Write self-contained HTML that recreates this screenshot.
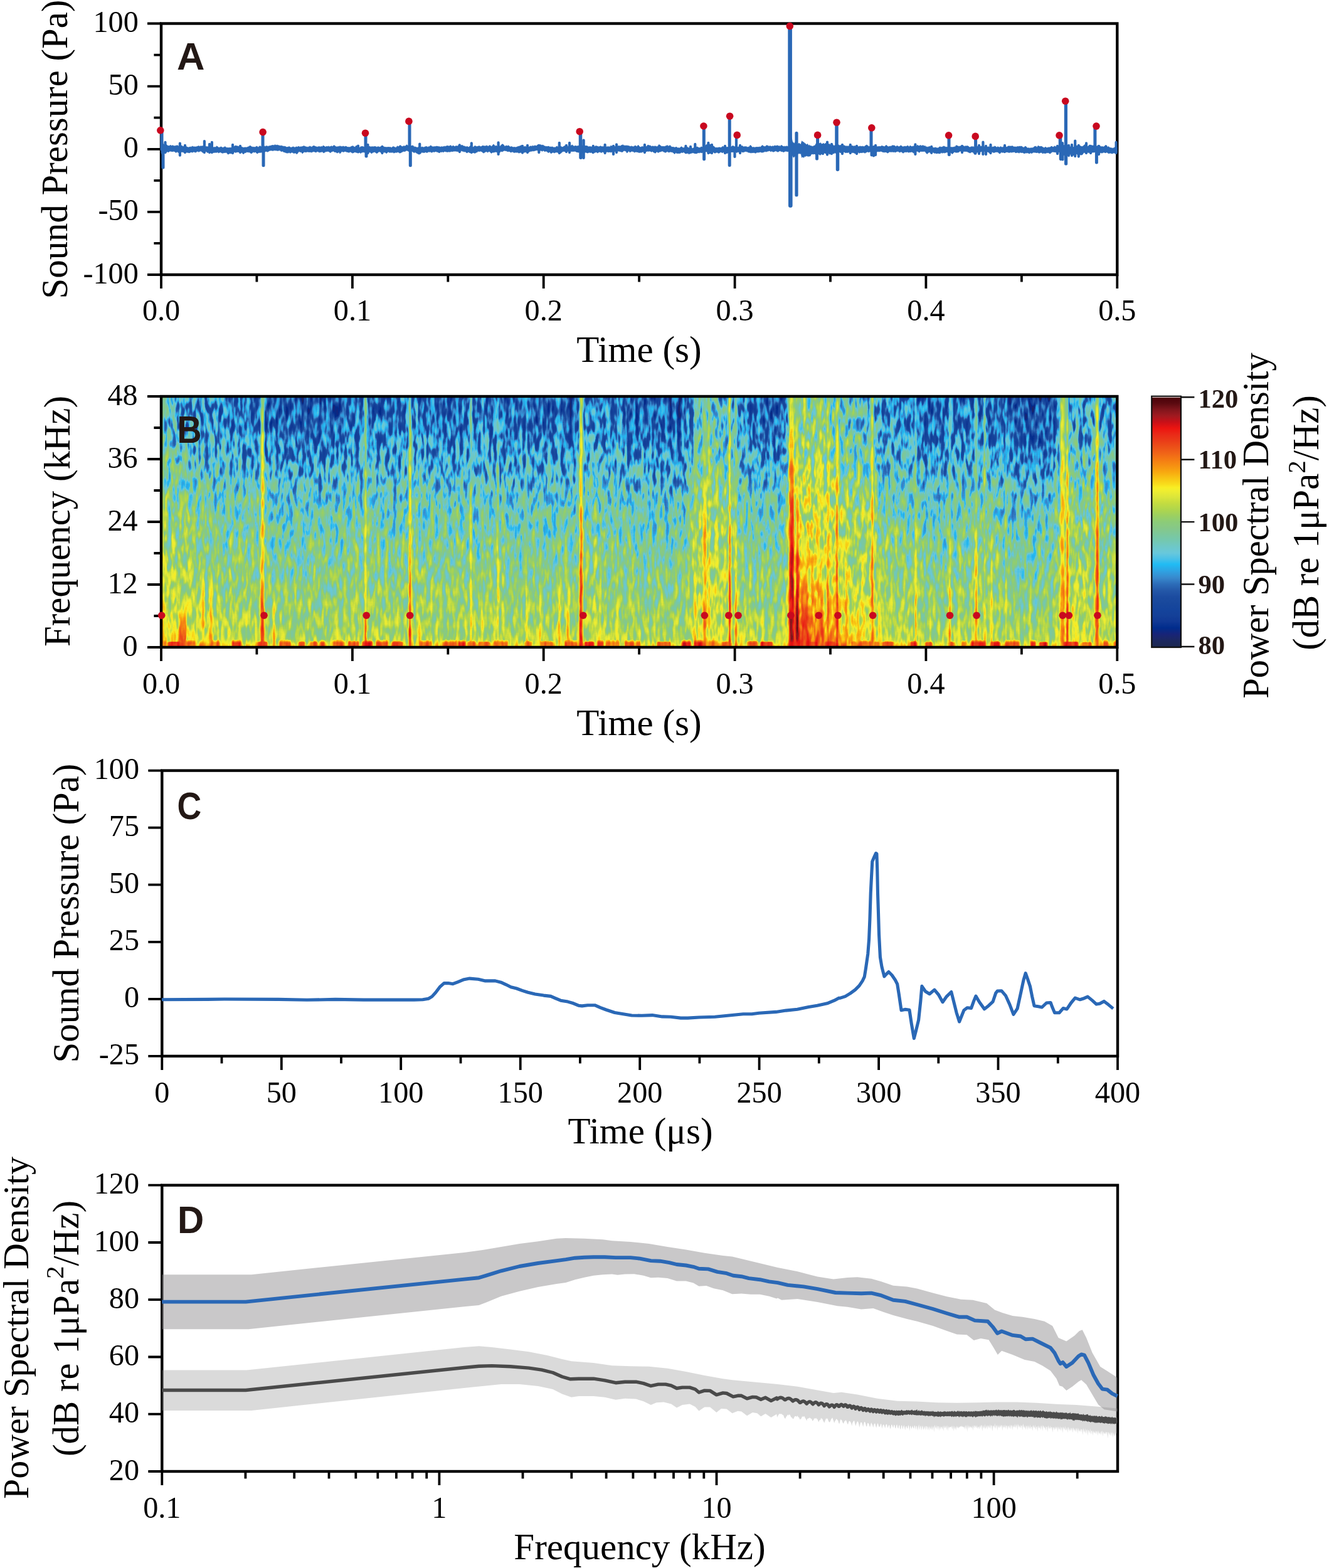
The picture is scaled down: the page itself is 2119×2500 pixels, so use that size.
<!DOCTYPE html>
<html lang="en"><head><meta charset="utf-8"><title>Figure</title>
<style>
html,body{margin:0;padding:0;background:#fff}
body{width:2119px;height:2500px;overflow:hidden}
svg{display:block}
text{white-space:pre}
</style></head><body>
<svg width="2119" height="2500" viewBox="0 0 2119 2500">
<rect width="2119" height="2500" fill="#fff"/>
<defs><filter id="cm" filterUnits="userSpaceOnUse" x="247.0" y="622.0" width="1544.3" height="420.0" color-interpolation-filters="sRGB"><feColorMatrix in="SourceGraphic" type="matrix" values="1 0 0 0 0 1 0 0 0 0 1 0 0 0 0 0 0 0 0 1" result="lv"/><feColorMatrix in="SourceGraphic" type="matrix" values="0 1 0 0 0 0 1 0 0 0 0 1 0 0 0 0 0 0 0 1" result="am"/><feTurbulence type="fractalNoise" baseFrequency="0.15 0.042" numOctaves="2" seed="4" result="n"/><feColorMatrix in="n" type="matrix" values="1 0 0 0 0 1 0 0 0 0 1 0 0 0 0 0 0 0 0 1" result="ng"/><feComponentTransfer in="ng" result="nt"><feFuncR type="table" tableValues="0.29 0.29 0.29 0.31 0.39 0.55 0.65 0.71 0.75 0.78 0.8"/><feFuncG type="table" tableValues="0.29 0.29 0.29 0.31 0.39 0.55 0.65 0.71 0.75 0.78 0.8"/><feFuncB type="table" tableValues="0.29 0.29 0.29 0.31 0.39 0.55 0.65 0.71 0.75 0.78 0.8"/></feComponentTransfer><feComposite in="am" in2="nt" operator="arithmetic" k1="1" k2="0" k3="0" k4="0" result="an"/><feComposite in="lv" in2="an" operator="arithmetic" k1="0" k2="1" k3="0.4133" k4="0" result="s1"/><feTurbulence type="fractalNoise" baseFrequency="0.22 0.004" numOctaves="1" seed="5" result="m"/><feColorMatrix in="m" type="matrix" values="1 0 0 0 0 1 0 0 0 0 1 0 0 0 0 0 0 0 0 1" result="mg"/><feComposite in="s1" in2="mg" operator="arithmetic" k1="0" k2="1" k3="0.0833" k4="-0.0417" result="s"/><feComponentTransfer in="s"><feFuncR type="table" tableValues="0.11 0.11 0.11 0.11 0.11 0.11 0.11 0.11 0.11 0.11 0.11 0.11 0.11 0.11 0.11 0.11 0.11 0.11 0.11 0.11 0.11 0.11 0.11 0.11 0.11 0.11 0.11 0.11 0.11 0.11 0.11 0.11 0.11 0.11 0.11 0.11 0.11 0.11 0.11 0.11 0.11 0.11 0.11 0.102 0.094 0.047 0 0.031 0.063 0.071 0.078 0.078 0.078 0.086 0.094 0.102 0.11 0.125 0.141 0.157 0.173 0.196 0.22 0.204 0.188 0.162 0.136 0.184 0.282 0.345 0.408 0.42 0.431 0.443 0.455 0.471 0.486 0.506 0.525 0.537 0.549 0.58 0.612 0.651 0.69 0.729 0.769 0.816 0.863 0.902 0.941 0.973 0.973 0.973 0.973 0.973 0.973 0.969 0.965 0.961 0.957 0.949 0.941 0.933 0.925 0.922 0.918 0.918 0.918 0.922 0.925 0.855 0.784 0.706 0.627 0.565 0.502 0.427 0.353 0.322 0.29"/><feFuncG type="table" tableValues="0.157 0.157 0.157 0.157 0.157 0.157 0.157 0.157 0.157 0.157 0.157 0.157 0.157 0.157 0.157 0.157 0.157 0.157 0.157 0.157 0.157 0.157 0.157 0.157 0.157 0.157 0.157 0.157 0.157 0.157 0.157 0.157 0.157 0.157 0.157 0.157 0.157 0.157 0.157 0.157 0.157 0.157 0.157 0.149 0.141 0.157 0.173 0.196 0.22 0.235 0.251 0.259 0.267 0.275 0.282 0.29 0.298 0.322 0.345 0.384 0.424 0.478 0.533 0.58 0.627 0.673 0.719 0.743 0.753 0.769 0.784 0.784 0.784 0.784 0.784 0.784 0.784 0.784 0.784 0.792 0.8 0.808 0.816 0.827 0.839 0.851 0.863 0.882 0.902 0.918 0.933 0.933 0.871 0.82 0.769 0.714 0.659 0.612 0.565 0.522 0.478 0.435 0.392 0.353 0.314 0.275 0.235 0.2 0.165 0.122 0.078 0.071 0.063 0.082 0.102 0.092 0.082 0.061 0.039 0.02 0"/><feFuncB type="table" tableValues="0.314 0.314 0.314 0.314 0.314 0.314 0.314 0.314 0.314 0.314 0.314 0.314 0.314 0.314 0.314 0.314 0.314 0.314 0.314 0.314 0.314 0.314 0.314 0.314 0.314 0.314 0.314 0.314 0.314 0.314 0.314 0.314 0.314 0.314 0.314 0.314 0.314 0.314 0.314 0.314 0.314 0.345 0.376 0.424 0.471 0.51 0.549 0.565 0.58 0.588 0.596 0.604 0.612 0.612 0.612 0.62 0.627 0.643 0.659 0.69 0.722 0.761 0.8 0.839 0.878 0.911 0.944 0.939 0.91 0.886 0.863 0.824 0.784 0.737 0.69 0.651 0.612 0.573 0.533 0.502 0.471 0.424 0.376 0.337 0.298 0.275 0.251 0.239 0.227 0.208 0.188 0.141 0.11 0.094 0.078 0.071 0.063 0.067 0.071 0.075 0.078 0.086 0.094 0.094 0.094 0.094 0.094 0.094 0.094 0.078 0.063 0.078 0.094 0.11 0.125 0.118 0.11 0.086 0.063 0.047 0.031"/></feComponentTransfer></filter><filter id="bh" filterUnits="userSpaceOnUse" x="217.0" y="622.0" width="1604.3" height="420.0" color-interpolation-filters="sRGB"><feGaussianBlur stdDeviation="5 0"/></filter><filter id="bs" filterUnits="userSpaceOnUse" x="217.0" y="622.0" width="1604.3" height="420.0" color-interpolation-filters="sRGB"><feGaussianBlur stdDeviation="0.8 0"/></filter><clipPath id="cb"><rect x="257.0" y="632.0" width="1524.3" height="400.0"/></clipPath><linearGradient id="g1" gradientUnits="userSpaceOnUse" x1="0" y1="632.0" x2="0" y2="1032.0"><stop offset="0.0000" stop-color="#57ff00"/><stop offset="0.1250" stop-color="#5aff00"/><stop offset="0.2500" stop-color="#63ff00"/><stop offset="0.3750" stop-color="#72eb00"/><stop offset="0.5000" stop-color="#7cd600"/><stop offset="0.6250" stop-color="#85c200"/><stop offset="0.7500" stop-color="#8ead00"/><stop offset="0.8125" stop-color="#93a300"/><stop offset="0.8750" stop-color="#989900"/><stop offset="0.9375" stop-color="#9d8f00"/><stop offset="0.9688" stop-color="#a18a00"/><stop offset="0.9792" stop-color="#a68800"/><stop offset="0.9896" stop-color="#ae8600"/><stop offset="1.0000" stop-color="#b38500"/></linearGradient><linearGradient id="g2" gradientUnits="userSpaceOnUse" x1="0" y1="632.0" x2="0" y2="1032.0"><stop offset="0.0000" stop-color="#57ff00"/><stop offset="0.1250" stop-color="#5aff00"/><stop offset="0.2500" stop-color="#63ff00"/><stop offset="0.3750" stop-color="#72eb00"/><stop offset="0.5000" stop-color="#7cd600"/><stop offset="0.6250" stop-color="#85c200"/><stop offset="0.7500" stop-color="#8ead00"/><stop offset="0.8125" stop-color="#93a300"/><stop offset="0.8750" stop-color="#989900"/><stop offset="0.9375" stop-color="#9d8f00"/><stop offset="0.9688" stop-color="#a18a00"/><stop offset="0.9792" stop-color="#a68800"/><stop offset="0.9896" stop-color="#ae8600"/><stop offset="1.0000" stop-color="#b38500"/></linearGradient><linearGradient id="g3" gradientUnits="userSpaceOnUse" x1="0" y1="632.0" x2="0" y2="1032.0"><stop offset="0.0000" stop-color="#57ff00"/><stop offset="0.1250" stop-color="#5aff00"/><stop offset="0.2500" stop-color="#63ff00"/><stop offset="0.3750" stop-color="#72eb00"/><stop offset="0.5000" stop-color="#7cd600"/><stop offset="0.6250" stop-color="#85c200"/><stop offset="0.7500" stop-color="#8dad00"/><stop offset="0.8125" stop-color="#93a300"/><stop offset="0.8750" stop-color="#989900"/><stop offset="0.9375" stop-color="#9d8f00"/><stop offset="0.9688" stop-color="#a18a00"/><stop offset="0.9792" stop-color="#a68800"/><stop offset="0.9896" stop-color="#ae8600"/><stop offset="1.0000" stop-color="#b28500"/></linearGradient><linearGradient id="g4" gradientUnits="userSpaceOnUse" x1="0" y1="632.0" x2="0" y2="1032.0"><stop offset="0.0000" stop-color="#56ff00"/><stop offset="0.1250" stop-color="#59ff00"/><stop offset="0.2500" stop-color="#62ff00"/><stop offset="0.3750" stop-color="#71eb00"/><stop offset="0.5000" stop-color="#7bd600"/><stop offset="0.6250" stop-color="#84c200"/><stop offset="0.7500" stop-color="#8dad00"/><stop offset="0.8125" stop-color="#92a300"/><stop offset="0.8750" stop-color="#989900"/><stop offset="0.9375" stop-color="#9d8f00"/><stop offset="0.9688" stop-color="#a18a00"/><stop offset="0.9792" stop-color="#a58800"/><stop offset="0.9896" stop-color="#ae8600"/><stop offset="1.0000" stop-color="#b28500"/></linearGradient><linearGradient id="g5" gradientUnits="userSpaceOnUse" x1="0" y1="632.0" x2="0" y2="1032.0"><stop offset="0.0000" stop-color="#54ff00"/><stop offset="0.1250" stop-color="#57ff00"/><stop offset="0.2500" stop-color="#61ff00"/><stop offset="0.3750" stop-color="#6feb00"/><stop offset="0.5000" stop-color="#7ad600"/><stop offset="0.6250" stop-color="#83c200"/><stop offset="0.7500" stop-color="#8cad00"/><stop offset="0.8125" stop-color="#91a300"/><stop offset="0.8750" stop-color="#979900"/><stop offset="0.9375" stop-color="#9c8f00"/><stop offset="0.9688" stop-color="#a08a00"/><stop offset="0.9792" stop-color="#a58800"/><stop offset="0.9896" stop-color="#ad8600"/><stop offset="1.0000" stop-color="#b18500"/></linearGradient><linearGradient id="g6" gradientUnits="userSpaceOnUse" x1="0" y1="632.0" x2="0" y2="1032.0"><stop offset="0.0000" stop-color="#52ff00"/><stop offset="0.1250" stop-color="#55ff00"/><stop offset="0.2500" stop-color="#5fff00"/><stop offset="0.3750" stop-color="#6eeb00"/><stop offset="0.5000" stop-color="#79d600"/><stop offset="0.6250" stop-color="#82c200"/><stop offset="0.7500" stop-color="#8bad00"/><stop offset="0.8125" stop-color="#90a300"/><stop offset="0.8750" stop-color="#969900"/><stop offset="0.9375" stop-color="#9b8f00"/><stop offset="0.9688" stop-color="#9f8a00"/><stop offset="0.9792" stop-color="#a48800"/><stop offset="0.9896" stop-color="#ac8600"/><stop offset="1.0000" stop-color="#b18500"/></linearGradient><linearGradient id="g7" gradientUnits="userSpaceOnUse" x1="0" y1="632.0" x2="0" y2="1032.0"><stop offset="0.0000" stop-color="#4fff00"/><stop offset="0.1250" stop-color="#53ff00"/><stop offset="0.2500" stop-color="#5dff00"/><stop offset="0.3750" stop-color="#6ceb00"/><stop offset="0.5000" stop-color="#77d600"/><stop offset="0.6250" stop-color="#80c200"/><stop offset="0.7500" stop-color="#89ad00"/><stop offset="0.8125" stop-color="#8fa300"/><stop offset="0.8750" stop-color="#959900"/><stop offset="0.9375" stop-color="#9a8f00"/><stop offset="0.9688" stop-color="#9e8a00"/><stop offset="0.9792" stop-color="#a38800"/><stop offset="0.9896" stop-color="#ab8600"/><stop offset="1.0000" stop-color="#b08500"/></linearGradient><linearGradient id="g8" gradientUnits="userSpaceOnUse" x1="0" y1="632.0" x2="0" y2="1032.0"><stop offset="0.0000" stop-color="#4dff00"/><stop offset="0.1250" stop-color="#50ff00"/><stop offset="0.2500" stop-color="#5aff00"/><stop offset="0.3750" stop-color="#6aeb00"/><stop offset="0.5000" stop-color="#75d600"/><stop offset="0.6250" stop-color="#7fc200"/><stop offset="0.7500" stop-color="#88ad00"/><stop offset="0.8125" stop-color="#8ea300"/><stop offset="0.8750" stop-color="#939900"/><stop offset="0.9375" stop-color="#988f00"/><stop offset="0.9688" stop-color="#9c8a00"/><stop offset="0.9792" stop-color="#a18800"/><stop offset="0.9896" stop-color="#a98600"/><stop offset="1.0000" stop-color="#ae8500"/></linearGradient><linearGradient id="g9" gradientUnits="userSpaceOnUse" x1="0" y1="632.0" x2="0" y2="1032.0"><stop offset="0.0000" stop-color="#4bff00"/><stop offset="0.1250" stop-color="#4eff00"/><stop offset="0.2500" stop-color="#59ff00"/><stop offset="0.3750" stop-color="#68eb00"/><stop offset="0.5000" stop-color="#74d600"/><stop offset="0.6250" stop-color="#7dc200"/><stop offset="0.7500" stop-color="#87ad00"/><stop offset="0.8125" stop-color="#8ca300"/><stop offset="0.8750" stop-color="#929900"/><stop offset="0.9375" stop-color="#978f00"/><stop offset="0.9688" stop-color="#9a8a00"/><stop offset="0.9792" stop-color="#9f8800"/><stop offset="0.9896" stop-color="#a78600"/><stop offset="1.0000" stop-color="#ac8500"/></linearGradient><linearGradient id="g10" gradientUnits="userSpaceOnUse" x1="0" y1="632.0" x2="0" y2="1032.0"><stop offset="0.0000" stop-color="#4aff00"/><stop offset="0.1250" stop-color="#4eff00"/><stop offset="0.2500" stop-color="#58ff00"/><stop offset="0.3750" stop-color="#68eb00"/><stop offset="0.5000" stop-color="#73d600"/><stop offset="0.6250" stop-color="#7dc200"/><stop offset="0.7500" stop-color="#86ad00"/><stop offset="0.8125" stop-color="#8ba300"/><stop offset="0.8750" stop-color="#919900"/><stop offset="0.9375" stop-color="#958f00"/><stop offset="0.9688" stop-color="#998a00"/><stop offset="0.9792" stop-color="#9e8800"/><stop offset="0.9896" stop-color="#a68600"/><stop offset="1.0000" stop-color="#aa8500"/></linearGradient><linearGradient id="g11" gradientUnits="userSpaceOnUse" x1="0" y1="632.0" x2="0" y2="1032.0"><stop offset="0.0000" stop-color="#49ff00"/><stop offset="0.1250" stop-color="#4dff00"/><stop offset="0.2500" stop-color="#57ff00"/><stop offset="0.3750" stop-color="#67eb00"/><stop offset="0.5000" stop-color="#72d600"/><stop offset="0.6250" stop-color="#7cc200"/><stop offset="0.7500" stop-color="#85ad00"/><stop offset="0.8125" stop-color="#8ba300"/><stop offset="0.8750" stop-color="#909900"/><stop offset="0.9375" stop-color="#958f00"/><stop offset="0.9688" stop-color="#988a00"/><stop offset="0.9792" stop-color="#9d8800"/><stop offset="0.9896" stop-color="#a58600"/><stop offset="1.0000" stop-color="#a98500"/></linearGradient><linearGradient id="g12" gradientUnits="userSpaceOnUse" x1="0" y1="632.0" x2="0" y2="1032.0"><stop offset="0.0000" stop-color="#48ff00"/><stop offset="0.1250" stop-color="#4cff00"/><stop offset="0.2500" stop-color="#56ff00"/><stop offset="0.3750" stop-color="#66eb00"/><stop offset="0.5000" stop-color="#72d600"/><stop offset="0.6250" stop-color="#7cc200"/><stop offset="0.7500" stop-color="#85ad00"/><stop offset="0.8125" stop-color="#8aa300"/><stop offset="0.8750" stop-color="#8f9900"/><stop offset="0.9375" stop-color="#948f00"/><stop offset="0.9688" stop-color="#988a00"/><stop offset="0.9792" stop-color="#9c8800"/><stop offset="0.9896" stop-color="#a48600"/><stop offset="1.0000" stop-color="#a98500"/></linearGradient><linearGradient id="g13" gradientUnits="userSpaceOnUse" x1="0" y1="632.0" x2="0" y2="1032.0"><stop offset="0.0000" stop-color="#47ff00"/><stop offset="0.1250" stop-color="#4bff00"/><stop offset="0.2500" stop-color="#55ff00"/><stop offset="0.3750" stop-color="#65eb00"/><stop offset="0.5000" stop-color="#71d600"/><stop offset="0.6250" stop-color="#7bc200"/><stop offset="0.7500" stop-color="#84ad00"/><stop offset="0.8125" stop-color="#89a300"/><stop offset="0.8750" stop-color="#8f9900"/><stop offset="0.9375" stop-color="#938f00"/><stop offset="0.9688" stop-color="#978a00"/><stop offset="0.9792" stop-color="#9b8800"/><stop offset="0.9896" stop-color="#a38600"/><stop offset="1.0000" stop-color="#a88500"/></linearGradient><linearGradient id="g14" gradientUnits="userSpaceOnUse" x1="0" y1="632.0" x2="0" y2="1032.0"><stop offset="0.0000" stop-color="#46ff00"/><stop offset="0.1250" stop-color="#4aff00"/><stop offset="0.2500" stop-color="#54ff00"/><stop offset="0.3750" stop-color="#64eb00"/><stop offset="0.5000" stop-color="#70d600"/><stop offset="0.6250" stop-color="#7ac200"/><stop offset="0.7500" stop-color="#84ad00"/><stop offset="0.8125" stop-color="#89a300"/><stop offset="0.8750" stop-color="#8e9900"/><stop offset="0.9375" stop-color="#938f00"/><stop offset="0.9688" stop-color="#968a00"/><stop offset="0.9792" stop-color="#9b8800"/><stop offset="0.9896" stop-color="#a38600"/><stop offset="1.0000" stop-color="#a78500"/></linearGradient><linearGradient id="g15" gradientUnits="userSpaceOnUse" x1="0" y1="632.0" x2="0" y2="1032.0"><stop offset="0.0000" stop-color="#46ff00"/><stop offset="0.1250" stop-color="#4aff00"/><stop offset="0.2500" stop-color="#54ff00"/><stop offset="0.3750" stop-color="#65eb00"/><stop offset="0.5000" stop-color="#70d600"/><stop offset="0.6250" stop-color="#7bc200"/><stop offset="0.7500" stop-color="#84ad00"/><stop offset="0.8125" stop-color="#89a300"/><stop offset="0.8750" stop-color="#8e9900"/><stop offset="0.9375" stop-color="#938f00"/><stop offset="0.9688" stop-color="#968a00"/><stop offset="0.9792" stop-color="#9b8800"/><stop offset="0.9896" stop-color="#a38600"/><stop offset="1.0000" stop-color="#a78500"/></linearGradient><linearGradient id="g16" gradientUnits="userSpaceOnUse" x1="0" y1="632.0" x2="0" y2="1032.0"><stop offset="0.0000" stop-color="#44ff00"/><stop offset="0.1250" stop-color="#49ff00"/><stop offset="0.2500" stop-color="#53ff00"/><stop offset="0.3750" stop-color="#64eb00"/><stop offset="0.5000" stop-color="#6fd600"/><stop offset="0.6250" stop-color="#7ac200"/><stop offset="0.7500" stop-color="#83ad00"/><stop offset="0.8125" stop-color="#88a300"/><stop offset="0.8750" stop-color="#8d9900"/><stop offset="0.9375" stop-color="#928f00"/><stop offset="0.9688" stop-color="#968a00"/><stop offset="0.9792" stop-color="#9a8800"/><stop offset="0.9896" stop-color="#a28600"/><stop offset="1.0000" stop-color="#a78500"/></linearGradient><linearGradient id="g17" gradientUnits="userSpaceOnUse" x1="0" y1="632.0" x2="0" y2="1032.0"><stop offset="0.0000" stop-color="#41ff00"/><stop offset="0.1250" stop-color="#46ff00"/><stop offset="0.2500" stop-color="#51ff00"/><stop offset="0.3750" stop-color="#61eb00"/><stop offset="0.5000" stop-color="#6dd600"/><stop offset="0.6250" stop-color="#78c200"/><stop offset="0.7500" stop-color="#81ad00"/><stop offset="0.8125" stop-color="#87a300"/><stop offset="0.8750" stop-color="#8c9900"/><stop offset="0.9375" stop-color="#918f00"/><stop offset="0.9688" stop-color="#948a00"/><stop offset="0.9792" stop-color="#998800"/><stop offset="0.9896" stop-color="#a18600"/><stop offset="1.0000" stop-color="#a68500"/></linearGradient><linearGradient id="g18" gradientUnits="userSpaceOnUse" x1="0" y1="632.0" x2="0" y2="1032.0"><stop offset="0.0000" stop-color="#40ff00"/><stop offset="0.1250" stop-color="#45ff00"/><stop offset="0.2500" stop-color="#50ff00"/><stop offset="0.3750" stop-color="#61eb00"/><stop offset="0.5000" stop-color="#6dd600"/><stop offset="0.6250" stop-color="#77c200"/><stop offset="0.7500" stop-color="#81ad00"/><stop offset="0.8125" stop-color="#86a300"/><stop offset="0.8750" stop-color="#8c9900"/><stop offset="0.9375" stop-color="#918f00"/><stop offset="0.9688" stop-color="#948a00"/><stop offset="0.9792" stop-color="#998800"/><stop offset="0.9896" stop-color="#a18600"/><stop offset="1.0000" stop-color="#a68500"/></linearGradient><linearGradient id="g19" gradientUnits="userSpaceOnUse" x1="0" y1="632.0" x2="0" y2="1032.0"><stop offset="0.0000" stop-color="#40ff00"/><stop offset="0.1250" stop-color="#45ff00"/><stop offset="0.2500" stop-color="#50ff00"/><stop offset="0.3750" stop-color="#60eb00"/><stop offset="0.5000" stop-color="#6cd600"/><stop offset="0.6250" stop-color="#77c200"/><stop offset="0.7500" stop-color="#81ad00"/><stop offset="0.8125" stop-color="#86a300"/><stop offset="0.8750" stop-color="#8b9900"/><stop offset="0.9375" stop-color="#908f00"/><stop offset="0.9688" stop-color="#948a00"/><stop offset="0.9792" stop-color="#998800"/><stop offset="0.9896" stop-color="#a18600"/><stop offset="1.0000" stop-color="#a58500"/></linearGradient><linearGradient id="g20" gradientUnits="userSpaceOnUse" x1="0" y1="632.0" x2="0" y2="1032.0"><stop offset="0.0000" stop-color="#3fff00"/><stop offset="0.1250" stop-color="#44ff00"/><stop offset="0.2500" stop-color="#4fff00"/><stop offset="0.3750" stop-color="#60eb00"/><stop offset="0.5000" stop-color="#6cd600"/><stop offset="0.6250" stop-color="#77c200"/><stop offset="0.7500" stop-color="#81ad00"/><stop offset="0.8125" stop-color="#86a300"/><stop offset="0.8750" stop-color="#8b9900"/><stop offset="0.9375" stop-color="#908f00"/><stop offset="0.9688" stop-color="#948a00"/><stop offset="0.9792" stop-color="#988800"/><stop offset="0.9896" stop-color="#a08600"/><stop offset="1.0000" stop-color="#a58500"/></linearGradient><linearGradient id="g21" gradientUnits="userSpaceOnUse" x1="0" y1="632.0" x2="0" y2="1032.0"><stop offset="0.0000" stop-color="#3fff00"/><stop offset="0.1250" stop-color="#44ff00"/><stop offset="0.2500" stop-color="#4fff00"/><stop offset="0.3750" stop-color="#5feb00"/><stop offset="0.5000" stop-color="#6cd600"/><stop offset="0.6250" stop-color="#76c200"/><stop offset="0.7500" stop-color="#80ad00"/><stop offset="0.8125" stop-color="#86a300"/><stop offset="0.8750" stop-color="#8b9900"/><stop offset="0.9375" stop-color="#908f00"/><stop offset="0.9688" stop-color="#948a00"/><stop offset="0.9792" stop-color="#988800"/><stop offset="0.9896" stop-color="#a08600"/><stop offset="1.0000" stop-color="#a58500"/></linearGradient><linearGradient id="g22" gradientUnits="userSpaceOnUse" x1="0" y1="632.0" x2="0" y2="1032.0"><stop offset="0.0000" stop-color="#3fff00"/><stop offset="0.1250" stop-color="#44ff00"/><stop offset="0.2500" stop-color="#4fff00"/><stop offset="0.3750" stop-color="#5feb00"/><stop offset="0.5000" stop-color="#6cd600"/><stop offset="0.6250" stop-color="#77c200"/><stop offset="0.7500" stop-color="#80ad00"/><stop offset="0.8125" stop-color="#86a300"/><stop offset="0.8750" stop-color="#8b9900"/><stop offset="0.9375" stop-color="#908f00"/><stop offset="0.9688" stop-color="#948a00"/><stop offset="0.9792" stop-color="#988800"/><stop offset="0.9896" stop-color="#a08600"/><stop offset="1.0000" stop-color="#a58500"/></linearGradient><linearGradient id="g23" gradientUnits="userSpaceOnUse" x1="0" y1="632.0" x2="0" y2="1032.0"><stop offset="0.0000" stop-color="#3fff00"/><stop offset="0.1250" stop-color="#44ff00"/><stop offset="0.2500" stop-color="#4fff00"/><stop offset="0.3750" stop-color="#60eb00"/><stop offset="0.5000" stop-color="#6cd600"/><stop offset="0.6250" stop-color="#77c200"/><stop offset="0.7500" stop-color="#80ad00"/><stop offset="0.8125" stop-color="#86a300"/><stop offset="0.8750" stop-color="#8b9900"/><stop offset="0.9375" stop-color="#908f00"/><stop offset="0.9688" stop-color="#948a00"/><stop offset="0.9792" stop-color="#988800"/><stop offset="0.9896" stop-color="#a08600"/><stop offset="1.0000" stop-color="#a58500"/></linearGradient><linearGradient id="g24" gradientUnits="userSpaceOnUse" x1="0" y1="632.0" x2="0" y2="1032.0"><stop offset="0.0000" stop-color="#3fff00"/><stop offset="0.1250" stop-color="#44ff00"/><stop offset="0.2500" stop-color="#4fff00"/><stop offset="0.3750" stop-color="#60eb00"/><stop offset="0.5000" stop-color="#6cd600"/><stop offset="0.6250" stop-color="#77c200"/><stop offset="0.7500" stop-color="#81ad00"/><stop offset="0.8125" stop-color="#86a300"/><stop offset="0.8750" stop-color="#8b9900"/><stop offset="0.9375" stop-color="#908f00"/><stop offset="0.9688" stop-color="#948a00"/><stop offset="0.9792" stop-color="#988800"/><stop offset="0.9896" stop-color="#a18600"/><stop offset="1.0000" stop-color="#a58500"/></linearGradient><linearGradient id="g25" gradientUnits="userSpaceOnUse" x1="0" y1="632.0" x2="0" y2="1032.0"><stop offset="0.0000" stop-color="#40ff00"/><stop offset="0.1250" stop-color="#44ff00"/><stop offset="0.2500" stop-color="#4fff00"/><stop offset="0.3750" stop-color="#60eb00"/><stop offset="0.5000" stop-color="#6cd600"/><stop offset="0.6250" stop-color="#77c200"/><stop offset="0.7500" stop-color="#81ad00"/><stop offset="0.8125" stop-color="#86a300"/><stop offset="0.8750" stop-color="#8b9900"/><stop offset="0.9375" stop-color="#908f00"/><stop offset="0.9688" stop-color="#948a00"/><stop offset="0.9792" stop-color="#998800"/><stop offset="0.9896" stop-color="#a18600"/><stop offset="1.0000" stop-color="#a58500"/></linearGradient><linearGradient id="g26" gradientUnits="userSpaceOnUse" x1="0" y1="632.0" x2="0" y2="1032.0"><stop offset="0.0000" stop-color="#40ff00"/><stop offset="0.1250" stop-color="#45ff00"/><stop offset="0.2500" stop-color="#50ff00"/><stop offset="0.3750" stop-color="#60eb00"/><stop offset="0.5000" stop-color="#6dd600"/><stop offset="0.6250" stop-color="#77c200"/><stop offset="0.7500" stop-color="#81ad00"/><stop offset="0.8125" stop-color="#86a300"/><stop offset="0.8750" stop-color="#8b9900"/><stop offset="0.9375" stop-color="#908f00"/><stop offset="0.9688" stop-color="#948a00"/><stop offset="0.9792" stop-color="#998800"/><stop offset="0.9896" stop-color="#a18600"/><stop offset="1.0000" stop-color="#a58500"/></linearGradient><linearGradient id="g27" gradientUnits="userSpaceOnUse" x1="0" y1="632.0" x2="0" y2="1032.0"><stop offset="0.0000" stop-color="#42ff00"/><stop offset="0.1250" stop-color="#47ff00"/><stop offset="0.2500" stop-color="#52ff00"/><stop offset="0.3750" stop-color="#62eb00"/><stop offset="0.5000" stop-color="#6ed600"/><stop offset="0.6250" stop-color="#78c200"/><stop offset="0.7500" stop-color="#82ad00"/><stop offset="0.8125" stop-color="#87a300"/><stop offset="0.8750" stop-color="#8c9900"/><stop offset="0.9375" stop-color="#918f00"/><stop offset="0.9688" stop-color="#958a00"/><stop offset="0.9792" stop-color="#998800"/><stop offset="0.9896" stop-color="#a28600"/><stop offset="1.0000" stop-color="#a68500"/></linearGradient><linearGradient id="g28" gradientUnits="userSpaceOnUse" x1="0" y1="632.0" x2="0" y2="1032.0"><stop offset="0.0000" stop-color="#45ff00"/><stop offset="0.1250" stop-color="#49ff00"/><stop offset="0.2500" stop-color="#54ff00"/><stop offset="0.3750" stop-color="#64eb00"/><stop offset="0.5000" stop-color="#70d600"/><stop offset="0.6250" stop-color="#7ac200"/><stop offset="0.7500" stop-color="#83ad00"/><stop offset="0.8125" stop-color="#88a300"/><stop offset="0.8750" stop-color="#8d9900"/><stop offset="0.9375" stop-color="#928f00"/><stop offset="0.9688" stop-color="#968a00"/><stop offset="0.9792" stop-color="#9a8800"/><stop offset="0.9896" stop-color="#a28600"/><stop offset="1.0000" stop-color="#a78500"/></linearGradient><linearGradient id="g29" gradientUnits="userSpaceOnUse" x1="0" y1="632.0" x2="0" y2="1032.0"><stop offset="0.0000" stop-color="#45ff00"/><stop offset="0.1250" stop-color="#49ff00"/><stop offset="0.2500" stop-color="#54ff00"/><stop offset="0.3750" stop-color="#64eb00"/><stop offset="0.5000" stop-color="#70d600"/><stop offset="0.6250" stop-color="#7ac200"/><stop offset="0.7500" stop-color="#83ad00"/><stop offset="0.8125" stop-color="#89a300"/><stop offset="0.8750" stop-color="#8e9900"/><stop offset="0.9375" stop-color="#928f00"/><stop offset="0.9688" stop-color="#968a00"/><stop offset="0.9792" stop-color="#9b8800"/><stop offset="0.9896" stop-color="#a38600"/><stop offset="1.0000" stop-color="#a78500"/></linearGradient><linearGradient id="g30" gradientUnits="userSpaceOnUse" x1="0" y1="632.0" x2="0" y2="1032.0"><stop offset="0.0000" stop-color="#45ff00"/><stop offset="0.1250" stop-color="#49ff00"/><stop offset="0.2500" stop-color="#54ff00"/><stop offset="0.3750" stop-color="#64eb00"/><stop offset="0.5000" stop-color="#70d600"/><stop offset="0.6250" stop-color="#7ac200"/><stop offset="0.7500" stop-color="#83ad00"/><stop offset="0.8125" stop-color="#89a300"/><stop offset="0.8750" stop-color="#8e9900"/><stop offset="0.9375" stop-color="#928f00"/><stop offset="0.9688" stop-color="#968a00"/><stop offset="0.9792" stop-color="#9b8800"/><stop offset="0.9896" stop-color="#a38600"/><stop offset="1.0000" stop-color="#a78500"/></linearGradient><linearGradient id="g31" gradientUnits="userSpaceOnUse" x1="0" y1="632.0" x2="0" y2="1032.0"><stop offset="0.0000" stop-color="#45ff00"/><stop offset="0.1250" stop-color="#49ff00"/><stop offset="0.2500" stop-color="#54ff00"/><stop offset="0.3750" stop-color="#64eb00"/><stop offset="0.5000" stop-color="#70d600"/><stop offset="0.6250" stop-color="#7ac200"/><stop offset="0.7500" stop-color="#83ad00"/><stop offset="0.8125" stop-color="#89a300"/><stop offset="0.8750" stop-color="#8e9900"/><stop offset="0.9375" stop-color="#928f00"/><stop offset="0.9688" stop-color="#968a00"/><stop offset="0.9792" stop-color="#9b8800"/><stop offset="0.9896" stop-color="#a38600"/><stop offset="1.0000" stop-color="#a78500"/></linearGradient><linearGradient id="g32" gradientUnits="userSpaceOnUse" x1="0" y1="632.0" x2="0" y2="1032.0"><stop offset="0.0000" stop-color="#44ff00"/><stop offset="0.1250" stop-color="#49ff00"/><stop offset="0.2500" stop-color="#53ff00"/><stop offset="0.3750" stop-color="#64eb00"/><stop offset="0.5000" stop-color="#6fd600"/><stop offset="0.6250" stop-color="#7ac200"/><stop offset="0.7500" stop-color="#83ad00"/><stop offset="0.8125" stop-color="#88a300"/><stop offset="0.8750" stop-color="#8d9900"/><stop offset="0.9375" stop-color="#928f00"/><stop offset="0.9688" stop-color="#968a00"/><stop offset="0.9792" stop-color="#9a8800"/><stop offset="0.9896" stop-color="#a28600"/><stop offset="1.0000" stop-color="#a78500"/></linearGradient><linearGradient id="g33" gradientUnits="userSpaceOnUse" x1="0" y1="632.0" x2="0" y2="1032.0"><stop offset="0.0000" stop-color="#43ff00"/><stop offset="0.1250" stop-color="#48ff00"/><stop offset="0.2500" stop-color="#53ff00"/><stop offset="0.3750" stop-color="#63eb00"/><stop offset="0.5000" stop-color="#6fd600"/><stop offset="0.6250" stop-color="#79c200"/><stop offset="0.7500" stop-color="#83ad00"/><stop offset="0.8125" stop-color="#88a300"/><stop offset="0.8750" stop-color="#8d9900"/><stop offset="0.9375" stop-color="#928f00"/><stop offset="0.9688" stop-color="#958a00"/><stop offset="0.9792" stop-color="#9a8800"/><stop offset="0.9896" stop-color="#a28600"/><stop offset="1.0000" stop-color="#a78500"/></linearGradient><linearGradient id="g34" gradientUnits="userSpaceOnUse" x1="0" y1="632.0" x2="0" y2="1032.0"><stop offset="0.0000" stop-color="#43ff00"/><stop offset="0.1250" stop-color="#47ff00"/><stop offset="0.2500" stop-color="#52ff00"/><stop offset="0.3750" stop-color="#62eb00"/><stop offset="0.5000" stop-color="#6ed600"/><stop offset="0.6250" stop-color="#79c200"/><stop offset="0.7500" stop-color="#82ad00"/><stop offset="0.8125" stop-color="#87a300"/><stop offset="0.8750" stop-color="#8d9900"/><stop offset="0.9375" stop-color="#918f00"/><stop offset="0.9688" stop-color="#958a00"/><stop offset="0.9792" stop-color="#9a8800"/><stop offset="0.9896" stop-color="#a28600"/><stop offset="1.0000" stop-color="#a68500"/></linearGradient><linearGradient id="g35" gradientUnits="userSpaceOnUse" x1="0" y1="632.0" x2="0" y2="1032.0"><stop offset="0.0000" stop-color="#45ff00"/><stop offset="0.1250" stop-color="#49ff00"/><stop offset="0.2500" stop-color="#54ff00"/><stop offset="0.3750" stop-color="#64eb00"/><stop offset="0.5000" stop-color="#70d600"/><stop offset="0.6250" stop-color="#7ac200"/><stop offset="0.7500" stop-color="#83ad00"/><stop offset="0.8125" stop-color="#88a300"/><stop offset="0.8750" stop-color="#8e9900"/><stop offset="0.9375" stop-color="#928f00"/><stop offset="0.9688" stop-color="#968a00"/><stop offset="0.9792" stop-color="#9a8800"/><stop offset="0.9896" stop-color="#a28600"/><stop offset="1.0000" stop-color="#a78500"/></linearGradient><linearGradient id="g36" gradientUnits="userSpaceOnUse" x1="0" y1="632.0" x2="0" y2="1032.0"><stop offset="0.0000" stop-color="#48ff00"/><stop offset="0.1250" stop-color="#4cff00"/><stop offset="0.2500" stop-color="#57ff00"/><stop offset="0.3750" stop-color="#66eb00"/><stop offset="0.5000" stop-color="#72d600"/><stop offset="0.6250" stop-color="#7cc200"/><stop offset="0.7500" stop-color="#85ad00"/><stop offset="0.8125" stop-color="#8aa300"/><stop offset="0.8750" stop-color="#8f9900"/><stop offset="0.9375" stop-color="#948f00"/><stop offset="0.9688" stop-color="#978a00"/><stop offset="0.9792" stop-color="#9c8800"/><stop offset="0.9896" stop-color="#a48600"/><stop offset="1.0000" stop-color="#a88500"/></linearGradient><linearGradient id="g37" gradientUnits="userSpaceOnUse" x1="0" y1="632.0" x2="0" y2="1032.0"><stop offset="0.0000" stop-color="#47ff00"/><stop offset="0.1250" stop-color="#4bff00"/><stop offset="0.2500" stop-color="#56ff00"/><stop offset="0.3750" stop-color="#66eb00"/><stop offset="0.5000" stop-color="#71d600"/><stop offset="0.6250" stop-color="#7bc200"/><stop offset="0.7500" stop-color="#85ad00"/><stop offset="0.8125" stop-color="#8aa300"/><stop offset="0.8750" stop-color="#8f9900"/><stop offset="0.9375" stop-color="#938f00"/><stop offset="0.9688" stop-color="#978a00"/><stop offset="0.9792" stop-color="#9b8800"/><stop offset="0.9896" stop-color="#a38600"/><stop offset="1.0000" stop-color="#a88500"/></linearGradient><linearGradient id="g38" gradientUnits="userSpaceOnUse" x1="0" y1="632.0" x2="0" y2="1032.0"><stop offset="0.0000" stop-color="#46ff00"/><stop offset="0.1250" stop-color="#4aff00"/><stop offset="0.2500" stop-color="#55ff00"/><stop offset="0.3750" stop-color="#65eb00"/><stop offset="0.5000" stop-color="#70d600"/><stop offset="0.6250" stop-color="#7bc200"/><stop offset="0.7500" stop-color="#84ad00"/><stop offset="0.8125" stop-color="#89a300"/><stop offset="0.8750" stop-color="#8e9900"/><stop offset="0.9375" stop-color="#938f00"/><stop offset="0.9688" stop-color="#968a00"/><stop offset="0.9792" stop-color="#9b8800"/><stop offset="0.9896" stop-color="#a38600"/><stop offset="1.0000" stop-color="#a78500"/></linearGradient><linearGradient id="g39" gradientUnits="userSpaceOnUse" x1="0" y1="632.0" x2="0" y2="1032.0"><stop offset="0.0000" stop-color="#43ff00"/><stop offset="0.1250" stop-color="#48ff00"/><stop offset="0.2500" stop-color="#52ff00"/><stop offset="0.3750" stop-color="#63eb00"/><stop offset="0.5000" stop-color="#6fd600"/><stop offset="0.6250" stop-color="#79c200"/><stop offset="0.7500" stop-color="#83ad00"/><stop offset="0.8125" stop-color="#88a300"/><stop offset="0.8750" stop-color="#8d9900"/><stop offset="0.9375" stop-color="#928f00"/><stop offset="0.9688" stop-color="#958a00"/><stop offset="0.9792" stop-color="#9a8800"/><stop offset="0.9896" stop-color="#a28600"/><stop offset="1.0000" stop-color="#a68500"/></linearGradient><linearGradient id="g40" gradientUnits="userSpaceOnUse" x1="0" y1="632.0" x2="0" y2="1032.0"><stop offset="0.0000" stop-color="#42ff00"/><stop offset="0.1250" stop-color="#47ff00"/><stop offset="0.2500" stop-color="#52ff00"/><stop offset="0.3750" stop-color="#62eb00"/><stop offset="0.5000" stop-color="#6ed600"/><stop offset="0.6250" stop-color="#79c200"/><stop offset="0.7500" stop-color="#82ad00"/><stop offset="0.8125" stop-color="#87a300"/><stop offset="0.8750" stop-color="#8c9900"/><stop offset="0.9375" stop-color="#918f00"/><stop offset="0.9688" stop-color="#958a00"/><stop offset="0.9792" stop-color="#9a8800"/><stop offset="0.9896" stop-color="#a28600"/><stop offset="1.0000" stop-color="#a68500"/></linearGradient><linearGradient id="g41" gradientUnits="userSpaceOnUse" x1="0" y1="632.0" x2="0" y2="1032.0"><stop offset="0.0000" stop-color="#43ff00"/><stop offset="0.1250" stop-color="#47ff00"/><stop offset="0.2500" stop-color="#52ff00"/><stop offset="0.3750" stop-color="#62eb00"/><stop offset="0.5000" stop-color="#6ed600"/><stop offset="0.6250" stop-color="#79c200"/><stop offset="0.7500" stop-color="#82ad00"/><stop offset="0.8125" stop-color="#87a300"/><stop offset="0.8750" stop-color="#8d9900"/><stop offset="0.9375" stop-color="#918f00"/><stop offset="0.9688" stop-color="#958a00"/><stop offset="0.9792" stop-color="#9a8800"/><stop offset="0.9896" stop-color="#a28600"/><stop offset="1.0000" stop-color="#a68500"/></linearGradient><linearGradient id="g42" gradientUnits="userSpaceOnUse" x1="0" y1="632.0" x2="0" y2="1032.0"><stop offset="0.0000" stop-color="#43ff00"/><stop offset="0.1250" stop-color="#47ff00"/><stop offset="0.2500" stop-color="#52ff00"/><stop offset="0.3750" stop-color="#62eb00"/><stop offset="0.5000" stop-color="#6fd600"/><stop offset="0.6250" stop-color="#79c200"/><stop offset="0.7500" stop-color="#82ad00"/><stop offset="0.8125" stop-color="#88a300"/><stop offset="0.8750" stop-color="#8d9900"/><stop offset="0.9375" stop-color="#918f00"/><stop offset="0.9688" stop-color="#958a00"/><stop offset="0.9792" stop-color="#9a8800"/><stop offset="0.9896" stop-color="#a28600"/><stop offset="1.0000" stop-color="#a68500"/></linearGradient><linearGradient id="g43" gradientUnits="userSpaceOnUse" x1="0" y1="632.0" x2="0" y2="1032.0"><stop offset="0.0000" stop-color="#43ff00"/><stop offset="0.1250" stop-color="#48ff00"/><stop offset="0.2500" stop-color="#52ff00"/><stop offset="0.3750" stop-color="#63eb00"/><stop offset="0.5000" stop-color="#6fd600"/><stop offset="0.6250" stop-color="#79c200"/><stop offset="0.7500" stop-color="#83ad00"/><stop offset="0.8125" stop-color="#88a300"/><stop offset="0.8750" stop-color="#8d9900"/><stop offset="0.9375" stop-color="#928f00"/><stop offset="0.9688" stop-color="#958a00"/><stop offset="0.9792" stop-color="#9a8800"/><stop offset="0.9896" stop-color="#a28600"/><stop offset="1.0000" stop-color="#a68500"/></linearGradient><linearGradient id="g44" gradientUnits="userSpaceOnUse" x1="0" y1="632.0" x2="0" y2="1032.0"><stop offset="0.0000" stop-color="#44ff00"/><stop offset="0.1250" stop-color="#48ff00"/><stop offset="0.2500" stop-color="#53ff00"/><stop offset="0.3750" stop-color="#63eb00"/><stop offset="0.5000" stop-color="#6fd600"/><stop offset="0.6250" stop-color="#79c200"/><stop offset="0.7500" stop-color="#83ad00"/><stop offset="0.8125" stop-color="#88a300"/><stop offset="0.8750" stop-color="#8d9900"/><stop offset="0.9375" stop-color="#928f00"/><stop offset="0.9688" stop-color="#958a00"/><stop offset="0.9792" stop-color="#9a8800"/><stop offset="0.9896" stop-color="#a28600"/><stop offset="1.0000" stop-color="#a78500"/></linearGradient><linearGradient id="g45" gradientUnits="userSpaceOnUse" x1="0" y1="632.0" x2="0" y2="1032.0"><stop offset="0.0000" stop-color="#44ff00"/><stop offset="0.1250" stop-color="#48ff00"/><stop offset="0.2500" stop-color="#53ff00"/><stop offset="0.3750" stop-color="#63eb00"/><stop offset="0.5000" stop-color="#6fd600"/><stop offset="0.6250" stop-color="#79c200"/><stop offset="0.7500" stop-color="#83ad00"/><stop offset="0.8125" stop-color="#88a300"/><stop offset="0.8750" stop-color="#8d9900"/><stop offset="0.9375" stop-color="#928f00"/><stop offset="0.9688" stop-color="#958a00"/><stop offset="0.9792" stop-color="#9a8800"/><stop offset="0.9896" stop-color="#a28600"/><stop offset="1.0000" stop-color="#a78500"/></linearGradient><linearGradient id="g46" gradientUnits="userSpaceOnUse" x1="0" y1="632.0" x2="0" y2="1032.0"><stop offset="0.0000" stop-color="#44ff00"/><stop offset="0.1250" stop-color="#48ff00"/><stop offset="0.2500" stop-color="#53ff00"/><stop offset="0.3750" stop-color="#63eb00"/><stop offset="0.5000" stop-color="#6fd600"/><stop offset="0.6250" stop-color="#7ac200"/><stop offset="0.7500" stop-color="#83ad00"/><stop offset="0.8125" stop-color="#88a300"/><stop offset="0.8750" stop-color="#8d9900"/><stop offset="0.9375" stop-color="#928f00"/><stop offset="0.9688" stop-color="#968a00"/><stop offset="0.9792" stop-color="#9a8800"/><stop offset="0.9896" stop-color="#a28600"/><stop offset="1.0000" stop-color="#a78500"/></linearGradient><linearGradient id="g47" gradientUnits="userSpaceOnUse" x1="0" y1="632.0" x2="0" y2="1032.0"><stop offset="0.0000" stop-color="#44ff00"/><stop offset="0.1250" stop-color="#48ff00"/><stop offset="0.2500" stop-color="#53ff00"/><stop offset="0.3750" stop-color="#63eb00"/><stop offset="0.5000" stop-color="#6fd600"/><stop offset="0.6250" stop-color="#79c200"/><stop offset="0.7500" stop-color="#83ad00"/><stop offset="0.8125" stop-color="#88a300"/><stop offset="0.8750" stop-color="#8d9900"/><stop offset="0.9375" stop-color="#928f00"/><stop offset="0.9688" stop-color="#968a00"/><stop offset="0.9792" stop-color="#9a8800"/><stop offset="0.9896" stop-color="#a28600"/><stop offset="1.0000" stop-color="#a78500"/></linearGradient><linearGradient id="g48" gradientUnits="userSpaceOnUse" x1="0" y1="632.0" x2="0" y2="1032.0"><stop offset="0.0000" stop-color="#41ff00"/><stop offset="0.1250" stop-color="#46ff00"/><stop offset="0.2500" stop-color="#51ff00"/><stop offset="0.3750" stop-color="#61eb00"/><stop offset="0.5000" stop-color="#6dd600"/><stop offset="0.6250" stop-color="#78c200"/><stop offset="0.7500" stop-color="#82ad00"/><stop offset="0.8125" stop-color="#87a300"/><stop offset="0.8750" stop-color="#8c9900"/><stop offset="0.9375" stop-color="#918f00"/><stop offset="0.9688" stop-color="#958a00"/><stop offset="0.9792" stop-color="#998800"/><stop offset="0.9896" stop-color="#a18600"/><stop offset="1.0000" stop-color="#a68500"/></linearGradient><linearGradient id="g49" gradientUnits="userSpaceOnUse" x1="0" y1="632.0" x2="0" y2="1032.0"><stop offset="0.0000" stop-color="#41ff00"/><stop offset="0.1250" stop-color="#46ff00"/><stop offset="0.2500" stop-color="#51ff00"/><stop offset="0.3750" stop-color="#61eb00"/><stop offset="0.5000" stop-color="#6dd600"/><stop offset="0.6250" stop-color="#78c200"/><stop offset="0.7500" stop-color="#81ad00"/><stop offset="0.8125" stop-color="#87a300"/><stop offset="0.8750" stop-color="#8c9900"/><stop offset="0.9375" stop-color="#918f00"/><stop offset="0.9688" stop-color="#948a00"/><stop offset="0.9792" stop-color="#998800"/><stop offset="0.9896" stop-color="#a18600"/><stop offset="1.0000" stop-color="#a68500"/></linearGradient><linearGradient id="g50" gradientUnits="userSpaceOnUse" x1="0" y1="632.0" x2="0" y2="1032.0"><stop offset="0.0000" stop-color="#41ff00"/><stop offset="0.1250" stop-color="#46ff00"/><stop offset="0.2500" stop-color="#51ff00"/><stop offset="0.3750" stop-color="#61eb00"/><stop offset="0.5000" stop-color="#6dd600"/><stop offset="0.6250" stop-color="#78c200"/><stop offset="0.7500" stop-color="#81ad00"/><stop offset="0.8125" stop-color="#87a300"/><stop offset="0.8750" stop-color="#8c9900"/><stop offset="0.9375" stop-color="#918f00"/><stop offset="0.9688" stop-color="#948a00"/><stop offset="0.9792" stop-color="#998800"/><stop offset="0.9896" stop-color="#a18600"/><stop offset="1.0000" stop-color="#a68500"/></linearGradient><linearGradient id="g51" gradientUnits="userSpaceOnUse" x1="0" y1="632.0" x2="0" y2="1032.0"><stop offset="0.0000" stop-color="#41ff00"/><stop offset="0.1250" stop-color="#45ff00"/><stop offset="0.2500" stop-color="#50ff00"/><stop offset="0.3750" stop-color="#61eb00"/><stop offset="0.5000" stop-color="#6dd600"/><stop offset="0.6250" stop-color="#78c200"/><stop offset="0.7500" stop-color="#81ad00"/><stop offset="0.8125" stop-color="#87a300"/><stop offset="0.8750" stop-color="#8c9900"/><stop offset="0.9375" stop-color="#918f00"/><stop offset="0.9688" stop-color="#948a00"/><stop offset="0.9792" stop-color="#998800"/><stop offset="0.9896" stop-color="#a18600"/><stop offset="1.0000" stop-color="#a68500"/></linearGradient><linearGradient id="g52" gradientUnits="userSpaceOnUse" x1="0" y1="632.0" x2="0" y2="1032.0"><stop offset="0.0000" stop-color="#41ff00"/><stop offset="0.1250" stop-color="#45ff00"/><stop offset="0.2500" stop-color="#50ff00"/><stop offset="0.3750" stop-color="#61eb00"/><stop offset="0.5000" stop-color="#6dd600"/><stop offset="0.6250" stop-color="#78c200"/><stop offset="0.7500" stop-color="#81ad00"/><stop offset="0.8125" stop-color="#87a300"/><stop offset="0.8750" stop-color="#8c9900"/><stop offset="0.9375" stop-color="#918f00"/><stop offset="0.9688" stop-color="#948a00"/><stop offset="0.9792" stop-color="#998800"/><stop offset="0.9896" stop-color="#a18600"/><stop offset="1.0000" stop-color="#a68500"/></linearGradient><linearGradient id="g53" gradientUnits="userSpaceOnUse" x1="0" y1="632.0" x2="0" y2="1032.0"><stop offset="0.0000" stop-color="#41ff00"/><stop offset="0.1250" stop-color="#45ff00"/><stop offset="0.2500" stop-color="#50ff00"/><stop offset="0.3750" stop-color="#61eb00"/><stop offset="0.5000" stop-color="#6dd600"/><stop offset="0.6250" stop-color="#78c200"/><stop offset="0.7500" stop-color="#81ad00"/><stop offset="0.8125" stop-color="#86a300"/><stop offset="0.8750" stop-color="#8c9900"/><stop offset="0.9375" stop-color="#918f00"/><stop offset="0.9688" stop-color="#948a00"/><stop offset="0.9792" stop-color="#998800"/><stop offset="0.9896" stop-color="#a18600"/><stop offset="1.0000" stop-color="#a68500"/></linearGradient><linearGradient id="g54" gradientUnits="userSpaceOnUse" x1="0" y1="632.0" x2="0" y2="1032.0"><stop offset="0.0000" stop-color="#40ff00"/><stop offset="0.1250" stop-color="#45ff00"/><stop offset="0.2500" stop-color="#50ff00"/><stop offset="0.3750" stop-color="#61eb00"/><stop offset="0.5000" stop-color="#6dd600"/><stop offset="0.6250" stop-color="#77c200"/><stop offset="0.7500" stop-color="#81ad00"/><stop offset="0.8125" stop-color="#86a300"/><stop offset="0.8750" stop-color="#8c9900"/><stop offset="0.9375" stop-color="#918f00"/><stop offset="0.9688" stop-color="#948a00"/><stop offset="0.9792" stop-color="#998800"/><stop offset="0.9896" stop-color="#a18600"/><stop offset="1.0000" stop-color="#a68500"/></linearGradient><linearGradient id="g55" gradientUnits="userSpaceOnUse" x1="0" y1="632.0" x2="0" y2="1032.0"><stop offset="0.0000" stop-color="#40ff00"/><stop offset="0.1250" stop-color="#45ff00"/><stop offset="0.2500" stop-color="#50ff00"/><stop offset="0.3750" stop-color="#61eb00"/><stop offset="0.5000" stop-color="#6dd600"/><stop offset="0.6250" stop-color="#77c200"/><stop offset="0.7500" stop-color="#81ad00"/><stop offset="0.8125" stop-color="#86a300"/><stop offset="0.8750" stop-color="#8c9900"/><stop offset="0.9375" stop-color="#908f00"/><stop offset="0.9688" stop-color="#948a00"/><stop offset="0.9792" stop-color="#998800"/><stop offset="0.9896" stop-color="#a18600"/><stop offset="1.0000" stop-color="#a58500"/></linearGradient><linearGradient id="g56" gradientUnits="userSpaceOnUse" x1="0" y1="632.0" x2="0" y2="1032.0"><stop offset="0.0000" stop-color="#40ff00"/><stop offset="0.1250" stop-color="#45ff00"/><stop offset="0.2500" stop-color="#50ff00"/><stop offset="0.3750" stop-color="#60eb00"/><stop offset="0.5000" stop-color="#6dd600"/><stop offset="0.6250" stop-color="#77c200"/><stop offset="0.7500" stop-color="#81ad00"/><stop offset="0.8125" stop-color="#86a300"/><stop offset="0.8750" stop-color="#8c9900"/><stop offset="0.9375" stop-color="#908f00"/><stop offset="0.9688" stop-color="#948a00"/><stop offset="0.9792" stop-color="#998800"/><stop offset="0.9896" stop-color="#a18600"/><stop offset="1.0000" stop-color="#a58500"/></linearGradient><linearGradient id="g57" gradientUnits="userSpaceOnUse" x1="0" y1="632.0" x2="0" y2="1032.0"><stop offset="0.0000" stop-color="#40ff00"/><stop offset="0.1250" stop-color="#45ff00"/><stop offset="0.2500" stop-color="#50ff00"/><stop offset="0.3750" stop-color="#60eb00"/><stop offset="0.5000" stop-color="#6dd600"/><stop offset="0.6250" stop-color="#77c200"/><stop offset="0.7500" stop-color="#81ad00"/><stop offset="0.8125" stop-color="#86a300"/><stop offset="0.8750" stop-color="#8c9900"/><stop offset="0.9375" stop-color="#908f00"/><stop offset="0.9688" stop-color="#948a00"/><stop offset="0.9792" stop-color="#998800"/><stop offset="0.9896" stop-color="#a18600"/><stop offset="1.0000" stop-color="#a58500"/></linearGradient><linearGradient id="g58" gradientUnits="userSpaceOnUse" x1="0" y1="632.0" x2="0" y2="1032.0"><stop offset="0.0000" stop-color="#44ff00"/><stop offset="0.1250" stop-color="#48ff00"/><stop offset="0.2500" stop-color="#53ff00"/><stop offset="0.3750" stop-color="#63eb00"/><stop offset="0.5000" stop-color="#6fd600"/><stop offset="0.6250" stop-color="#7ac200"/><stop offset="0.7500" stop-color="#83ad00"/><stop offset="0.8125" stop-color="#88a300"/><stop offset="0.8750" stop-color="#8d9900"/><stop offset="0.9375" stop-color="#928f00"/><stop offset="0.9688" stop-color="#968a00"/><stop offset="0.9792" stop-color="#9a8800"/><stop offset="0.9896" stop-color="#a28600"/><stop offset="1.0000" stop-color="#a78500"/></linearGradient><linearGradient id="g59" gradientUnits="userSpaceOnUse" x1="0" y1="632.0" x2="0" y2="1032.0"><stop offset="0.0000" stop-color="#4aff00"/><stop offset="0.1250" stop-color="#4eff00"/><stop offset="0.2500" stop-color="#58ff00"/><stop offset="0.3750" stop-color="#68eb00"/><stop offset="0.5000" stop-color="#73d600"/><stop offset="0.6250" stop-color="#7dc200"/><stop offset="0.7500" stop-color="#86ad00"/><stop offset="0.8125" stop-color="#8ba300"/><stop offset="0.8750" stop-color="#909900"/><stop offset="0.9375" stop-color="#948f00"/><stop offset="0.9688" stop-color="#988a00"/><stop offset="0.9792" stop-color="#9c8800"/><stop offset="0.9896" stop-color="#a48600"/><stop offset="1.0000" stop-color="#a98500"/></linearGradient><linearGradient id="g60" gradientUnits="userSpaceOnUse" x1="0" y1="632.0" x2="0" y2="1032.0"><stop offset="0.0000" stop-color="#49ff00"/><stop offset="0.1250" stop-color="#4dff00"/><stop offset="0.2500" stop-color="#58ff00"/><stop offset="0.3750" stop-color="#67eb00"/><stop offset="0.5000" stop-color="#73d600"/><stop offset="0.6250" stop-color="#7dc200"/><stop offset="0.7500" stop-color="#86ad00"/><stop offset="0.8125" stop-color="#8ba300"/><stop offset="0.8750" stop-color="#909900"/><stop offset="0.9375" stop-color="#948f00"/><stop offset="0.9688" stop-color="#988a00"/><stop offset="0.9792" stop-color="#9c8800"/><stop offset="0.9896" stop-color="#a48600"/><stop offset="1.0000" stop-color="#a98500"/></linearGradient><linearGradient id="g61" gradientUnits="userSpaceOnUse" x1="0" y1="632.0" x2="0" y2="1032.0"><stop offset="0.0000" stop-color="#49ff00"/><stop offset="0.1250" stop-color="#4dff00"/><stop offset="0.2500" stop-color="#57ff00"/><stop offset="0.3750" stop-color="#67eb00"/><stop offset="0.5000" stop-color="#72d600"/><stop offset="0.6250" stop-color="#7cc200"/><stop offset="0.7500" stop-color="#85ad00"/><stop offset="0.8125" stop-color="#8aa300"/><stop offset="0.8750" stop-color="#8f9900"/><stop offset="0.9375" stop-color="#948f00"/><stop offset="0.9688" stop-color="#978a00"/><stop offset="0.9792" stop-color="#9c8800"/><stop offset="0.9896" stop-color="#a48600"/><stop offset="1.0000" stop-color="#a88500"/></linearGradient><linearGradient id="g62" gradientUnits="userSpaceOnUse" x1="0" y1="632.0" x2="0" y2="1032.0"><stop offset="0.0000" stop-color="#45ff00"/><stop offset="0.1250" stop-color="#49ff00"/><stop offset="0.2500" stop-color="#54ff00"/><stop offset="0.3750" stop-color="#64eb00"/><stop offset="0.5000" stop-color="#70d600"/><stop offset="0.6250" stop-color="#7ac200"/><stop offset="0.7500" stop-color="#83ad00"/><stop offset="0.8125" stop-color="#88a300"/><stop offset="0.8750" stop-color="#8e9900"/><stop offset="0.9375" stop-color="#928f00"/><stop offset="0.9688" stop-color="#968a00"/><stop offset="0.9792" stop-color="#9a8800"/><stop offset="0.9896" stop-color="#a28600"/><stop offset="1.0000" stop-color="#a78500"/></linearGradient><linearGradient id="g63" gradientUnits="userSpaceOnUse" x1="0" y1="632.0" x2="0" y2="1032.0"><stop offset="0.0000" stop-color="#43ff00"/><stop offset="0.1250" stop-color="#47ff00"/><stop offset="0.2500" stop-color="#52ff00"/><stop offset="0.3750" stop-color="#63eb00"/><stop offset="0.5000" stop-color="#6fd600"/><stop offset="0.6250" stop-color="#79c200"/><stop offset="0.7500" stop-color="#82ad00"/><stop offset="0.8125" stop-color="#88a300"/><stop offset="0.8750" stop-color="#8d9900"/><stop offset="0.9375" stop-color="#928f00"/><stop offset="0.9688" stop-color="#958a00"/><stop offset="0.9792" stop-color="#9a8800"/><stop offset="0.9896" stop-color="#a28600"/><stop offset="1.0000" stop-color="#a68500"/></linearGradient><linearGradient id="g64" gradientUnits="userSpaceOnUse" x1="0" y1="632.0" x2="0" y2="1032.0"><stop offset="0.0000" stop-color="#42ff00"/><stop offset="0.1250" stop-color="#47ff00"/><stop offset="0.2500" stop-color="#52ff00"/><stop offset="0.3750" stop-color="#62eb00"/><stop offset="0.5000" stop-color="#6ed600"/><stop offset="0.6250" stop-color="#79c200"/><stop offset="0.7500" stop-color="#82ad00"/><stop offset="0.8125" stop-color="#87a300"/><stop offset="0.8750" stop-color="#8c9900"/><stop offset="0.9375" stop-color="#918f00"/><stop offset="0.9688" stop-color="#958a00"/><stop offset="0.9792" stop-color="#9a8800"/><stop offset="0.9896" stop-color="#a28600"/><stop offset="1.0000" stop-color="#a68500"/></linearGradient><linearGradient id="g65" gradientUnits="userSpaceOnUse" x1="0" y1="632.0" x2="0" y2="1032.0"><stop offset="0.0000" stop-color="#42ff00"/><stop offset="0.1250" stop-color="#46ff00"/><stop offset="0.2500" stop-color="#51ff00"/><stop offset="0.3750" stop-color="#62eb00"/><stop offset="0.5000" stop-color="#6ed600"/><stop offset="0.6250" stop-color="#78c200"/><stop offset="0.7500" stop-color="#82ad00"/><stop offset="0.8125" stop-color="#87a300"/><stop offset="0.8750" stop-color="#8c9900"/><stop offset="0.9375" stop-color="#918f00"/><stop offset="0.9688" stop-color="#958a00"/><stop offset="0.9792" stop-color="#998800"/><stop offset="0.9896" stop-color="#a18600"/><stop offset="1.0000" stop-color="#a68500"/></linearGradient><linearGradient id="g66" gradientUnits="userSpaceOnUse" x1="0" y1="632.0" x2="0" y2="1032.0"><stop offset="0.0000" stop-color="#41ff00"/><stop offset="0.1250" stop-color="#46ff00"/><stop offset="0.2500" stop-color="#51ff00"/><stop offset="0.3750" stop-color="#61eb00"/><stop offset="0.5000" stop-color="#6dd600"/><stop offset="0.6250" stop-color="#78c200"/><stop offset="0.7500" stop-color="#81ad00"/><stop offset="0.8125" stop-color="#87a300"/><stop offset="0.8750" stop-color="#8c9900"/><stop offset="0.9375" stop-color="#918f00"/><stop offset="0.9688" stop-color="#948a00"/><stop offset="0.9792" stop-color="#998800"/><stop offset="0.9896" stop-color="#a18600"/><stop offset="1.0000" stop-color="#a68500"/></linearGradient><linearGradient id="g67" gradientUnits="userSpaceOnUse" x1="0" y1="632.0" x2="0" y2="1032.0"><stop offset="0.0000" stop-color="#40ff00"/><stop offset="0.1250" stop-color="#45ff00"/><stop offset="0.2500" stop-color="#50ff00"/><stop offset="0.3750" stop-color="#61eb00"/><stop offset="0.5000" stop-color="#6dd600"/><stop offset="0.6250" stop-color="#77c200"/><stop offset="0.7500" stop-color="#81ad00"/><stop offset="0.8125" stop-color="#86a300"/><stop offset="0.8750" stop-color="#8c9900"/><stop offset="0.9375" stop-color="#918f00"/><stop offset="0.9688" stop-color="#948a00"/><stop offset="0.9792" stop-color="#998800"/><stop offset="0.9896" stop-color="#a18600"/><stop offset="1.0000" stop-color="#a68500"/></linearGradient><linearGradient id="g68" gradientUnits="userSpaceOnUse" x1="0" y1="632.0" x2="0" y2="1032.0"><stop offset="0.0000" stop-color="#40ff00"/><stop offset="0.1250" stop-color="#45ff00"/><stop offset="0.2500" stop-color="#50ff00"/><stop offset="0.3750" stop-color="#60eb00"/><stop offset="0.5000" stop-color="#6cd600"/><stop offset="0.6250" stop-color="#77c200"/><stop offset="0.7500" stop-color="#81ad00"/><stop offset="0.8125" stop-color="#86a300"/><stop offset="0.8750" stop-color="#8b9900"/><stop offset="0.9375" stop-color="#908f00"/><stop offset="0.9688" stop-color="#948a00"/><stop offset="0.9792" stop-color="#998800"/><stop offset="0.9896" stop-color="#a18600"/><stop offset="1.0000" stop-color="#a58500"/></linearGradient><linearGradient id="g69" gradientUnits="userSpaceOnUse" x1="0" y1="632.0" x2="0" y2="1032.0"><stop offset="0.0000" stop-color="#3fff00"/><stop offset="0.1250" stop-color="#44ff00"/><stop offset="0.2500" stop-color="#4fff00"/><stop offset="0.3750" stop-color="#60eb00"/><stop offset="0.5000" stop-color="#6cd600"/><stop offset="0.6250" stop-color="#77c200"/><stop offset="0.7500" stop-color="#81ad00"/><stop offset="0.8125" stop-color="#86a300"/><stop offset="0.8750" stop-color="#8b9900"/><stop offset="0.9375" stop-color="#908f00"/><stop offset="0.9688" stop-color="#948a00"/><stop offset="0.9792" stop-color="#988800"/><stop offset="0.9896" stop-color="#a18600"/><stop offset="1.0000" stop-color="#a58500"/></linearGradient><linearGradient id="g70" gradientUnits="userSpaceOnUse" x1="0" y1="632.0" x2="0" y2="1032.0"><stop offset="0.0000" stop-color="#3fff00"/><stop offset="0.1250" stop-color="#44ff00"/><stop offset="0.2500" stop-color="#4fff00"/><stop offset="0.3750" stop-color="#5feb00"/><stop offset="0.5000" stop-color="#6cd600"/><stop offset="0.6250" stop-color="#77c200"/><stop offset="0.7500" stop-color="#80ad00"/><stop offset="0.8125" stop-color="#86a300"/><stop offset="0.8750" stop-color="#8b9900"/><stop offset="0.9375" stop-color="#908f00"/><stop offset="0.9688" stop-color="#948a00"/><stop offset="0.9792" stop-color="#988800"/><stop offset="0.9896" stop-color="#a08600"/><stop offset="1.0000" stop-color="#a58500"/></linearGradient><linearGradient id="g71" gradientUnits="userSpaceOnUse" x1="0" y1="632.0" x2="0" y2="1032.0"><stop offset="0.0000" stop-color="#3eff00"/><stop offset="0.1250" stop-color="#43ff00"/><stop offset="0.2500" stop-color="#4eff00"/><stop offset="0.3750" stop-color="#5feb00"/><stop offset="0.5000" stop-color="#6cd600"/><stop offset="0.6250" stop-color="#76c200"/><stop offset="0.7500" stop-color="#80ad00"/><stop offset="0.8125" stop-color="#85a300"/><stop offset="0.8750" stop-color="#8b9900"/><stop offset="0.9375" stop-color="#908f00"/><stop offset="0.9688" stop-color="#938a00"/><stop offset="0.9792" stop-color="#988800"/><stop offset="0.9896" stop-color="#a08600"/><stop offset="1.0000" stop-color="#a58500"/></linearGradient><linearGradient id="g72" gradientUnits="userSpaceOnUse" x1="0" y1="632.0" x2="0" y2="1032.0"><stop offset="0.0000" stop-color="#3eff00"/><stop offset="0.1250" stop-color="#43ff00"/><stop offset="0.2500" stop-color="#4eff00"/><stop offset="0.3750" stop-color="#5feb00"/><stop offset="0.5000" stop-color="#6bd600"/><stop offset="0.6250" stop-color="#76c200"/><stop offset="0.7500" stop-color="#80ad00"/><stop offset="0.8125" stop-color="#85a300"/><stop offset="0.8750" stop-color="#8b9900"/><stop offset="0.9375" stop-color="#908f00"/><stop offset="0.9688" stop-color="#938a00"/><stop offset="0.9792" stop-color="#988800"/><stop offset="0.9896" stop-color="#a08600"/><stop offset="1.0000" stop-color="#a58500"/></linearGradient><linearGradient id="g73" gradientUnits="userSpaceOnUse" x1="0" y1="632.0" x2="0" y2="1032.0"><stop offset="0.0000" stop-color="#51ff00"/><stop offset="0.1250" stop-color="#54ff00"/><stop offset="0.2500" stop-color="#5eff00"/><stop offset="0.3750" stop-color="#6deb00"/><stop offset="0.5000" stop-color="#78d600"/><stop offset="0.6250" stop-color="#81c200"/><stop offset="0.7500" stop-color="#89ad00"/><stop offset="0.8125" stop-color="#8ea300"/><stop offset="0.8750" stop-color="#939900"/><stop offset="0.9375" stop-color="#978f00"/><stop offset="0.9688" stop-color="#9a8a00"/><stop offset="0.9792" stop-color="#9f8800"/><stop offset="0.9896" stop-color="#a78600"/><stop offset="1.0000" stop-color="#ab8500"/></linearGradient><linearGradient id="g74" gradientUnits="userSpaceOnUse" x1="0" y1="632.0" x2="0" y2="1032.0"><stop offset="0.0000" stop-color="#60ff00"/><stop offset="0.1250" stop-color="#62ff00"/><stop offset="0.2500" stop-color="#6aff00"/><stop offset="0.3750" stop-color="#78eb00"/><stop offset="0.5000" stop-color="#82d600"/><stop offset="0.6250" stop-color="#8ac200"/><stop offset="0.7500" stop-color="#91ad00"/><stop offset="0.8125" stop-color="#95a300"/><stop offset="0.8750" stop-color="#999900"/><stop offset="0.9375" stop-color="#9d8f00"/><stop offset="0.9688" stop-color="#a08a00"/><stop offset="0.9792" stop-color="#a48800"/><stop offset="0.9896" stop-color="#ac8600"/><stop offset="1.0000" stop-color="#b18500"/></linearGradient><linearGradient id="g75" gradientUnits="userSpaceOnUse" x1="0" y1="632.0" x2="0" y2="1032.0"><stop offset="0.0000" stop-color="#60ff00"/><stop offset="0.1250" stop-color="#62ff00"/><stop offset="0.2500" stop-color="#6aff00"/><stop offset="0.3750" stop-color="#78eb00"/><stop offset="0.5000" stop-color="#82d600"/><stop offset="0.6250" stop-color="#8ac200"/><stop offset="0.7500" stop-color="#91ad00"/><stop offset="0.8125" stop-color="#95a300"/><stop offset="0.8750" stop-color="#999900"/><stop offset="0.9375" stop-color="#9d8f00"/><stop offset="0.9688" stop-color="#a08a00"/><stop offset="0.9792" stop-color="#a48800"/><stop offset="0.9896" stop-color="#ac8600"/><stop offset="1.0000" stop-color="#b18500"/></linearGradient><linearGradient id="g76" gradientUnits="userSpaceOnUse" x1="0" y1="632.0" x2="0" y2="1032.0"><stop offset="0.0000" stop-color="#5dff00"/><stop offset="0.1250" stop-color="#60ff00"/><stop offset="0.2500" stop-color="#68ff00"/><stop offset="0.3750" stop-color="#76eb00"/><stop offset="0.5000" stop-color="#80d600"/><stop offset="0.6250" stop-color="#89c200"/><stop offset="0.7500" stop-color="#90ad00"/><stop offset="0.8125" stop-color="#94a300"/><stop offset="0.8750" stop-color="#989900"/><stop offset="0.9375" stop-color="#9c8f00"/><stop offset="0.9688" stop-color="#9f8a00"/><stop offset="0.9792" stop-color="#a38800"/><stop offset="0.9896" stop-color="#ab8600"/><stop offset="1.0000" stop-color="#b08500"/></linearGradient><linearGradient id="g77" gradientUnits="userSpaceOnUse" x1="0" y1="632.0" x2="0" y2="1032.0"><stop offset="0.0000" stop-color="#5aff00"/><stop offset="0.1250" stop-color="#5cff00"/><stop offset="0.2500" stop-color="#65ff00"/><stop offset="0.3750" stop-color="#74eb00"/><stop offset="0.5000" stop-color="#7ed600"/><stop offset="0.6250" stop-color="#86c200"/><stop offset="0.7500" stop-color="#8ead00"/><stop offset="0.8125" stop-color="#92a300"/><stop offset="0.8750" stop-color="#969900"/><stop offset="0.9375" stop-color="#9a8f00"/><stop offset="0.9688" stop-color="#9d8a00"/><stop offset="0.9792" stop-color="#a28800"/><stop offset="0.9896" stop-color="#aa8600"/><stop offset="1.0000" stop-color="#ae8500"/></linearGradient><linearGradient id="g78" gradientUnits="userSpaceOnUse" x1="0" y1="632.0" x2="0" y2="1032.0"><stop offset="0.0000" stop-color="#55ff00"/><stop offset="0.1250" stop-color="#58ff00"/><stop offset="0.2500" stop-color="#61ff00"/><stop offset="0.3750" stop-color="#70eb00"/><stop offset="0.5000" stop-color="#7bd600"/><stop offset="0.6250" stop-color="#83c200"/><stop offset="0.7500" stop-color="#8bad00"/><stop offset="0.8125" stop-color="#90a300"/><stop offset="0.8750" stop-color="#949900"/><stop offset="0.9375" stop-color="#988f00"/><stop offset="0.9688" stop-color="#9c8a00"/><stop offset="0.9792" stop-color="#a08800"/><stop offset="0.9896" stop-color="#a88600"/><stop offset="1.0000" stop-color="#ad8500"/></linearGradient><linearGradient id="g79" gradientUnits="userSpaceOnUse" x1="0" y1="632.0" x2="0" y2="1032.0"><stop offset="0.0000" stop-color="#4bff00"/><stop offset="0.1250" stop-color="#4fff00"/><stop offset="0.2500" stop-color="#59ff00"/><stop offset="0.3750" stop-color="#69eb00"/><stop offset="0.5000" stop-color="#74d600"/><stop offset="0.6250" stop-color="#7ec200"/><stop offset="0.7500" stop-color="#87ad00"/><stop offset="0.8125" stop-color="#8ca300"/><stop offset="0.8750" stop-color="#909900"/><stop offset="0.9375" stop-color="#958f00"/><stop offset="0.9688" stop-color="#988a00"/><stop offset="0.9792" stop-color="#9d8800"/><stop offset="0.9896" stop-color="#a58600"/><stop offset="1.0000" stop-color="#a98500"/></linearGradient><linearGradient id="g80" gradientUnits="userSpaceOnUse" x1="0" y1="632.0" x2="0" y2="1032.0"><stop offset="0.0000" stop-color="#49ff00"/><stop offset="0.1250" stop-color="#4dff00"/><stop offset="0.2500" stop-color="#57ff00"/><stop offset="0.3750" stop-color="#67eb00"/><stop offset="0.5000" stop-color="#73d600"/><stop offset="0.6250" stop-color="#7cc200"/><stop offset="0.7500" stop-color="#85ad00"/><stop offset="0.8125" stop-color="#8aa300"/><stop offset="0.8750" stop-color="#8f9900"/><stop offset="0.9375" stop-color="#948f00"/><stop offset="0.9688" stop-color="#978a00"/><stop offset="0.9792" stop-color="#9c8800"/><stop offset="0.9896" stop-color="#a48600"/><stop offset="1.0000" stop-color="#a88500"/></linearGradient><linearGradient id="g81" gradientUnits="userSpaceOnUse" x1="0" y1="632.0" x2="0" y2="1032.0"><stop offset="0.0000" stop-color="#47ff00"/><stop offset="0.1250" stop-color="#4bff00"/><stop offset="0.2500" stop-color="#55ff00"/><stop offset="0.3750" stop-color="#65eb00"/><stop offset="0.5000" stop-color="#71d600"/><stop offset="0.6250" stop-color="#7bc200"/><stop offset="0.7500" stop-color="#84ad00"/><stop offset="0.8125" stop-color="#89a300"/><stop offset="0.8750" stop-color="#8e9900"/><stop offset="0.9375" stop-color="#938f00"/><stop offset="0.9688" stop-color="#968a00"/><stop offset="0.9792" stop-color="#9b8800"/><stop offset="0.9896" stop-color="#a38600"/><stop offset="1.0000" stop-color="#a88500"/></linearGradient><linearGradient id="g82" gradientUnits="userSpaceOnUse" x1="0" y1="632.0" x2="0" y2="1032.0"><stop offset="0.0000" stop-color="#43ff00"/><stop offset="0.1250" stop-color="#47ff00"/><stop offset="0.2500" stop-color="#52ff00"/><stop offset="0.3750" stop-color="#62eb00"/><stop offset="0.5000" stop-color="#6ed600"/><stop offset="0.6250" stop-color="#79c200"/><stop offset="0.7500" stop-color="#82ad00"/><stop offset="0.8125" stop-color="#87a300"/><stop offset="0.8750" stop-color="#8d9900"/><stop offset="0.9375" stop-color="#918f00"/><stop offset="0.9688" stop-color="#958a00"/><stop offset="0.9792" stop-color="#9a8800"/><stop offset="0.9896" stop-color="#a28600"/><stop offset="1.0000" stop-color="#a68500"/></linearGradient><linearGradient id="g83" gradientUnits="userSpaceOnUse" x1="0" y1="632.0" x2="0" y2="1032.0"><stop offset="0.0000" stop-color="#41ff00"/><stop offset="0.1250" stop-color="#46ff00"/><stop offset="0.2500" stop-color="#51ff00"/><stop offset="0.3750" stop-color="#61eb00"/><stop offset="0.5000" stop-color="#6dd600"/><stop offset="0.6250" stop-color="#78c200"/><stop offset="0.7500" stop-color="#81ad00"/><stop offset="0.8125" stop-color="#87a300"/><stop offset="0.8750" stop-color="#8c9900"/><stop offset="0.9375" stop-color="#918f00"/><stop offset="0.9688" stop-color="#948a00"/><stop offset="0.9792" stop-color="#998800"/><stop offset="0.9896" stop-color="#a18600"/><stop offset="1.0000" stop-color="#a68500"/></linearGradient><linearGradient id="g84" gradientUnits="userSpaceOnUse" x1="0" y1="632.0" x2="0" y2="1032.0"><stop offset="0.0000" stop-color="#41ff00"/><stop offset="0.1250" stop-color="#45ff00"/><stop offset="0.2500" stop-color="#50ff00"/><stop offset="0.3750" stop-color="#61eb00"/><stop offset="0.5000" stop-color="#6dd600"/><stop offset="0.6250" stop-color="#78c200"/><stop offset="0.7500" stop-color="#81ad00"/><stop offset="0.8125" stop-color="#86a300"/><stop offset="0.8750" stop-color="#8c9900"/><stop offset="0.9375" stop-color="#918f00"/><stop offset="0.9688" stop-color="#948a00"/><stop offset="0.9792" stop-color="#998800"/><stop offset="0.9896" stop-color="#a18600"/><stop offset="1.0000" stop-color="#a68500"/></linearGradient><linearGradient id="g85" gradientUnits="userSpaceOnUse" x1="0" y1="632.0" x2="0" y2="1032.0"><stop offset="0.0000" stop-color="#40ff00"/><stop offset="0.1250" stop-color="#45ff00"/><stop offset="0.2500" stop-color="#50ff00"/><stop offset="0.3750" stop-color="#60eb00"/><stop offset="0.5000" stop-color="#6dd600"/><stop offset="0.6250" stop-color="#77c200"/><stop offset="0.7500" stop-color="#81ad00"/><stop offset="0.8125" stop-color="#86a300"/><stop offset="0.8750" stop-color="#8c9900"/><stop offset="0.9375" stop-color="#908f00"/><stop offset="0.9688" stop-color="#948a00"/><stop offset="0.9792" stop-color="#998800"/><stop offset="0.9896" stop-color="#a18600"/><stop offset="1.0000" stop-color="#a58500"/></linearGradient><linearGradient id="g86" gradientUnits="userSpaceOnUse" x1="0" y1="632.0" x2="0" y2="1032.0"><stop offset="0.0000" stop-color="#5bff00"/><stop offset="0.1250" stop-color="#5dff00"/><stop offset="0.2500" stop-color="#66ff00"/><stop offset="0.3750" stop-color="#74eb00"/><stop offset="0.5000" stop-color="#7fd600"/><stop offset="0.6250" stop-color="#87c200"/><stop offset="0.7500" stop-color="#91ad00"/><stop offset="0.8125" stop-color="#99a300"/><stop offset="0.8750" stop-color="#a19900"/><stop offset="0.9375" stop-color="#a88f00"/><stop offset="0.9688" stop-color="#ad8a00"/><stop offset="0.9792" stop-color="#b28800"/><stop offset="0.9896" stop-color="#bb8600"/><stop offset="1.0000" stop-color="#c08500"/></linearGradient><linearGradient id="g87" gradientUnits="userSpaceOnUse" x1="0" y1="632.0" x2="0" y2="1032.0"><stop offset="0.0000" stop-color="#6eff00"/><stop offset="0.1250" stop-color="#6fff00"/><stop offset="0.2500" stop-color="#77ff00"/><stop offset="0.3750" stop-color="#83eb00"/><stop offset="0.5000" stop-color="#8cd600"/><stop offset="0.6250" stop-color="#93c200"/><stop offset="0.7500" stop-color="#9dad00"/><stop offset="0.8125" stop-color="#a6a300"/><stop offset="0.8750" stop-color="#b09900"/><stop offset="0.9375" stop-color="#b98f00"/><stop offset="0.9688" stop-color="#bf8a00"/><stop offset="0.9792" stop-color="#c48800"/><stop offset="0.9896" stop-color="#cd8600"/><stop offset="1.0000" stop-color="#d28500"/></linearGradient><linearGradient id="g88" gradientUnits="userSpaceOnUse" x1="0" y1="632.0" x2="0" y2="1032.0"><stop offset="0.0000" stop-color="#6eff00"/><stop offset="0.1250" stop-color="#6fff00"/><stop offset="0.2500" stop-color="#76ff00"/><stop offset="0.3750" stop-color="#83eb00"/><stop offset="0.5000" stop-color="#8cd600"/><stop offset="0.6250" stop-color="#92c200"/><stop offset="0.7500" stop-color="#9cad00"/><stop offset="0.8125" stop-color="#a6a300"/><stop offset="0.8750" stop-color="#af9900"/><stop offset="0.9375" stop-color="#b88f00"/><stop offset="0.9688" stop-color="#be8a00"/><stop offset="0.9792" stop-color="#c38800"/><stop offset="0.9896" stop-color="#cc8600"/><stop offset="1.0000" stop-color="#d18500"/></linearGradient><linearGradient id="g89" gradientUnits="userSpaceOnUse" x1="0" y1="632.0" x2="0" y2="1032.0"><stop offset="0.0000" stop-color="#6eff00"/><stop offset="0.1250" stop-color="#6fff00"/><stop offset="0.2500" stop-color="#76ff00"/><stop offset="0.3750" stop-color="#83eb00"/><stop offset="0.5000" stop-color="#8bd600"/><stop offset="0.6250" stop-color="#92c200"/><stop offset="0.7500" stop-color="#9cad00"/><stop offset="0.8125" stop-color="#a5a300"/><stop offset="0.8750" stop-color="#ae9900"/><stop offset="0.9375" stop-color="#b78f00"/><stop offset="0.9688" stop-color="#bc8a00"/><stop offset="0.9792" stop-color="#c18800"/><stop offset="0.9896" stop-color="#ca8600"/><stop offset="1.0000" stop-color="#cf8500"/></linearGradient><linearGradient id="g90" gradientUnits="userSpaceOnUse" x1="0" y1="632.0" x2="0" y2="1032.0"><stop offset="0.0000" stop-color="#6dff00"/><stop offset="0.1250" stop-color="#6eff00"/><stop offset="0.2500" stop-color="#76ff00"/><stop offset="0.3750" stop-color="#82eb00"/><stop offset="0.5000" stop-color="#8bd600"/><stop offset="0.6250" stop-color="#92c200"/><stop offset="0.7500" stop-color="#9bad00"/><stop offset="0.8125" stop-color="#a4a300"/><stop offset="0.8750" stop-color="#ac9900"/><stop offset="0.9375" stop-color="#b48f00"/><stop offset="0.9688" stop-color="#b98a00"/><stop offset="0.9792" stop-color="#be8800"/><stop offset="0.9896" stop-color="#c78600"/><stop offset="1.0000" stop-color="#cc8500"/></linearGradient><linearGradient id="g91" gradientUnits="userSpaceOnUse" x1="0" y1="632.0" x2="0" y2="1032.0"><stop offset="0.0000" stop-color="#6dff00"/><stop offset="0.1250" stop-color="#6eff00"/><stop offset="0.2500" stop-color="#75ff00"/><stop offset="0.3750" stop-color="#82eb00"/><stop offset="0.5000" stop-color="#8bd600"/><stop offset="0.6250" stop-color="#92c200"/><stop offset="0.7500" stop-color="#9aad00"/><stop offset="0.8125" stop-color="#a2a300"/><stop offset="0.8750" stop-color="#a99900"/><stop offset="0.9375" stop-color="#b08f00"/><stop offset="0.9688" stop-color="#b58a00"/><stop offset="0.9792" stop-color="#ba8800"/><stop offset="0.9896" stop-color="#c28600"/><stop offset="1.0000" stop-color="#c78500"/></linearGradient><linearGradient id="g92" gradientUnits="userSpaceOnUse" x1="0" y1="632.0" x2="0" y2="1032.0"><stop offset="0.0000" stop-color="#65ff00"/><stop offset="0.1250" stop-color="#67ff00"/><stop offset="0.2500" stop-color="#6fff00"/><stop offset="0.3750" stop-color="#7ceb00"/><stop offset="0.5000" stop-color="#85d600"/><stop offset="0.6250" stop-color="#8dc200"/><stop offset="0.7500" stop-color="#96ad00"/><stop offset="0.8125" stop-color="#9da300"/><stop offset="0.8750" stop-color="#a39900"/><stop offset="0.9375" stop-color="#aa8f00"/><stop offset="0.9688" stop-color="#ae8a00"/><stop offset="0.9792" stop-color="#b38800"/><stop offset="0.9896" stop-color="#bb8600"/><stop offset="1.0000" stop-color="#c08500"/></linearGradient><linearGradient id="g93" gradientUnits="userSpaceOnUse" x1="0" y1="632.0" x2="0" y2="1032.0"><stop offset="0.0000" stop-color="#61ff00"/><stop offset="0.1250" stop-color="#63ff00"/><stop offset="0.2500" stop-color="#6bff00"/><stop offset="0.3750" stop-color="#79eb00"/><stop offset="0.5000" stop-color="#83d600"/><stop offset="0.6250" stop-color="#8bc200"/><stop offset="0.7500" stop-color="#93ad00"/><stop offset="0.8125" stop-color="#99a300"/><stop offset="0.8750" stop-color="#9f9900"/><stop offset="0.9375" stop-color="#a58f00"/><stop offset="0.9688" stop-color="#a98a00"/><stop offset="0.9792" stop-color="#ae8800"/><stop offset="0.9896" stop-color="#b68600"/><stop offset="1.0000" stop-color="#bb8500"/></linearGradient><linearGradient id="g94" gradientUnits="userSpaceOnUse" x1="0" y1="632.0" x2="0" y2="1032.0"><stop offset="0.0000" stop-color="#5fff00"/><stop offset="0.1250" stop-color="#61ff00"/><stop offset="0.2500" stop-color="#69ff00"/><stop offset="0.3750" stop-color="#77eb00"/><stop offset="0.5000" stop-color="#81d600"/><stop offset="0.6250" stop-color="#89c200"/><stop offset="0.7500" stop-color="#92ad00"/><stop offset="0.8125" stop-color="#98a300"/><stop offset="0.8750" stop-color="#9e9900"/><stop offset="0.9375" stop-color="#a38f00"/><stop offset="0.9688" stop-color="#a78a00"/><stop offset="0.9792" stop-color="#ac8800"/><stop offset="0.9896" stop-color="#b48600"/><stop offset="1.0000" stop-color="#b98500"/></linearGradient><linearGradient id="g95" gradientUnits="userSpaceOnUse" x1="0" y1="632.0" x2="0" y2="1032.0"><stop offset="0.0000" stop-color="#5cff00"/><stop offset="0.1250" stop-color="#5fff00"/><stop offset="0.2500" stop-color="#68ff00"/><stop offset="0.3750" stop-color="#76eb00"/><stop offset="0.5000" stop-color="#80d600"/><stop offset="0.6250" stop-color="#88c200"/><stop offset="0.7500" stop-color="#90ad00"/><stop offset="0.8125" stop-color="#96a300"/><stop offset="0.8750" stop-color="#9c9900"/><stop offset="0.9375" stop-color="#a18f00"/><stop offset="0.9688" stop-color="#a58a00"/><stop offset="0.9792" stop-color="#a98800"/><stop offset="0.9896" stop-color="#b18600"/><stop offset="1.0000" stop-color="#b68500"/></linearGradient><linearGradient id="g96" gradientUnits="userSpaceOnUse" x1="0" y1="632.0" x2="0" y2="1032.0"><stop offset="0.0000" stop-color="#5aff00"/><stop offset="0.1250" stop-color="#5dff00"/><stop offset="0.2500" stop-color="#66ff00"/><stop offset="0.3750" stop-color="#74eb00"/><stop offset="0.5000" stop-color="#7ed600"/><stop offset="0.6250" stop-color="#87c200"/><stop offset="0.7500" stop-color="#8fad00"/><stop offset="0.8125" stop-color="#94a300"/><stop offset="0.8750" stop-color="#9a9900"/><stop offset="0.9375" stop-color="#9f8f00"/><stop offset="0.9688" stop-color="#a28a00"/><stop offset="0.9792" stop-color="#a78800"/><stop offset="0.9896" stop-color="#af8600"/><stop offset="1.0000" stop-color="#b48500"/></linearGradient><linearGradient id="g97" gradientUnits="userSpaceOnUse" x1="0" y1="632.0" x2="0" y2="1032.0"><stop offset="0.0000" stop-color="#58ff00"/><stop offset="0.1250" stop-color="#5bff00"/><stop offset="0.2500" stop-color="#64ff00"/><stop offset="0.3750" stop-color="#72eb00"/><stop offset="0.5000" stop-color="#7dd600"/><stop offset="0.6250" stop-color="#85c200"/><stop offset="0.7500" stop-color="#8ead00"/><stop offset="0.8125" stop-color="#93a300"/><stop offset="0.8750" stop-color="#989900"/><stop offset="0.9375" stop-color="#9c8f00"/><stop offset="0.9688" stop-color="#a08a00"/><stop offset="0.9792" stop-color="#a58800"/><stop offset="0.9896" stop-color="#ad8600"/><stop offset="1.0000" stop-color="#b18500"/></linearGradient><linearGradient id="g98" gradientUnits="userSpaceOnUse" x1="0" y1="632.0" x2="0" y2="1032.0"><stop offset="0.0000" stop-color="#4dff00"/><stop offset="0.1250" stop-color="#50ff00"/><stop offset="0.2500" stop-color="#5aff00"/><stop offset="0.3750" stop-color="#6aeb00"/><stop offset="0.5000" stop-color="#75d600"/><stop offset="0.6250" stop-color="#7fc200"/><stop offset="0.7500" stop-color="#88ad00"/><stop offset="0.8125" stop-color="#8da300"/><stop offset="0.8750" stop-color="#929900"/><stop offset="0.9375" stop-color="#978f00"/><stop offset="0.9688" stop-color="#9b8a00"/><stop offset="0.9792" stop-color="#9f8800"/><stop offset="0.9896" stop-color="#a78600"/><stop offset="1.0000" stop-color="#ac8500"/></linearGradient><linearGradient id="g99" gradientUnits="userSpaceOnUse" x1="0" y1="632.0" x2="0" y2="1032.0"><stop offset="0.0000" stop-color="#4cff00"/><stop offset="0.1250" stop-color="#4fff00"/><stop offset="0.2500" stop-color="#5aff00"/><stop offset="0.3750" stop-color="#69eb00"/><stop offset="0.5000" stop-color="#74d600"/><stop offset="0.6250" stop-color="#7ec200"/><stop offset="0.7500" stop-color="#87ad00"/><stop offset="0.8125" stop-color="#8ca300"/><stop offset="0.8750" stop-color="#929900"/><stop offset="0.9375" stop-color="#968f00"/><stop offset="0.9688" stop-color="#9a8a00"/><stop offset="0.9792" stop-color="#9f8800"/><stop offset="0.9896" stop-color="#a78600"/><stop offset="1.0000" stop-color="#ab8500"/></linearGradient><linearGradient id="g100" gradientUnits="userSpaceOnUse" x1="0" y1="632.0" x2="0" y2="1032.0"><stop offset="0.0000" stop-color="#4bff00"/><stop offset="0.1250" stop-color="#4fff00"/><stop offset="0.2500" stop-color="#59ff00"/><stop offset="0.3750" stop-color="#68eb00"/><stop offset="0.5000" stop-color="#74d600"/><stop offset="0.6250" stop-color="#7ec200"/><stop offset="0.7500" stop-color="#87ad00"/><stop offset="0.8125" stop-color="#8ca300"/><stop offset="0.8750" stop-color="#919900"/><stop offset="0.9375" stop-color="#968f00"/><stop offset="0.9688" stop-color="#998a00"/><stop offset="0.9792" stop-color="#9e8800"/><stop offset="0.9896" stop-color="#a68600"/><stop offset="1.0000" stop-color="#ab8500"/></linearGradient><linearGradient id="g101" gradientUnits="userSpaceOnUse" x1="0" y1="632.0" x2="0" y2="1032.0"><stop offset="0.0000" stop-color="#49ff00"/><stop offset="0.1250" stop-color="#4dff00"/><stop offset="0.2500" stop-color="#58ff00"/><stop offset="0.3750" stop-color="#67eb00"/><stop offset="0.5000" stop-color="#73d600"/><stop offset="0.6250" stop-color="#7dc200"/><stop offset="0.7500" stop-color="#86ad00"/><stop offset="0.8125" stop-color="#8ba300"/><stop offset="0.8750" stop-color="#909900"/><stop offset="0.9375" stop-color="#958f00"/><stop offset="0.9688" stop-color="#998a00"/><stop offset="0.9792" stop-color="#9d8800"/><stop offset="0.9896" stop-color="#a58600"/><stop offset="1.0000" stop-color="#aa8500"/></linearGradient><linearGradient id="g102" gradientUnits="userSpaceOnUse" x1="0" y1="632.0" x2="0" y2="1032.0"><stop offset="0.0000" stop-color="#48ff00"/><stop offset="0.1250" stop-color="#4cff00"/><stop offset="0.2500" stop-color="#56ff00"/><stop offset="0.3750" stop-color="#66eb00"/><stop offset="0.5000" stop-color="#72d600"/><stop offset="0.6250" stop-color="#7cc200"/><stop offset="0.7500" stop-color="#85ad00"/><stop offset="0.8125" stop-color="#8aa300"/><stop offset="0.8750" stop-color="#8f9900"/><stop offset="0.9375" stop-color="#948f00"/><stop offset="0.9688" stop-color="#988a00"/><stop offset="0.9792" stop-color="#9c8800"/><stop offset="0.9896" stop-color="#a48600"/><stop offset="1.0000" stop-color="#a98500"/></linearGradient><linearGradient id="g103" gradientUnits="userSpaceOnUse" x1="0" y1="632.0" x2="0" y2="1032.0"><stop offset="0.0000" stop-color="#45ff00"/><stop offset="0.1250" stop-color="#49ff00"/><stop offset="0.2500" stop-color="#54ff00"/><stop offset="0.3750" stop-color="#64eb00"/><stop offset="0.5000" stop-color="#70d600"/><stop offset="0.6250" stop-color="#7ac200"/><stop offset="0.7500" stop-color="#83ad00"/><stop offset="0.8125" stop-color="#89a300"/><stop offset="0.8750" stop-color="#8e9900"/><stop offset="0.9375" stop-color="#938f00"/><stop offset="0.9688" stop-color="#978a00"/><stop offset="0.9792" stop-color="#9b8800"/><stop offset="0.9896" stop-color="#a38600"/><stop offset="1.0000" stop-color="#a88500"/></linearGradient><linearGradient id="g104" gradientUnits="userSpaceOnUse" x1="0" y1="632.0" x2="0" y2="1032.0"><stop offset="0.0000" stop-color="#41ff00"/><stop offset="0.1250" stop-color="#46ff00"/><stop offset="0.2500" stop-color="#51ff00"/><stop offset="0.3750" stop-color="#61eb00"/><stop offset="0.5000" stop-color="#6dd600"/><stop offset="0.6250" stop-color="#78c200"/><stop offset="0.7500" stop-color="#82ad00"/><stop offset="0.8125" stop-color="#87a300"/><stop offset="0.8750" stop-color="#8c9900"/><stop offset="0.9375" stop-color="#918f00"/><stop offset="0.9688" stop-color="#958a00"/><stop offset="0.9792" stop-color="#9a8800"/><stop offset="0.9896" stop-color="#a28600"/><stop offset="1.0000" stop-color="#a68500"/></linearGradient><linearGradient id="g105" gradientUnits="userSpaceOnUse" x1="0" y1="632.0" x2="0" y2="1032.0"><stop offset="0.0000" stop-color="#41ff00"/><stop offset="0.1250" stop-color="#45ff00"/><stop offset="0.2500" stop-color="#50ff00"/><stop offset="0.3750" stop-color="#61eb00"/><stop offset="0.5000" stop-color="#6dd600"/><stop offset="0.6250" stop-color="#78c200"/><stop offset="0.7500" stop-color="#81ad00"/><stop offset="0.8125" stop-color="#87a300"/><stop offset="0.8750" stop-color="#8c9900"/><stop offset="0.9375" stop-color="#918f00"/><stop offset="0.9688" stop-color="#958a00"/><stop offset="0.9792" stop-color="#998800"/><stop offset="0.9896" stop-color="#a18600"/><stop offset="1.0000" stop-color="#a68500"/></linearGradient><linearGradient id="g106" gradientUnits="userSpaceOnUse" x1="0" y1="632.0" x2="0" y2="1032.0"><stop offset="0.0000" stop-color="#40ff00"/><stop offset="0.1250" stop-color="#45ff00"/><stop offset="0.2500" stop-color="#50ff00"/><stop offset="0.3750" stop-color="#61eb00"/><stop offset="0.5000" stop-color="#6dd600"/><stop offset="0.6250" stop-color="#77c200"/><stop offset="0.7500" stop-color="#81ad00"/><stop offset="0.8125" stop-color="#86a300"/><stop offset="0.8750" stop-color="#8c9900"/><stop offset="0.9375" stop-color="#908f00"/><stop offset="0.9688" stop-color="#948a00"/><stop offset="0.9792" stop-color="#998800"/><stop offset="0.9896" stop-color="#a18600"/><stop offset="1.0000" stop-color="#a58500"/></linearGradient><linearGradient id="g107" gradientUnits="userSpaceOnUse" x1="0" y1="632.0" x2="0" y2="1032.0"><stop offset="0.0000" stop-color="#41ff00"/><stop offset="0.1250" stop-color="#45ff00"/><stop offset="0.2500" stop-color="#50ff00"/><stop offset="0.3750" stop-color="#61eb00"/><stop offset="0.5000" stop-color="#6dd600"/><stop offset="0.6250" stop-color="#77c200"/><stop offset="0.7500" stop-color="#81ad00"/><stop offset="0.8125" stop-color="#86a300"/><stop offset="0.8750" stop-color="#8c9900"/><stop offset="0.9375" stop-color="#918f00"/><stop offset="0.9688" stop-color="#948a00"/><stop offset="0.9792" stop-color="#998800"/><stop offset="0.9896" stop-color="#a18600"/><stop offset="1.0000" stop-color="#a68500"/></linearGradient><linearGradient id="g108" gradientUnits="userSpaceOnUse" x1="0" y1="632.0" x2="0" y2="1032.0"><stop offset="0.0000" stop-color="#44ff00"/><stop offset="0.1250" stop-color="#49ff00"/><stop offset="0.2500" stop-color="#53ff00"/><stop offset="0.3750" stop-color="#64eb00"/><stop offset="0.5000" stop-color="#70d600"/><stop offset="0.6250" stop-color="#7ac200"/><stop offset="0.7500" stop-color="#83ad00"/><stop offset="0.8125" stop-color="#88a300"/><stop offset="0.8750" stop-color="#8d9900"/><stop offset="0.9375" stop-color="#928f00"/><stop offset="0.9688" stop-color="#968a00"/><stop offset="0.9792" stop-color="#9a8800"/><stop offset="0.9896" stop-color="#a28600"/><stop offset="1.0000" stop-color="#a78500"/></linearGradient><linearGradient id="g109" gradientUnits="userSpaceOnUse" x1="0" y1="632.0" x2="0" y2="1032.0"><stop offset="0.0000" stop-color="#45ff00"/><stop offset="0.1250" stop-color="#49ff00"/><stop offset="0.2500" stop-color="#54ff00"/><stop offset="0.3750" stop-color="#64eb00"/><stop offset="0.5000" stop-color="#70d600"/><stop offset="0.6250" stop-color="#7ac200"/><stop offset="0.7500" stop-color="#83ad00"/><stop offset="0.8125" stop-color="#89a300"/><stop offset="0.8750" stop-color="#8e9900"/><stop offset="0.9375" stop-color="#928f00"/><stop offset="0.9688" stop-color="#968a00"/><stop offset="0.9792" stop-color="#9a8800"/><stop offset="0.9896" stop-color="#a28600"/><stop offset="1.0000" stop-color="#a78500"/></linearGradient><linearGradient id="g110" gradientUnits="userSpaceOnUse" x1="0" y1="632.0" x2="0" y2="1032.0"><stop offset="0.0000" stop-color="#45ff00"/><stop offset="0.1250" stop-color="#4aff00"/><stop offset="0.2500" stop-color="#54ff00"/><stop offset="0.3750" stop-color="#64eb00"/><stop offset="0.5000" stop-color="#70d600"/><stop offset="0.6250" stop-color="#7ac200"/><stop offset="0.7500" stop-color="#84ad00"/><stop offset="0.8125" stop-color="#89a300"/><stop offset="0.8750" stop-color="#8e9900"/><stop offset="0.9375" stop-color="#928f00"/><stop offset="0.9688" stop-color="#968a00"/><stop offset="0.9792" stop-color="#9b8800"/><stop offset="0.9896" stop-color="#a38600"/><stop offset="1.0000" stop-color="#a78500"/></linearGradient><linearGradient id="g111" gradientUnits="userSpaceOnUse" x1="0" y1="632.0" x2="0" y2="1032.0"><stop offset="0.0000" stop-color="#46ff00"/><stop offset="0.1250" stop-color="#4aff00"/><stop offset="0.2500" stop-color="#55ff00"/><stop offset="0.3750" stop-color="#65eb00"/><stop offset="0.5000" stop-color="#71d600"/><stop offset="0.6250" stop-color="#7bc200"/><stop offset="0.7500" stop-color="#84ad00"/><stop offset="0.8125" stop-color="#89a300"/><stop offset="0.8750" stop-color="#8e9900"/><stop offset="0.9375" stop-color="#938f00"/><stop offset="0.9688" stop-color="#968a00"/><stop offset="0.9792" stop-color="#9b8800"/><stop offset="0.9896" stop-color="#a38600"/><stop offset="1.0000" stop-color="#a78500"/></linearGradient><linearGradient id="g112" gradientUnits="userSpaceOnUse" x1="0" y1="632.0" x2="0" y2="1032.0"><stop offset="0.0000" stop-color="#46ff00"/><stop offset="0.1250" stop-color="#4aff00"/><stop offset="0.2500" stop-color="#55ff00"/><stop offset="0.3750" stop-color="#65eb00"/><stop offset="0.5000" stop-color="#71d600"/><stop offset="0.6250" stop-color="#7bc200"/><stop offset="0.7500" stop-color="#84ad00"/><stop offset="0.8125" stop-color="#89a300"/><stop offset="0.8750" stop-color="#8e9900"/><stop offset="0.9375" stop-color="#938f00"/><stop offset="0.9688" stop-color="#968a00"/><stop offset="0.9792" stop-color="#9b8800"/><stop offset="0.9896" stop-color="#a38600"/><stop offset="1.0000" stop-color="#a88500"/></linearGradient><linearGradient id="g113" gradientUnits="userSpaceOnUse" x1="0" y1="632.0" x2="0" y2="1032.0"><stop offset="0.0000" stop-color="#45ff00"/><stop offset="0.1250" stop-color="#49ff00"/><stop offset="0.2500" stop-color="#54ff00"/><stop offset="0.3750" stop-color="#64eb00"/><stop offset="0.5000" stop-color="#70d600"/><stop offset="0.6250" stop-color="#7ac200"/><stop offset="0.7500" stop-color="#83ad00"/><stop offset="0.8125" stop-color="#88a300"/><stop offset="0.8750" stop-color="#8d9900"/><stop offset="0.9375" stop-color="#928f00"/><stop offset="0.9688" stop-color="#968a00"/><stop offset="0.9792" stop-color="#9a8800"/><stop offset="0.9896" stop-color="#a28600"/><stop offset="1.0000" stop-color="#a78500"/></linearGradient><linearGradient id="g114" gradientUnits="userSpaceOnUse" x1="0" y1="632.0" x2="0" y2="1032.0"><stop offset="0.0000" stop-color="#43ff00"/><stop offset="0.1250" stop-color="#47ff00"/><stop offset="0.2500" stop-color="#52ff00"/><stop offset="0.3750" stop-color="#62eb00"/><stop offset="0.5000" stop-color="#6ed600"/><stop offset="0.6250" stop-color="#79c200"/><stop offset="0.7500" stop-color="#82ad00"/><stop offset="0.8125" stop-color="#88a300"/><stop offset="0.8750" stop-color="#8d9900"/><stop offset="0.9375" stop-color="#918f00"/><stop offset="0.9688" stop-color="#958a00"/><stop offset="0.9792" stop-color="#9a8800"/><stop offset="0.9896" stop-color="#a28600"/><stop offset="1.0000" stop-color="#a68500"/></linearGradient><linearGradient id="g115" gradientUnits="userSpaceOnUse" x1="0" y1="632.0" x2="0" y2="1032.0"><stop offset="0.0000" stop-color="#3fff00"/><stop offset="0.1250" stop-color="#44ff00"/><stop offset="0.2500" stop-color="#4fff00"/><stop offset="0.3750" stop-color="#60eb00"/><stop offset="0.5000" stop-color="#6cd600"/><stop offset="0.6250" stop-color="#77c200"/><stop offset="0.7500" stop-color="#80ad00"/><stop offset="0.8125" stop-color="#86a300"/><stop offset="0.8750" stop-color="#8b9900"/><stop offset="0.9375" stop-color="#908f00"/><stop offset="0.9688" stop-color="#948a00"/><stop offset="0.9792" stop-color="#988800"/><stop offset="0.9896" stop-color="#a08600"/><stop offset="1.0000" stop-color="#a58500"/></linearGradient><linearGradient id="g116" gradientUnits="userSpaceOnUse" x1="0" y1="632.0" x2="0" y2="1032.0"><stop offset="0.0000" stop-color="#3cff00"/><stop offset="0.1250" stop-color="#41ff00"/><stop offset="0.2500" stop-color="#4cff00"/><stop offset="0.3750" stop-color="#5deb00"/><stop offset="0.5000" stop-color="#6ad600"/><stop offset="0.6250" stop-color="#75c200"/><stop offset="0.7500" stop-color="#7fad00"/><stop offset="0.8125" stop-color="#84a300"/><stop offset="0.8750" stop-color="#8a9900"/><stop offset="0.9375" stop-color="#8f8f00"/><stop offset="0.9688" stop-color="#928a00"/><stop offset="0.9792" stop-color="#978800"/><stop offset="0.9896" stop-color="#9f8600"/><stop offset="1.0000" stop-color="#a48500"/></linearGradient><linearGradient id="g117" gradientUnits="userSpaceOnUse" x1="0" y1="632.0" x2="0" y2="1032.0"><stop offset="0.0000" stop-color="#3cff00"/><stop offset="0.1250" stop-color="#41ff00"/><stop offset="0.2500" stop-color="#4cff00"/><stop offset="0.3750" stop-color="#5deb00"/><stop offset="0.5000" stop-color="#6ad600"/><stop offset="0.6250" stop-color="#75c200"/><stop offset="0.7500" stop-color="#7fad00"/><stop offset="0.8125" stop-color="#84a300"/><stop offset="0.8750" stop-color="#8a9900"/><stop offset="0.9375" stop-color="#8f8f00"/><stop offset="0.9688" stop-color="#928a00"/><stop offset="0.9792" stop-color="#978800"/><stop offset="0.9896" stop-color="#9f8600"/><stop offset="1.0000" stop-color="#a48500"/></linearGradient><linearGradient id="g118" gradientUnits="userSpaceOnUse" x1="0" y1="632.0" x2="0" y2="1032.0"><stop offset="0.0000" stop-color="#3cff00"/><stop offset="0.1250" stop-color="#41ff00"/><stop offset="0.2500" stop-color="#4cff00"/><stop offset="0.3750" stop-color="#5deb00"/><stop offset="0.5000" stop-color="#6ad600"/><stop offset="0.6250" stop-color="#75c200"/><stop offset="0.7500" stop-color="#7fad00"/><stop offset="0.8125" stop-color="#84a300"/><stop offset="0.8750" stop-color="#8a9900"/><stop offset="0.9375" stop-color="#8f8f00"/><stop offset="0.9688" stop-color="#928a00"/><stop offset="0.9792" stop-color="#978800"/><stop offset="0.9896" stop-color="#9f8600"/><stop offset="1.0000" stop-color="#a48500"/></linearGradient><linearGradient id="g119" gradientUnits="userSpaceOnUse" x1="0" y1="632.0" x2="0" y2="1032.0"><stop offset="0.0000" stop-color="#3cff00"/><stop offset="0.1250" stop-color="#41ff00"/><stop offset="0.2500" stop-color="#4cff00"/><stop offset="0.3750" stop-color="#5deb00"/><stop offset="0.5000" stop-color="#6ad600"/><stop offset="0.6250" stop-color="#75c200"/><stop offset="0.7500" stop-color="#7fad00"/><stop offset="0.8125" stop-color="#84a300"/><stop offset="0.8750" stop-color="#8a9900"/><stop offset="0.9375" stop-color="#8f8f00"/><stop offset="0.9688" stop-color="#928a00"/><stop offset="0.9792" stop-color="#978800"/><stop offset="0.9896" stop-color="#9f8600"/><stop offset="1.0000" stop-color="#a48500"/></linearGradient><linearGradient id="g120" gradientUnits="userSpaceOnUse" x1="0" y1="632.0" x2="0" y2="1032.0"><stop offset="0.0000" stop-color="#3cff00"/><stop offset="0.1250" stop-color="#41ff00"/><stop offset="0.2500" stop-color="#4cff00"/><stop offset="0.3750" stop-color="#5deb00"/><stop offset="0.5000" stop-color="#6ad600"/><stop offset="0.6250" stop-color="#75c200"/><stop offset="0.7500" stop-color="#7fad00"/><stop offset="0.8125" stop-color="#84a300"/><stop offset="0.8750" stop-color="#8a9900"/><stop offset="0.9375" stop-color="#8f8f00"/><stop offset="0.9688" stop-color="#928a00"/><stop offset="0.9792" stop-color="#978800"/><stop offset="0.9896" stop-color="#9f8600"/><stop offset="1.0000" stop-color="#a48500"/></linearGradient><linearGradient id="g121" gradientUnits="userSpaceOnUse" x1="0" y1="632.0" x2="0" y2="1032.0"><stop offset="0.0000" stop-color="#3cff00"/><stop offset="0.1250" stop-color="#41ff00"/><stop offset="0.2500" stop-color="#4cff00"/><stop offset="0.3750" stop-color="#5deb00"/><stop offset="0.5000" stop-color="#6ad600"/><stop offset="0.6250" stop-color="#75c200"/><stop offset="0.7500" stop-color="#7fad00"/><stop offset="0.8125" stop-color="#84a300"/><stop offset="0.8750" stop-color="#8a9900"/><stop offset="0.9375" stop-color="#8f8f00"/><stop offset="0.9688" stop-color="#928a00"/><stop offset="0.9792" stop-color="#978800"/><stop offset="0.9896" stop-color="#9f8600"/><stop offset="1.0000" stop-color="#a48500"/></linearGradient><linearGradient id="g122" gradientUnits="userSpaceOnUse" x1="0" y1="632.0" x2="0" y2="1032.0"><stop offset="0.0000" stop-color="#5aff00"/><stop offset="0.1250" stop-color="#5cff00"/><stop offset="0.2500" stop-color="#65ff00"/><stop offset="0.3750" stop-color="#74eb00"/><stop offset="0.5000" stop-color="#7ed600"/><stop offset="0.6250" stop-color="#86c200"/><stop offset="0.7500" stop-color="#8ead00"/><stop offset="0.8125" stop-color="#92a300"/><stop offset="0.8750" stop-color="#969900"/><stop offset="0.9375" stop-color="#9a8f00"/><stop offset="0.9688" stop-color="#9d8a00"/><stop offset="0.9792" stop-color="#a28800"/><stop offset="0.9896" stop-color="#aa8600"/><stop offset="1.0000" stop-color="#ae8500"/></linearGradient><linearGradient id="g123" gradientUnits="userSpaceOnUse" x1="0" y1="632.0" x2="0" y2="1032.0"><stop offset="0.0000" stop-color="#5aff00"/><stop offset="0.1250" stop-color="#5cff00"/><stop offset="0.2500" stop-color="#65ff00"/><stop offset="0.3750" stop-color="#74eb00"/><stop offset="0.5000" stop-color="#7ed600"/><stop offset="0.6250" stop-color="#86c200"/><stop offset="0.7500" stop-color="#8ead00"/><stop offset="0.8125" stop-color="#92a300"/><stop offset="0.8750" stop-color="#969900"/><stop offset="0.9375" stop-color="#9a8f00"/><stop offset="0.9688" stop-color="#9d8a00"/><stop offset="0.9792" stop-color="#a28800"/><stop offset="0.9896" stop-color="#aa8600"/><stop offset="1.0000" stop-color="#ae8500"/></linearGradient><linearGradient id="g124" gradientUnits="userSpaceOnUse" x1="0" y1="632.0" x2="0" y2="1032.0"><stop offset="0.0000" stop-color="#53ff00"/><stop offset="0.1250" stop-color="#56ff00"/><stop offset="0.2500" stop-color="#60ff00"/><stop offset="0.3750" stop-color="#6feb00"/><stop offset="0.5000" stop-color="#79d600"/><stop offset="0.6250" stop-color="#82c200"/><stop offset="0.7500" stop-color="#8bad00"/><stop offset="0.8125" stop-color="#8fa300"/><stop offset="0.8750" stop-color="#949900"/><stop offset="0.9375" stop-color="#988f00"/><stop offset="0.9688" stop-color="#9b8a00"/><stop offset="0.9792" stop-color="#a08800"/><stop offset="0.9896" stop-color="#a78600"/><stop offset="1.0000" stop-color="#ac8500"/></linearGradient><linearGradient id="g125" gradientUnits="userSpaceOnUse" x1="0" y1="632.0" x2="0" y2="1032.0"><stop offset="0.0000" stop-color="#52ff00"/><stop offset="0.1250" stop-color="#55ff00"/><stop offset="0.2500" stop-color="#5fff00"/><stop offset="0.3750" stop-color="#6eeb00"/><stop offset="0.5000" stop-color="#79d600"/><stop offset="0.6250" stop-color="#82c200"/><stop offset="0.7500" stop-color="#8aad00"/><stop offset="0.8125" stop-color="#8fa300"/><stop offset="0.8750" stop-color="#939900"/><stop offset="0.9375" stop-color="#978f00"/><stop offset="0.9688" stop-color="#9b8a00"/><stop offset="0.9792" stop-color="#9f8800"/><stop offset="0.9896" stop-color="#a78600"/><stop offset="1.0000" stop-color="#ac8500"/></linearGradient><linearGradient id="g126" gradientUnits="userSpaceOnUse" x1="0" y1="632.0" x2="0" y2="1032.0"><stop offset="0.0000" stop-color="#51ff00"/><stop offset="0.1250" stop-color="#55ff00"/><stop offset="0.2500" stop-color="#5eff00"/><stop offset="0.3750" stop-color="#6deb00"/><stop offset="0.5000" stop-color="#78d600"/><stop offset="0.6250" stop-color="#81c200"/><stop offset="0.7500" stop-color="#8aad00"/><stop offset="0.8125" stop-color="#8ea300"/><stop offset="0.8750" stop-color="#939900"/><stop offset="0.9375" stop-color="#978f00"/><stop offset="0.9688" stop-color="#9a8a00"/><stop offset="0.9792" stop-color="#9f8800"/><stop offset="0.9896" stop-color="#a78600"/><stop offset="1.0000" stop-color="#ab8500"/></linearGradient><linearGradient id="g127" gradientUnits="userSpaceOnUse" x1="0" y1="632.0" x2="0" y2="1032.0"><stop offset="0.0000" stop-color="#4fff00"/><stop offset="0.1250" stop-color="#53ff00"/><stop offset="0.2500" stop-color="#5cff00"/><stop offset="0.3750" stop-color="#6ceb00"/><stop offset="0.5000" stop-color="#77d600"/><stop offset="0.6250" stop-color="#80c200"/><stop offset="0.7500" stop-color="#89ad00"/><stop offset="0.8125" stop-color="#8da300"/><stop offset="0.8750" stop-color="#929900"/><stop offset="0.9375" stop-color="#968f00"/><stop offset="0.9688" stop-color="#9a8a00"/><stop offset="0.9792" stop-color="#9e8800"/><stop offset="0.9896" stop-color="#a68600"/><stop offset="1.0000" stop-color="#ab8500"/></linearGradient><linearGradient id="g128" gradientUnits="userSpaceOnUse" x1="0" y1="632.0" x2="0" y2="1032.0"><stop offset="0.0000" stop-color="#4eff00"/><stop offset="0.1250" stop-color="#52ff00"/><stop offset="0.2500" stop-color="#5cff00"/><stop offset="0.3750" stop-color="#6beb00"/><stop offset="0.5000" stop-color="#76d600"/><stop offset="0.6250" stop-color="#7fc200"/><stop offset="0.7500" stop-color="#88ad00"/><stop offset="0.8125" stop-color="#8da300"/><stop offset="0.8750" stop-color="#929900"/><stop offset="0.9375" stop-color="#968f00"/><stop offset="0.9688" stop-color="#998a00"/><stop offset="0.9792" stop-color="#9e8800"/><stop offset="0.9896" stop-color="#a68600"/><stop offset="1.0000" stop-color="#aa8500"/></linearGradient><linearGradient id="g129" gradientUnits="userSpaceOnUse" x1="0" y1="632.0" x2="0" y2="1032.0"><stop offset="0.0000" stop-color="#4dff00"/><stop offset="0.1250" stop-color="#51ff00"/><stop offset="0.2500" stop-color="#5bff00"/><stop offset="0.3750" stop-color="#6aeb00"/><stop offset="0.5000" stop-color="#75d600"/><stop offset="0.6250" stop-color="#7fc200"/><stop offset="0.7500" stop-color="#88ad00"/><stop offset="0.8125" stop-color="#8ca300"/><stop offset="0.8750" stop-color="#919900"/><stop offset="0.9375" stop-color="#958f00"/><stop offset="0.9688" stop-color="#998a00"/><stop offset="0.9792" stop-color="#9d8800"/><stop offset="0.9896" stop-color="#a58600"/><stop offset="1.0000" stop-color="#aa8500"/></linearGradient><linearGradient id="g130" gradientUnits="userSpaceOnUse" x1="0" y1="632.0" x2="0" y2="1032.0"><stop offset="0.0000" stop-color="#4dff00"/><stop offset="0.1250" stop-color="#50ff00"/><stop offset="0.2500" stop-color="#5aff00"/><stop offset="0.3750" stop-color="#6aeb00"/><stop offset="0.5000" stop-color="#75d600"/><stop offset="0.6250" stop-color="#7fc200"/><stop offset="0.7500" stop-color="#87ad00"/><stop offset="0.8125" stop-color="#8ca300"/><stop offset="0.8750" stop-color="#919900"/><stop offset="0.9375" stop-color="#958f00"/><stop offset="0.9688" stop-color="#998a00"/><stop offset="0.9792" stop-color="#9d8800"/><stop offset="0.9896" stop-color="#a58600"/><stop offset="1.0000" stop-color="#aa8500"/></linearGradient><linearGradient id="g131" gradientUnits="userSpaceOnUse" x1="0" y1="632.0" x2="0" y2="1032.0"><stop offset="0.0000" stop-color="#4dff00"/><stop offset="0.1250" stop-color="#50ff00"/><stop offset="0.2500" stop-color="#5aff00"/><stop offset="0.3750" stop-color="#6aeb00"/><stop offset="0.5000" stop-color="#75d600"/><stop offset="0.6250" stop-color="#7fc200"/><stop offset="0.7500" stop-color="#87ad00"/><stop offset="0.8125" stop-color="#8ca300"/><stop offset="0.8750" stop-color="#919900"/><stop offset="0.9375" stop-color="#958f00"/><stop offset="0.9688" stop-color="#998a00"/><stop offset="0.9792" stop-color="#9d8800"/><stop offset="0.9896" stop-color="#a58600"/><stop offset="1.0000" stop-color="#aa8500"/></linearGradient><linearGradient id="g132" gradientUnits="userSpaceOnUse" x1="0" y1="632.0" x2="0" y2="1032.0"><stop offset="0.0000" stop-color="#4dff00"/><stop offset="0.1250" stop-color="#50ff00"/><stop offset="0.2500" stop-color="#5aff00"/><stop offset="0.3750" stop-color="#6aeb00"/><stop offset="0.5000" stop-color="#75d600"/><stop offset="0.6250" stop-color="#7fc200"/><stop offset="0.7500" stop-color="#87ad00"/><stop offset="0.8125" stop-color="#8ca300"/><stop offset="0.8750" stop-color="#919900"/><stop offset="0.9375" stop-color="#958f00"/><stop offset="0.9688" stop-color="#998a00"/><stop offset="0.9792" stop-color="#9d8800"/><stop offset="0.9896" stop-color="#a58600"/><stop offset="1.0000" stop-color="#aa8500"/></linearGradient><linearGradient id="g133" gradientUnits="userSpaceOnUse" x1="0" y1="632.0" x2="0" y2="1032.0"><stop offset="0.0000" stop-color="#965900"/><stop offset="0.1250" stop-color="#a55900"/><stop offset="0.2917" stop-color="#ad5900"/><stop offset="0.5000" stop-color="#b15900"/><stop offset="0.7500" stop-color="#b85900"/><stop offset="0.8125" stop-color="#c45900"/><stop offset="0.8750" stop-color="#d15900"/><stop offset="0.9583" stop-color="#d15900"/><stop offset="1.0000" stop-color="#cd5900"/></linearGradient><linearGradient id="g134" gradientUnits="userSpaceOnUse" x1="0" y1="632.0" x2="0" y2="1032.0"><stop offset="0.6875" stop-color="#7cb800" stop-opacity="0"/><stop offset="0.7917" stop-color="#9e5900"/><stop offset="0.8542" stop-color="#b35900"/><stop offset="0.9375" stop-color="#b85900"/><stop offset="1.0000" stop-color="#c05900"/></linearGradient><linearGradient id="g135" gradientUnits="userSpaceOnUse" x1="0" y1="632.0" x2="0" y2="1032.0"><stop offset="0.0000" stop-color="#915900"/><stop offset="0.2500" stop-color="#a25900"/><stop offset="0.5000" stop-color="#ab5900"/><stop offset="0.7500" stop-color="#af5900"/><stop offset="0.8333" stop-color="#b35900"/><stop offset="0.8958" stop-color="#c05900"/><stop offset="1.0000" stop-color="#c95900"/></linearGradient><linearGradient id="g136" gradientUnits="userSpaceOnUse" x1="0" y1="632.0" x2="0" y2="1032.0"><stop offset="0.0000" stop-color="#9a5900"/><stop offset="0.2500" stop-color="#ab5900"/><stop offset="0.5000" stop-color="#b35900"/><stop offset="0.6667" stop-color="#bc5900"/><stop offset="0.8333" stop-color="#c45900"/><stop offset="0.8958" stop-color="#d15900"/><stop offset="1.0000" stop-color="#d15900"/></linearGradient><linearGradient id="g137" gradientUnits="userSpaceOnUse" x1="0" y1="632.0" x2="0" y2="1032.0"><stop offset="0.7292" stop-color="#83b100" stop-opacity="0"/><stop offset="0.8333" stop-color="#9e5900"/><stop offset="0.8958" stop-color="#af5900"/><stop offset="0.9583" stop-color="#b35900"/><stop offset="1.0000" stop-color="#c05900"/></linearGradient><linearGradient id="g138" gradientUnits="userSpaceOnUse" x1="0" y1="632.0" x2="0" y2="1032.0"><stop offset="0.0000" stop-color="#8d5900"/><stop offset="0.2500" stop-color="#9a5900"/><stop offset="0.5000" stop-color="#a75900"/><stop offset="0.7500" stop-color="#af5900"/><stop offset="0.8750" stop-color="#b85900"/><stop offset="0.9583" stop-color="#c45900"/><stop offset="1.0000" stop-color="#c95900"/></linearGradient><linearGradient id="g139" gradientUnits="userSpaceOnUse" x1="0" y1="632.0" x2="0" y2="1032.0"><stop offset="0.0000" stop-color="#805900"/><stop offset="0.5000" stop-color="#965900"/><stop offset="0.7500" stop-color="#a75900"/><stop offset="0.8750" stop-color="#b35900"/><stop offset="1.0000" stop-color="#c05900"/></linearGradient><linearGradient id="g140" gradientUnits="userSpaceOnUse" x1="0" y1="632.0" x2="0" y2="1032.0"><stop offset="0.0000" stop-color="#895900"/><stop offset="0.2500" stop-color="#965900"/><stop offset="0.5000" stop-color="#a55900"/><stop offset="0.7500" stop-color="#af5900"/><stop offset="0.8750" stop-color="#b35900"/><stop offset="1.0000" stop-color="#c05900"/></linearGradient><linearGradient id="g141" gradientUnits="userSpaceOnUse" x1="0" y1="632.0" x2="0" y2="1032.0"><stop offset="0.0000" stop-color="#805900"/><stop offset="0.5000" stop-color="#965900"/><stop offset="0.7500" stop-color="#a75900"/><stop offset="0.8750" stop-color="#b85900"/><stop offset="1.0000" stop-color="#c05900"/></linearGradient><linearGradient id="g142" gradientUnits="userSpaceOnUse" x1="0" y1="632.0" x2="0" y2="1032.0"><stop offset="0.3958" stop-color="#63e700" stop-opacity="0"/><stop offset="0.5000" stop-color="#915900"/><stop offset="0.7500" stop-color="#a25900"/><stop offset="0.8750" stop-color="#b35900"/><stop offset="1.0000" stop-color="#c05900"/></linearGradient><linearGradient id="g143" gradientUnits="userSpaceOnUse" x1="0" y1="632.0" x2="0" y2="1032.0"><stop offset="0.0000" stop-color="#7c5900"/><stop offset="0.5000" stop-color="#915900"/><stop offset="0.7500" stop-color="#a75900"/><stop offset="0.8333" stop-color="#b85900"/><stop offset="0.9375" stop-color="#bc5900"/><stop offset="1.0000" stop-color="#c05900"/></linearGradient><linearGradient id="g144" gradientUnits="userSpaceOnUse" x1="0" y1="632.0" x2="0" y2="1032.0"><stop offset="0.6042" stop-color="#75c500" stop-opacity="0"/><stop offset="0.7083" stop-color="#965900"/><stop offset="0.7917" stop-color="#ab5900"/><stop offset="0.9167" stop-color="#b85900"/><stop offset="1.0000" stop-color="#c05900"/></linearGradient><linearGradient id="g145" gradientUnits="userSpaceOnUse" x1="0" y1="632.0" x2="0" y2="1032.0"><stop offset="0.0000" stop-color="#9e5900"/><stop offset="0.1667" stop-color="#ab5900"/><stop offset="0.3750" stop-color="#b35900"/><stop offset="0.5833" stop-color="#be5900"/><stop offset="0.7500" stop-color="#c95900"/><stop offset="0.8750" stop-color="#d15900"/><stop offset="1.0000" stop-color="#d55900"/></linearGradient><linearGradient id="g146" gradientUnits="userSpaceOnUse" x1="0" y1="632.0" x2="0" y2="1032.0"><stop offset="0.6875" stop-color="#81b800" stop-opacity="0"/><stop offset="0.7917" stop-color="#9e5900"/><stop offset="0.8750" stop-color="#af5900"/><stop offset="0.9583" stop-color="#b35900"/><stop offset="1.0000" stop-color="#c05900"/></linearGradient><linearGradient id="g147" gradientUnits="userSpaceOnUse" x1="0" y1="632.0" x2="0" y2="1032.0"><stop offset="0.0000" stop-color="#855900"/><stop offset="0.5000" stop-color="#9a5900"/><stop offset="0.7500" stop-color="#a75900"/><stop offset="1.0000" stop-color="#b85900"/></linearGradient><linearGradient id="g148" gradientUnits="userSpaceOnUse" x1="0" y1="632.0" x2="0" y2="1032.0"><stop offset="0.0000" stop-color="#8d5900"/><stop offset="0.5000" stop-color="#9e5900"/><stop offset="0.7500" stop-color="#ab5900"/><stop offset="0.9167" stop-color="#b85900"/><stop offset="1.0000" stop-color="#c05900"/></linearGradient><linearGradient id="g149" gradientUnits="userSpaceOnUse" x1="0" y1="632.0" x2="0" y2="1032.0"><stop offset="0.0000" stop-color="#915900"/><stop offset="0.3750" stop-color="#a25900"/><stop offset="0.5417" stop-color="#b85900"/><stop offset="0.6250" stop-color="#af5900"/><stop offset="0.7917" stop-color="#b35900"/><stop offset="0.8750" stop-color="#c05900"/><stop offset="0.9583" stop-color="#bc5900"/><stop offset="1.0000" stop-color="#c45900"/></linearGradient><linearGradient id="g150" gradientUnits="userSpaceOnUse" x1="0" y1="632.0" x2="0" y2="1032.0"><stop offset="0.0000" stop-color="#915900"/><stop offset="0.1667" stop-color="#a75900"/><stop offset="0.5000" stop-color="#ab5900"/><stop offset="1.0000" stop-color="#b85900"/></linearGradient><linearGradient id="g151" gradientUnits="userSpaceOnUse" x1="0" y1="632.0" x2="0" y2="1032.0"><stop offset="0.0000" stop-color="#ab5900"/><stop offset="0.2500" stop-color="#b35900"/><stop offset="0.3750" stop-color="#bc5900"/><stop offset="0.5833" stop-color="#c45900"/><stop offset="0.8333" stop-color="#d15900"/><stop offset="0.9583" stop-color="#d55900"/><stop offset="1.0000" stop-color="#d15900"/></linearGradient><linearGradient id="g152" gradientUnits="userSpaceOnUse" x1="0" y1="632.0" x2="0" y2="1032.0"><stop offset="0.0000" stop-color="#8d5900"/><stop offset="0.3750" stop-color="#9e5900"/><stop offset="0.5833" stop-color="#af5900"/><stop offset="0.7917" stop-color="#bc5900"/><stop offset="0.9375" stop-color="#c45900"/><stop offset="1.0000" stop-color="#c45900"/></linearGradient><linearGradient id="g153" gradientUnits="userSpaceOnUse" x1="0" y1="632.0" x2="0" y2="1032.0"><stop offset="0.0000" stop-color="#a75900"/><stop offset="0.1250" stop-color="#b15900"/><stop offset="0.2500" stop-color="#be5900"/><stop offset="0.5000" stop-color="#cb5900"/><stop offset="0.6667" stop-color="#d35900"/><stop offset="0.8333" stop-color="#dc5900"/><stop offset="1.0000" stop-color="#e05900"/></linearGradient><linearGradient id="g154" gradientUnits="userSpaceOnUse" x1="0" y1="632.0" x2="0" y2="1032.0"><stop offset="0.0000" stop-color="#9a5900"/><stop offset="0.3750" stop-color="#ab5900"/><stop offset="0.5833" stop-color="#c45900"/><stop offset="0.7500" stop-color="#da5900"/><stop offset="0.8750" stop-color="#e45900"/><stop offset="1.0000" stop-color="#e25900"/></linearGradient><linearGradient id="g155" gradientUnits="userSpaceOnUse" x1="0" y1="632.0" x2="0" y2="1032.0"><stop offset="0.4792" stop-color="#8ada00" stop-opacity="0"/><stop offset="0.5833" stop-color="#a75900"/><stop offset="0.6667" stop-color="#b85900"/><stop offset="0.7500" stop-color="#be5900"/><stop offset="0.8333" stop-color="#cb5900"/><stop offset="0.9167" stop-color="#cf5900"/><stop offset="1.0000" stop-color="#d15900"/></linearGradient><linearGradient id="g156" gradientUnits="userSpaceOnUse" x1="0" y1="632.0" x2="0" y2="1032.0"><stop offset="0.0000" stop-color="#965900"/><stop offset="0.3750" stop-color="#ab5900"/><stop offset="0.7083" stop-color="#b35900"/><stop offset="0.7917" stop-color="#c05900"/><stop offset="0.9167" stop-color="#c45900"/><stop offset="1.0000" stop-color="#c95900"/></linearGradient><linearGradient id="g157" gradientUnits="userSpaceOnUse" x1="0" y1="632.0" x2="0" y2="1032.0"><stop offset="0.0000" stop-color="#9a5900"/><stop offset="0.3750" stop-color="#ab5900"/><stop offset="0.5833" stop-color="#b35900"/><stop offset="0.7917" stop-color="#c05900"/><stop offset="1.0000" stop-color="#c45900"/></linearGradient><linearGradient id="g158" gradientUnits="userSpaceOnUse" x1="0" y1="632.0" x2="0" y2="1032.0"><stop offset="0.0000" stop-color="#9a5900"/><stop offset="0.2500" stop-color="#ab5900"/><stop offset="0.3750" stop-color="#b85900"/><stop offset="0.5833" stop-color="#c45900"/><stop offset="0.8333" stop-color="#d55900"/><stop offset="1.0000" stop-color="#da5900"/></linearGradient><linearGradient id="g159" gradientUnits="userSpaceOnUse" x1="0" y1="632.0" x2="0" y2="1032.0"><stop offset="0.2708" stop-color="#6cfc00" stop-opacity="0"/><stop offset="0.3750" stop-color="#9a5900"/><stop offset="0.5833" stop-color="#ab5900"/><stop offset="0.8333" stop-color="#bc5900"/><stop offset="1.0000" stop-color="#c45900"/></linearGradient><linearGradient id="g160" gradientUnits="userSpaceOnUse" x1="0" y1="632.0" x2="0" y2="1032.0"><stop offset="0.0000" stop-color="#a25900"/><stop offset="0.2500" stop-color="#af5900"/><stop offset="0.5000" stop-color="#b85900"/><stop offset="0.7500" stop-color="#c05900"/><stop offset="0.8333" stop-color="#c45900"/><stop offset="0.9167" stop-color="#c05900"/><stop offset="1.0000" stop-color="#c95900"/></linearGradient><linearGradient id="g161" gradientUnits="userSpaceOnUse" x1="0" y1="632.0" x2="0" y2="1032.0"><stop offset="0.0000" stop-color="#8d5900"/><stop offset="0.2500" stop-color="#9a5900"/><stop offset="0.5000" stop-color="#a75900"/><stop offset="0.7083" stop-color="#b35900"/><stop offset="0.8333" stop-color="#c05900"/><stop offset="0.9583" stop-color="#c05900"/><stop offset="1.0000" stop-color="#c95900"/></linearGradient><linearGradient id="g162" gradientUnits="userSpaceOnUse" x1="0" y1="632.0" x2="0" y2="1032.0"><stop offset="0.0000" stop-color="#855900"/><stop offset="0.2500" stop-color="#915900"/><stop offset="0.5000" stop-color="#a75900"/><stop offset="0.7500" stop-color="#af5900"/><stop offset="0.8333" stop-color="#c05900"/><stop offset="0.9583" stop-color="#c45900"/><stop offset="1.0000" stop-color="#c95900"/></linearGradient><linearGradient id="g163" gradientUnits="userSpaceOnUse" x1="0" y1="632.0" x2="0" y2="1032.0"><stop offset="0.0000" stop-color="#855900"/><stop offset="0.5000" stop-color="#9a5900"/><stop offset="0.6667" stop-color="#ab5900"/><stop offset="0.8333" stop-color="#b85900"/><stop offset="0.9583" stop-color="#bc5900"/><stop offset="1.0000" stop-color="#c45900"/></linearGradient><linearGradient id="g164" gradientUnits="userSpaceOnUse" x1="0" y1="632.0" x2="0" y2="1032.0"><stop offset="0.0000" stop-color="#965900"/><stop offset="0.2500" stop-color="#a25900"/><stop offset="0.5000" stop-color="#ab5900"/><stop offset="0.7500" stop-color="#af5900"/><stop offset="1.0000" stop-color="#b85900"/></linearGradient><linearGradient id="g165" gradientUnits="userSpaceOnUse" x1="0" y1="632.0" x2="0" y2="1032.0"><stop offset="0.3958" stop-color="#66e700" stop-opacity="0"/><stop offset="0.5000" stop-color="#965900"/><stop offset="0.7500" stop-color="#ab5900"/><stop offset="0.8750" stop-color="#b85900"/><stop offset="0.9583" stop-color="#b85900"/><stop offset="1.0000" stop-color="#c05900"/></linearGradient><linearGradient id="g166" gradientUnits="userSpaceOnUse" x1="0" y1="632.0" x2="0" y2="1032.0"><stop offset="0.0000" stop-color="#7c5900"/><stop offset="0.2500" stop-color="#915900"/><stop offset="0.5000" stop-color="#a25900"/><stop offset="0.7500" stop-color="#ab5900"/><stop offset="1.0000" stop-color="#b85900"/></linearGradient><linearGradient id="g167" gradientUnits="userSpaceOnUse" x1="0" y1="632.0" x2="0" y2="1032.0"><stop offset="0.0000" stop-color="#9e5900"/><stop offset="0.2500" stop-color="#ab5900"/><stop offset="0.5000" stop-color="#b15900"/><stop offset="0.7500" stop-color="#b85900"/><stop offset="0.8333" stop-color="#c05900"/><stop offset="1.0000" stop-color="#c45900"/></linearGradient><linearGradient id="g168" gradientUnits="userSpaceOnUse" x1="0" y1="632.0" x2="0" y2="1032.0"><stop offset="0.0000" stop-color="#a75900"/><stop offset="0.2500" stop-color="#b85900"/><stop offset="0.5000" stop-color="#c05900"/><stop offset="0.7500" stop-color="#c45900"/><stop offset="0.8750" stop-color="#d15900"/><stop offset="1.0000" stop-color="#cd5900"/></linearGradient><linearGradient id="g169" gradientUnits="userSpaceOnUse" x1="0" y1="632.0" x2="0" y2="1032.0"><stop offset="0.6458" stop-color="#85be00" stop-opacity="0"/><stop offset="0.7500" stop-color="#a25900"/><stop offset="0.8333" stop-color="#b85900"/><stop offset="0.9583" stop-color="#bc5900"/><stop offset="1.0000" stop-color="#c05900"/></linearGradient><linearGradient id="g170" gradientUnits="userSpaceOnUse" x1="0" y1="632.0" x2="0" y2="1032.0"><stop offset="0.0000" stop-color="#a25900"/><stop offset="0.1667" stop-color="#af5900"/><stop offset="0.3750" stop-color="#b85900"/><stop offset="0.5833" stop-color="#c05900"/><stop offset="0.7500" stop-color="#c75900"/><stop offset="0.8750" stop-color="#cd5900"/><stop offset="1.0000" stop-color="#cd5900"/></linearGradient><linearGradient id="g171" gradientUnits="userSpaceOnUse" x1="0" y1="632.0" x2="0" y2="1032.0"><stop offset="0.0000" stop-color="#8d5900"/><stop offset="0.3750" stop-color="#9e5900"/><stop offset="0.5833" stop-color="#ab5900"/><stop offset="0.8333" stop-color="#b35900"/><stop offset="1.0000" stop-color="#c05900"/></linearGradient><linearGradient id="g172" gradientUnits="userSpaceOnUse" x1="0" y1="632.0" x2="0" y2="1032.0"><stop offset="0.4792" stop-color="#73da00" stop-opacity="0"/><stop offset="0.5833" stop-color="#965900"/><stop offset="0.7500" stop-color="#ab5900"/><stop offset="0.8750" stop-color="#bc5900"/><stop offset="1.0000" stop-color="#c05900"/></linearGradient><linearGradient id="g173" gradientUnits="userSpaceOnUse" x1="0" y1="632.0" x2="0" y2="1032.0"><stop offset="0.5625" stop-color="#79cc00" stop-opacity="0"/><stop offset="0.6667" stop-color="#9a5900"/><stop offset="0.7917" stop-color="#ab5900"/><stop offset="0.8958" stop-color="#bc5900"/><stop offset="1.0000" stop-color="#c45900"/></linearGradient><linearGradient id="g174" gradientUnits="userSpaceOnUse" x1="0" y1="632.0" x2="0" y2="1032.0"><stop offset="0.7292" stop-color="#8ab100" stop-opacity="0"/><stop offset="0.8333" stop-color="#a75900"/><stop offset="0.8958" stop-color="#bc5900"/><stop offset="0.9583" stop-color="#c95900"/><stop offset="1.0000" stop-color="#cd5900"/></linearGradient><linearGradient id="gbt" gradientUnits="userSpaceOnUse" x1="0" y1="1019.0" x2="0" y2="1032.0"><stop offset="0" stop-color="#fff" stop-opacity="0"/><stop offset="0.45" stop-color="#fff" stop-opacity="1"/><stop offset="1" stop-color="#fff"/></linearGradient><mask id="mbt" maskUnits="userSpaceOnUse" x="252.0" y="1018.0" width="1534.3" height="16"><rect x="252.0" y="1018.0" width="1534.3" height="16" fill="url(#gbt)"/></mask></defs>
<g clip-path="url(#cb)"><g filter="url(#cm)"><g filter="url(#bh)"><rect x="233" y="622.0" width="12.5" height="420.0" fill="url(#g1)"/><rect x="245" y="622.0" width="12.5" height="420.0" fill="url(#g2)"/><rect x="257" y="622.0" width="12.5" height="420.0" fill="url(#g3)"/><rect x="269" y="622.0" width="12.5" height="420.0" fill="url(#g4)"/><rect x="281" y="622.0" width="12.5" height="420.0" fill="url(#g5)"/><rect x="293" y="622.0" width="12.5" height="420.0" fill="url(#g6)"/><rect x="305" y="622.0" width="12.5" height="420.0" fill="url(#g7)"/><rect x="317" y="622.0" width="12.5" height="420.0" fill="url(#g8)"/><rect x="329" y="622.0" width="12.5" height="420.0" fill="url(#g9)"/><rect x="341" y="622.0" width="12.5" height="420.0" fill="url(#g10)"/><rect x="353" y="622.0" width="12.5" height="420.0" fill="url(#g11)"/><rect x="365" y="622.0" width="12.5" height="420.0" fill="url(#g12)"/><rect x="377" y="622.0" width="12.5" height="420.0" fill="url(#g13)"/><rect x="389" y="622.0" width="12.5" height="420.0" fill="url(#g14)"/><rect x="401" y="622.0" width="12.5" height="420.0" fill="url(#g15)"/><rect x="413" y="622.0" width="12.5" height="420.0" fill="url(#g16)"/><rect x="425" y="622.0" width="12.5" height="420.0" fill="url(#g17)"/><rect x="437" y="622.0" width="12.5" height="420.0" fill="url(#g18)"/><rect x="449" y="622.0" width="12.5" height="420.0" fill="url(#g19)"/><rect x="461" y="622.0" width="12.5" height="420.0" fill="url(#g20)"/><rect x="473" y="622.0" width="12.5" height="420.0" fill="url(#g21)"/><rect x="485" y="622.0" width="12.5" height="420.0" fill="url(#g22)"/><rect x="497" y="622.0" width="12.5" height="420.0" fill="url(#g23)"/><rect x="509" y="622.0" width="12.5" height="420.0" fill="url(#g24)"/><rect x="521" y="622.0" width="12.5" height="420.0" fill="url(#g25)"/><rect x="533" y="622.0" width="12.5" height="420.0" fill="url(#g26)"/><rect x="545" y="622.0" width="12.5" height="420.0" fill="url(#g27)"/><rect x="557" y="622.0" width="12.5" height="420.0" fill="url(#g28)"/><rect x="569" y="622.0" width="12.5" height="420.0" fill="url(#g29)"/><rect x="581" y="622.0" width="12.5" height="420.0" fill="url(#g30)"/><rect x="593" y="622.0" width="12.5" height="420.0" fill="url(#g31)"/><rect x="605" y="622.0" width="12.5" height="420.0" fill="url(#g32)"/><rect x="617" y="622.0" width="12.5" height="420.0" fill="url(#g33)"/><rect x="629" y="622.0" width="12.5" height="420.0" fill="url(#g34)"/><rect x="641" y="622.0" width="12.5" height="420.0" fill="url(#g35)"/><rect x="653" y="622.0" width="12.5" height="420.0" fill="url(#g36)"/><rect x="665" y="622.0" width="12.5" height="420.0" fill="url(#g37)"/><rect x="677" y="622.0" width="12.5" height="420.0" fill="url(#g38)"/><rect x="689" y="622.0" width="12.5" height="420.0" fill="url(#g39)"/><rect x="701" y="622.0" width="12.5" height="420.0" fill="url(#g40)"/><rect x="713" y="622.0" width="12.5" height="420.0" fill="url(#g41)"/><rect x="725" y="622.0" width="12.5" height="420.0" fill="url(#g42)"/><rect x="737" y="622.0" width="12.5" height="420.0" fill="url(#g43)"/><rect x="749" y="622.0" width="12.5" height="420.0" fill="url(#g44)"/><rect x="761" y="622.0" width="12.5" height="420.0" fill="url(#g45)"/><rect x="773" y="622.0" width="12.5" height="420.0" fill="url(#g46)"/><rect x="785" y="622.0" width="12.5" height="420.0" fill="url(#g47)"/><rect x="797" y="622.0" width="12.5" height="420.0" fill="url(#g48)"/><rect x="809" y="622.0" width="12.5" height="420.0" fill="url(#g49)"/><rect x="821" y="622.0" width="12.5" height="420.0" fill="url(#g50)"/><rect x="833" y="622.0" width="12.5" height="420.0" fill="url(#g51)"/><rect x="845" y="622.0" width="12.5" height="420.0" fill="url(#g52)"/><rect x="857" y="622.0" width="12.5" height="420.0" fill="url(#g53)"/><rect x="869" y="622.0" width="12.5" height="420.0" fill="url(#g54)"/><rect x="881" y="622.0" width="12.5" height="420.0" fill="url(#g55)"/><rect x="893" y="622.0" width="12.5" height="420.0" fill="url(#g56)"/><rect x="905" y="622.0" width="12.5" height="420.0" fill="url(#g57)"/><rect x="917" y="622.0" width="12.5" height="420.0" fill="url(#g58)"/><rect x="929" y="622.0" width="12.5" height="420.0" fill="url(#g59)"/><rect x="941" y="622.0" width="12.5" height="420.0" fill="url(#g60)"/><rect x="953" y="622.0" width="12.5" height="420.0" fill="url(#g61)"/><rect x="965" y="622.0" width="12.5" height="420.0" fill="url(#g62)"/><rect x="977" y="622.0" width="12.5" height="420.0" fill="url(#g63)"/><rect x="989" y="622.0" width="12.5" height="420.0" fill="url(#g64)"/><rect x="1001" y="622.0" width="12.5" height="420.0" fill="url(#g65)"/><rect x="1013" y="622.0" width="12.5" height="420.0" fill="url(#g66)"/><rect x="1025" y="622.0" width="12.5" height="420.0" fill="url(#g67)"/><rect x="1037" y="622.0" width="12.5" height="420.0" fill="url(#g68)"/><rect x="1049" y="622.0" width="12.5" height="420.0" fill="url(#g69)"/><rect x="1061" y="622.0" width="12.5" height="420.0" fill="url(#g70)"/><rect x="1073" y="622.0" width="12.5" height="420.0" fill="url(#g71)"/><rect x="1085" y="622.0" width="12.5" height="420.0" fill="url(#g72)"/><rect x="1097" y="622.0" width="12.5" height="420.0" fill="url(#g73)"/><rect x="1109" y="622.0" width="12.5" height="420.0" fill="url(#g74)"/><rect x="1121" y="622.0" width="12.5" height="420.0" fill="url(#g75)"/><rect x="1133" y="622.0" width="12.5" height="420.0" fill="url(#g76)"/><rect x="1145" y="622.0" width="12.5" height="420.0" fill="url(#g77)"/><rect x="1157" y="622.0" width="12.5" height="420.0" fill="url(#g78)"/><rect x="1169" y="622.0" width="12.5" height="420.0" fill="url(#g79)"/><rect x="1181" y="622.0" width="12.5" height="420.0" fill="url(#g80)"/><rect x="1193" y="622.0" width="12.5" height="420.0" fill="url(#g81)"/><rect x="1205" y="622.0" width="12.5" height="420.0" fill="url(#g82)"/><rect x="1217" y="622.0" width="12.5" height="420.0" fill="url(#g83)"/><rect x="1229" y="622.0" width="12.5" height="420.0" fill="url(#g84)"/><rect x="1241" y="622.0" width="12.5" height="420.0" fill="url(#g85)"/><rect x="1253" y="622.0" width="12.5" height="420.0" fill="url(#g86)"/><rect x="1265" y="622.0" width="12.5" height="420.0" fill="url(#g87)"/><rect x="1277" y="622.0" width="12.5" height="420.0" fill="url(#g88)"/><rect x="1289" y="622.0" width="12.5" height="420.0" fill="url(#g89)"/><rect x="1301" y="622.0" width="12.5" height="420.0" fill="url(#g90)"/><rect x="1313" y="622.0" width="12.5" height="420.0" fill="url(#g91)"/><rect x="1325" y="622.0" width="12.5" height="420.0" fill="url(#g92)"/><rect x="1337" y="622.0" width="12.5" height="420.0" fill="url(#g93)"/><rect x="1349" y="622.0" width="12.5" height="420.0" fill="url(#g94)"/><rect x="1361" y="622.0" width="12.5" height="420.0" fill="url(#g95)"/><rect x="1373" y="622.0" width="12.5" height="420.0" fill="url(#g96)"/><rect x="1385" y="622.0" width="12.5" height="420.0" fill="url(#g97)"/><rect x="1397" y="622.0" width="12.5" height="420.0" fill="url(#g98)"/><rect x="1409" y="622.0" width="12.5" height="420.0" fill="url(#g99)"/><rect x="1421" y="622.0" width="12.5" height="420.0" fill="url(#g100)"/><rect x="1433" y="622.0" width="12.5" height="420.0" fill="url(#g101)"/><rect x="1445" y="622.0" width="12.5" height="420.0" fill="url(#g102)"/><rect x="1457" y="622.0" width="12.5" height="420.0" fill="url(#g103)"/><rect x="1469" y="622.0" width="12.5" height="420.0" fill="url(#g104)"/><rect x="1481" y="622.0" width="12.5" height="420.0" fill="url(#g105)"/><rect x="1493" y="622.0" width="12.5" height="420.0" fill="url(#g106)"/><rect x="1505" y="622.0" width="12.5" height="420.0" fill="url(#g107)"/><rect x="1517" y="622.0" width="12.5" height="420.0" fill="url(#g108)"/><rect x="1529" y="622.0" width="12.5" height="420.0" fill="url(#g109)"/><rect x="1541" y="622.0" width="12.5" height="420.0" fill="url(#g110)"/><rect x="1553" y="622.0" width="12.5" height="420.0" fill="url(#g111)"/><rect x="1565" y="622.0" width="12.5" height="420.0" fill="url(#g112)"/><rect x="1577" y="622.0" width="12.5" height="420.0" fill="url(#g113)"/><rect x="1589" y="622.0" width="12.5" height="420.0" fill="url(#g114)"/><rect x="1601" y="622.0" width="12.5" height="420.0" fill="url(#g115)"/><rect x="1613" y="622.0" width="12.5" height="420.0" fill="url(#g116)"/><rect x="1625" y="622.0" width="12.5" height="420.0" fill="url(#g117)"/><rect x="1637" y="622.0" width="12.5" height="420.0" fill="url(#g118)"/><rect x="1649" y="622.0" width="12.5" height="420.0" fill="url(#g119)"/><rect x="1661" y="622.0" width="12.5" height="420.0" fill="url(#g120)"/><rect x="1673" y="622.0" width="12.5" height="420.0" fill="url(#g121)"/><rect x="1685" y="622.0" width="12.5" height="420.0" fill="url(#g122)"/><rect x="1697" y="622.0" width="12.5" height="420.0" fill="url(#g123)"/><rect x="1709" y="622.0" width="12.5" height="420.0" fill="url(#g124)"/><rect x="1721" y="622.0" width="12.5" height="420.0" fill="url(#g125)"/><rect x="1733" y="622.0" width="12.5" height="420.0" fill="url(#g126)"/><rect x="1745" y="622.0" width="12.5" height="420.0" fill="url(#g127)"/><rect x="1757" y="622.0" width="12.5" height="420.0" fill="url(#g128)"/><rect x="1769" y="622.0" width="12.5" height="420.0" fill="url(#g129)"/><rect x="1781" y="622.0" width="12.5" height="420.0" fill="url(#g130)"/><rect x="1793" y="622.0" width="12.5" height="420.0" fill="url(#g131)"/><rect x="1805" y="622.0" width="12.5" height="420.0" fill="url(#g132)"/></g><g filter="url(#bs)"><rect x="415.7" y="632.0" width="5.6" height="400.0" fill="url(#g133)"/><rect x="435.5" y="632.0" width="3" height="400.0" fill="url(#g134)"/><rect x="581.1" y="632.0" width="3.8" height="400.0" fill="url(#g135)"/><rect x="651.8" y="632.0" width="3.6" height="400.0" fill="url(#g136)"/><rect x="667.5" y="632.0" width="3" height="400.0" fill="url(#g137)"/><rect x="749.6" y="632.0" width="2.8" height="400.0" fill="url(#g138)"/><rect x="767.8" y="632.0" width="2.4" height="400.0" fill="url(#g139)"/><rect x="792.7" y="632.0" width="2.6" height="400.0" fill="url(#g140)"/><rect x="838.3" y="632.0" width="2.4" height="400.0" fill="url(#g141)"/><rect x="859.9" y="632.0" width="2.2" height="400.0" fill="url(#g142)"/><rect x="890.2" y="632.0" width="3" height="400.0" fill="url(#g143)"/><rect x="903.5" y="632.0" width="5" height="400.0" fill="url(#g144)"/><rect x="924" y="632.0" width="5.5" height="400.0" fill="url(#g145)"/><rect x="954.5" y="632.0" width="3" height="400.0" fill="url(#g146)"/><rect x="983.6" y="632.0" width="2.2" height="400.0" fill="url(#g147)"/><rect x="1107.8" y="632.0" width="2.4" height="400.0" fill="url(#g148)"/><rect x="1120.5" y="632.0" width="6" height="400.0" fill="url(#g149)"/><rect x="1129.3" y="632.0" width="2.4" height="400.0" fill="url(#g150)"/><rect x="1162" y="632.0" width="3.2" height="400.0" fill="url(#g151)"/><rect x="1171.7" y="632.0" width="3.2" height="400.0" fill="url(#g152)"/><rect x="1258" y="632.0" width="8" height="400.0" fill="url(#g153)"/><rect x="1269.1" y="632.0" width="4.4" height="400.0" fill="url(#g154)"/><rect x="1278" y="632.0" width="10" height="400.0" fill="url(#g155)"/><rect x="1303" y="632.0" width="4" height="400.0" fill="url(#g156)"/><rect x="1318.5" y="632.0" width="3" height="400.0" fill="url(#g157)"/><rect x="1333" y="632.0" width="3.6" height="400.0" fill="url(#g158)"/><rect x="1348.2" y="632.0" width="2.6" height="400.0" fill="url(#g159)"/><rect x="1389" y="632.0" width="4" height="400.0" fill="url(#g160)"/><rect x="1458.7" y="632.0" width="2.6" height="400.0" fill="url(#g161)"/><rect x="1513" y="632.0" width="3" height="400.0" fill="url(#g162)"/><rect x="1554.3" y="632.0" width="4.4" height="400.0" fill="url(#g163)"/><rect x="1568.7" y="632.0" width="2.6" height="400.0" fill="url(#g164)"/><rect x="1579.9" y="632.0" width="3" height="400.0" fill="url(#g165)"/><rect x="1602.9" y="632.0" width="2.2" height="400.0" fill="url(#g166)"/><rect x="1690.7" y="632.0" width="7" height="400.0" fill="url(#g167)"/><rect x="1700.1" y="632.0" width="3" height="400.0" fill="url(#g168)"/><rect x="1709.2" y="632.0" width="3" height="400.0" fill="url(#g169)"/><rect x="1746.5" y="632.0" width="5.5" height="400.0" fill="url(#g170)"/><rect x="257.5" y="632.0" width="4" height="400.0" fill="url(#g171)"/><rect x="322.5" y="632.0" width="3" height="400.0" fill="url(#g172)"/><rect x="334" y="632.0" width="4" height="400.0" fill="url(#g173)"/><rect x="285" y="632.0" width="12" height="400.0" fill="url(#g174)"/><g mask="url(#mbt)"><rect x="257" y="1020" width="6.9" height="14" rx="3" fill="#cc4000"/><rect x="266.9" y="1023.1" width="23.1" height="10.9" rx="3" fill="#d54000"/><rect x="293" y="1020.8" width="18" height="13.2" rx="3" fill="#cd4000"/><rect x="337" y="1019.8" width="14.3" height="14.2" rx="3" fill="#c84000"/><rect x="369.3" y="1019.8" width="14.9" height="14.2" rx="3" fill="#d84000"/><rect x="410.2" y="1022.4" width="16.5" height="11.6" rx="3" fill="#d14000"/><rect x="444.7" y="1019.3" width="18.8" height="14.7" rx="3" fill="#cc4000"/><rect x="475.5" y="1022.5" width="11.3" height="11.5" rx="3" fill="#cb4000"/><rect x="494.8" y="1022.2" width="11.4" height="11.8" rx="3" fill="#cc4000"/><rect x="509.2" y="1019.6" width="8.9" height="14.4" rx="3" fill="#cf4000"/><rect x="530.1" y="1019.6" width="19.6" height="14.4" rx="3" fill="#ce4000"/><rect x="554.7" y="1021.7" width="17.7" height="12.3" rx="3" fill="#ce4000"/><rect x="577.5" y="1021.3" width="16.8" height="12.7" rx="3" fill="#d94000"/><rect x="599.3" y="1019.4" width="19.8" height="14.6" rx="3" fill="#cf4000"/><rect x="624.1" y="1022.3" width="18.6" height="11.7" rx="3" fill="#d04000"/><rect x="668.7" y="1020.7" width="19.2" height="13.3" rx="3" fill="#cc4000"/><rect x="705.9" y="1019.6" width="22" height="14.4" rx="3" fill="#cd4000"/><rect x="730.8" y="1020.2" width="11.4" height="13.8" rx="3" fill="#da4000"/><rect x="745.2" y="1021.9" width="13.1" height="12.1" rx="3" fill="#c84000"/><rect x="763.3" y="1023" width="18.6" height="11" rx="3" fill="#ca4000"/><rect x="786.9" y="1020.2" width="23.1" height="13.8" rx="3" fill="#cb4000"/><rect x="836" y="1021.7" width="12.6" height="12.3" rx="3" fill="#c74000"/><rect x="860.6" y="1021.9" width="21.4" height="12.1" rx="3" fill="#ca4000"/><rect x="900" y="1019.6" width="19.9" height="14.4" rx="3" fill="#cd4000"/><rect x="931.9" y="1022.6" width="15.4" height="11.4" rx="3" fill="#da4000"/><rect x="952.3" y="1020.5" width="10.3" height="13.5" rx="3" fill="#da4000"/><rect x="965.7" y="1019.7" width="22.6" height="14.3" rx="3" fill="#c74000"/><rect x="996.3" y="1020.2" width="15.2" height="13.8" rx="3" fill="#cf4000"/><rect x="1014.4" y="1020.7" width="6.9" height="13.3" rx="3" fill="#c84000"/><rect x="1047.3" y="1022.8" width="22.2" height="11.2" rx="3" fill="#cc4000"/><rect x="1087.5" y="1019.4" width="14.3" height="14.6" rx="3" fill="#db4000"/><rect x="1106.8" y="1020" width="14.3" height="14" rx="3" fill="#d94000"/><rect x="1129.1" y="1020.4" width="14.2" height="13.6" rx="3" fill="#c74000"/><rect x="1151.4" y="1022.4" width="13.9" height="11.6" rx="3" fill="#ce4000"/><rect x="1191.2" y="1021.7" width="17.5" height="12.3" rx="3" fill="#ce4000"/><rect x="1211.7" y="1022.7" width="20.1" height="11.3" rx="3" fill="#d64000"/><rect x="1257.9" y="1018.6" width="20.1" height="15.4" rx="3" fill="#d94000"/><rect x="1286" y="1023.2" width="17.1" height="10.8" rx="3" fill="#d64000"/><rect x="1315.1" y="1022.4" width="15.9" height="11.6" rx="3" fill="#d34000"/><rect x="1357.1" y="1022.2" width="8" height="11.8" rx="3" fill="#ca4000"/><rect x="1370" y="1021.6" width="18.7" height="12.4" rx="3" fill="#cc4000"/><rect x="1393.7" y="1022.6" width="7.6" height="11.4" rx="3" fill="#c84000"/><rect x="1406.3" y="1022.4" width="19.2" height="11.6" rx="3" fill="#d24000"/><rect x="1451.5" y="1022.1" width="10.9" height="11.9" rx="3" fill="#d74000"/><rect x="1474.4" y="1023.3" width="12.1" height="10.7" rx="3" fill="#ca4000"/><rect x="1512.5" y="1022.9" width="8.8" height="11.1" rx="3" fill="#ce4000"/><rect x="1533.3" y="1021" width="7" height="13" rx="3" fill="#cd4000"/><rect x="1548.2" y="1020.4" width="23.3" height="13.6" rx="3" fill="#d74000"/><rect x="1579.6" y="1022.2" width="14.8" height="11.8" rx="3" fill="#d94000"/><rect x="1602.3" y="1019.7" width="23" height="14.3" rx="3" fill="#cd4000"/><rect x="1643.3" y="1019.4" width="8.6" height="14.6" rx="3" fill="#da4000"/><rect x="1656.9" y="1023.3" width="13.1" height="10.7" rx="3" fill="#da4000"/><rect x="1696.1" y="1022.9" width="23.3" height="11.1" rx="3" fill="#d64000"/><rect x="1724.4" y="1023.8" width="16.9" height="10.2" rx="3" fill="#c84000"/><rect x="1759.3" y="1019.3" width="7.9" height="14.7" rx="3" fill="#cc4000"/><rect x="1775.2" y="1020.7" width="17.8" height="13.3" rx="3" fill="#ce4000"/></g></g></g></g>
<defs><linearGradient id="cbar" gradientUnits="userSpaceOnUse" x1="0" y1="633" x2="0" y2="1031"><stop offset="0.0000" stop-color="#4a0008"/><stop offset="0.0250" stop-color="#5a0a10"/><stop offset="0.0500" stop-color="#80151c"/><stop offset="0.0750" stop-color="#a01a20"/><stop offset="0.1000" stop-color="#c81018"/><stop offset="0.1250" stop-color="#ec1410"/><stop offset="0.1500" stop-color="#ea2a18"/><stop offset="0.1750" stop-color="#ea3c18"/><stop offset="0.2000" stop-color="#ec5018"/><stop offset="0.2250" stop-color="#f06418"/><stop offset="0.2500" stop-color="#f47a14"/><stop offset="0.2750" stop-color="#f69012"/><stop offset="0.3000" stop-color="#f8a810"/><stop offset="0.3250" stop-color="#f8c414"/><stop offset="0.3500" stop-color="#f8de1c"/><stop offset="0.3625" stop-color="#f8ee24"/><stop offset="0.3750" stop-color="#f0ee30"/><stop offset="0.4000" stop-color="#dce63a"/><stop offset="0.4250" stop-color="#c4dc40"/><stop offset="0.4500" stop-color="#b0d64c"/><stop offset="0.4750" stop-color="#9cd060"/><stop offset="0.5000" stop-color="#8ccc78"/><stop offset="0.5250" stop-color="#86c888"/><stop offset="0.5500" stop-color="#7cc89c"/><stop offset="0.5750" stop-color="#74c8b0"/><stop offset="0.6000" stop-color="#6ec8c8"/><stop offset="0.6250" stop-color="#68c8dc"/><stop offset="0.6500" stop-color="#48c0e8"/><stop offset="0.6700" stop-color="#20bcf4"/><stop offset="0.7000" stop-color="#30a0e0"/><stop offset="0.7250" stop-color="#3888cc"/><stop offset="0.7500" stop-color="#2c6cb8"/><stop offset="0.7750" stop-color="#2458a8"/><stop offset="0.8000" stop-color="#1c4ca0"/><stop offset="0.8250" stop-color="#18489c"/><stop offset="0.8500" stop-color="#14449c"/><stop offset="0.8750" stop-color="#144098"/><stop offset="0.9000" stop-color="#103894"/><stop offset="0.9250" stop-color="#002c8c"/><stop offset="0.9500" stop-color="#182478"/><stop offset="0.9750" stop-color="#1c2860"/><stop offset="1.0000" stop-color="#1c2850"/></linearGradient></defs>
<rect x="1836.3" y="631.8" width="46.6" height="400.2" fill="url(#cbar)" stroke="#111" stroke-width="2.3"/>
<path d="M1883.9 1031h20.5M1883.9 931.5h20.5M1883.9 832.1h20.5M1883.9 732.7h20.5M1883.9 633.2h20.5" stroke="#111" stroke-width="2.4" fill="none"/>
<text x="1910.5" y="1043.1" font-family='"Liberation Serif", serif' font-size="42.6" font-weight="bold" text-anchor="start" fill="#231815">80</text>
<text x="1910.5" y="945.5" font-family='"Liberation Serif", serif' font-size="42.6" font-weight="bold" text-anchor="start" fill="#231815">90</text>
<text x="1910.5" y="846.5" font-family='"Liberation Serif", serif' font-size="42.6" font-weight="bold" text-anchor="start" fill="#231815">100</text>
<text x="1910.5" y="746.5" font-family='"Liberation Serif", serif' font-size="42.6" font-weight="bold" text-anchor="start" fill="#231815">110</text>
<text x="1910.5" y="650.2" font-family='"Liberation Serif", serif' font-size="42.6" font-weight="bold" text-anchor="start" fill="#231815">120</text>
<path d="M1837.3 633.4H1881.9" stroke="#d8c4c4" stroke-width="1.2" fill="none"/>
<text x="2021.5" y="838" font-family='"Liberation Serif", serif' font-size="58.4" font-weight="normal" text-anchor="middle" fill="#000" transform="rotate(-90 2021.5 838)">Power Spectral Density</text>
<text x="2102" y="833.5" font-family='"Liberation Serif", serif' font-size="58.6" font-weight="normal" text-anchor="middle" fill="#000" transform="rotate(-90 2102 833.5)">(dB re 1μPa<tspan dy="-21" font-size="41">2</tspan><tspan dy="21">/Hz)</tspan></text>
<rect x="257.0" y="37.5" width="1524.3" height="400.5" fill="none" stroke="#000" stroke-width="4.4"/>
<path d="M257 438.0v22.0M561.9 438.0v22.0M866.7 438.0v22.0M1171.6 438.0v22.0M1476.4 438.0v22.0M1781.3 438.0v22.0M409.4 438.0v11.6M714.3 438.0v11.6M1019.1 438.0v11.6M1324 438.0v11.6M1628.9 438.0v11.6" stroke="#000" stroke-width="3.8" fill="none"/>
<path d="M257.0 438h-22.0M257.0 337.9h-22.0M257.0 237.8h-22.0M257.0 137.6h-22.0M257.0 37.5h-22.0M257.0 387.9h-11.6M257.0 287.8h-11.6M257.0 187.7h-11.6M257.0 87.6h-11.6" stroke="#000" stroke-width="3.8" fill="none"/>
<text x="257" y="511" font-family='"Liberation Serif", serif' font-size="48.2" font-weight="normal" text-anchor="middle" fill="#000">0.0</text>
<text x="561.9" y="511" font-family='"Liberation Serif", serif' font-size="48.2" font-weight="normal" text-anchor="middle" fill="#000">0.1</text>
<text x="866.7" y="511" font-family='"Liberation Serif", serif' font-size="48.2" font-weight="normal" text-anchor="middle" fill="#000">0.2</text>
<text x="1171.6" y="511" font-family='"Liberation Serif", serif' font-size="48.2" font-weight="normal" text-anchor="middle" fill="#000">0.3</text>
<text x="1476.4" y="511" font-family='"Liberation Serif", serif' font-size="48.2" font-weight="normal" text-anchor="middle" fill="#000">0.4</text>
<text x="1781.3" y="511" font-family='"Liberation Serif", serif' font-size="48.2" font-weight="normal" text-anchor="middle" fill="#000">0.5</text>
<text x="220.8" y="451.5" font-family='"Liberation Serif", serif' font-size="48.2" font-weight="normal" text-anchor="end" fill="#000">-100</text>
<text x="220.8" y="351.4" font-family='"Liberation Serif", serif' font-size="48.2" font-weight="normal" text-anchor="end" fill="#000">-50</text>
<text x="220.8" y="251.2" font-family='"Liberation Serif", serif' font-size="48.2" font-weight="normal" text-anchor="end" fill="#000">0</text>
<text x="220.8" y="151.1" font-family='"Liberation Serif", serif' font-size="48.2" font-weight="normal" text-anchor="end" fill="#000">50</text>
<text x="220.8" y="51" font-family='"Liberation Serif", serif' font-size="48.2" font-weight="normal" text-anchor="end" fill="#000">100</text>
<text x="1019" y="576.7" font-family='"Liberation Serif", serif' font-size="59" font-weight="normal" text-anchor="middle" fill="#000">Time (s)</text>
<text x="107" y="238" font-family='"Liberation Serif", serif' font-size="58.8" font-weight="normal" text-anchor="middle" fill="#000" transform="rotate(-90 107 238)">Sound Pressure (Pa)</text>
<text transform="translate(282.0 111.4) scale(1.0 1)" font-family='"Liberation Sans", sans-serif' font-size="61.5" font-weight="bold" fill="#231815">A</text>
<rect x="257.0" y="632.0" width="1524.3" height="400.0" fill="none" stroke="#000" stroke-width="4.4"/>
<path d="M257 1032.0v22.0M561.9 1032.0v22.0M866.7 1032.0v22.0M1171.6 1032.0v22.0M1476.4 1032.0v22.0M1781.3 1032.0v22.0M409.4 1032.0v11.6M714.3 1032.0v11.6M1019.1 1032.0v11.6M1324 1032.0v11.6M1628.9 1032.0v11.6" stroke="#000" stroke-width="3.8" fill="none"/>
<path d="M257.0 1032h-22.0M257.0 932h-22.0M257.0 832h-22.0M257.0 732h-22.0M257.0 632h-22.0M257.0 982h-11.6M257.0 882h-11.6M257.0 782h-11.6M257.0 682h-11.6" stroke="#000" stroke-width="3.8" fill="none"/>
<text x="257" y="1106.3" font-family='"Liberation Serif", serif' font-size="48.2" font-weight="normal" text-anchor="middle" fill="#000">0.0</text>
<text x="561.9" y="1106.3" font-family='"Liberation Serif", serif' font-size="48.2" font-weight="normal" text-anchor="middle" fill="#000">0.1</text>
<text x="866.7" y="1106.3" font-family='"Liberation Serif", serif' font-size="48.2" font-weight="normal" text-anchor="middle" fill="#000">0.2</text>
<text x="1171.6" y="1106.3" font-family='"Liberation Serif", serif' font-size="48.2" font-weight="normal" text-anchor="middle" fill="#000">0.3</text>
<text x="1476.4" y="1106.3" font-family='"Liberation Serif", serif' font-size="48.2" font-weight="normal" text-anchor="middle" fill="#000">0.4</text>
<text x="1781.3" y="1106.3" font-family='"Liberation Serif", serif' font-size="48.2" font-weight="normal" text-anchor="middle" fill="#000">0.5</text>
<text x="219.6" y="1045.5" font-family='"Liberation Serif", serif' font-size="48.2" font-weight="normal" text-anchor="end" fill="#000">0</text>
<text x="219.6" y="945.5" font-family='"Liberation Serif", serif' font-size="48.2" font-weight="normal" text-anchor="end" fill="#000">12</text>
<text x="219.6" y="845.5" font-family='"Liberation Serif", serif' font-size="48.2" font-weight="normal" text-anchor="end" fill="#000">24</text>
<text x="219.6" y="745.5" font-family='"Liberation Serif", serif' font-size="48.2" font-weight="normal" text-anchor="end" fill="#000">36</text>
<text x="219.6" y="645.5" font-family='"Liberation Serif", serif' font-size="48.2" font-weight="normal" text-anchor="end" fill="#000">48</text>
<text x="1019" y="1171.6" font-family='"Liberation Serif", serif' font-size="59" font-weight="normal" text-anchor="middle" fill="#000">Time (s)</text>
<text x="111.2" y="831" font-family='"Liberation Serif", serif' font-size="58.8" font-weight="normal" text-anchor="middle" fill="#000" transform="rotate(-90 111.2 831)">Frequency (kHz)</text>
<text transform="translate(282.6 706.2) scale(0.88 1)" font-family='"Liberation Sans", sans-serif' font-size="61.5" font-weight="bold" fill="#231815">B</text>
<rect x="258.3" y="1228.6" width="1523.7" height="455.3" fill="none" stroke="#000" stroke-width="4.4"/>
<path d="M258.3 1683.9v22.0M448.8 1683.9v22.0M639.2 1683.9v22.0M829.7 1683.9v22.0M1020.2 1683.9v22.0M1210.6 1683.9v22.0M1401.1 1683.9v22.0M1591.5 1683.9v22.0M1782 1683.9v22.0M353.5 1683.9v11.6M544 1683.9v11.6M734.5 1683.9v11.6M924.9 1683.9v11.6M1115.4 1683.9v11.6M1305.8 1683.9v11.6M1496.3 1683.9v11.6M1686.8 1683.9v11.6" stroke="#000" stroke-width="3.8" fill="none"/>
<path d="M258.3 1683.9h-22.0M258.3 1592.8h-22.0M258.3 1501.8h-22.0M258.3 1410.7h-22.0M258.3 1319.7h-22.0M258.3 1228.6h-22.0" stroke="#000" stroke-width="3.8" fill="none"/>
<text x="258.3" y="1758" font-family='"Liberation Serif", serif' font-size="48.2" font-weight="normal" text-anchor="middle" fill="#000">0</text>
<text x="448.8" y="1758" font-family='"Liberation Serif", serif' font-size="48.2" font-weight="normal" text-anchor="middle" fill="#000">50</text>
<text x="639.2" y="1758" font-family='"Liberation Serif", serif' font-size="48.2" font-weight="normal" text-anchor="middle" fill="#000">100</text>
<text x="829.7" y="1758" font-family='"Liberation Serif", serif' font-size="48.2" font-weight="normal" text-anchor="middle" fill="#000">150</text>
<text x="1020.2" y="1758" font-family='"Liberation Serif", serif' font-size="48.2" font-weight="normal" text-anchor="middle" fill="#000">200</text>
<text x="1210.6" y="1758" font-family='"Liberation Serif", serif' font-size="48.2" font-weight="normal" text-anchor="middle" fill="#000">250</text>
<text x="1401.1" y="1758" font-family='"Liberation Serif", serif' font-size="48.2" font-weight="normal" text-anchor="middle" fill="#000">300</text>
<text x="1591.5" y="1758" font-family='"Liberation Serif", serif' font-size="48.2" font-weight="normal" text-anchor="middle" fill="#000">350</text>
<text x="1782" y="1758" font-family='"Liberation Serif", serif' font-size="48.2" font-weight="normal" text-anchor="middle" fill="#000">400</text>
<text x="222" y="1697.4" font-family='"Liberation Serif", serif' font-size="48.2" font-weight="normal" text-anchor="end" fill="#000">-25</text>
<text x="222" y="1606.3" font-family='"Liberation Serif", serif' font-size="48.2" font-weight="normal" text-anchor="end" fill="#000">0</text>
<text x="222" y="1515.3" font-family='"Liberation Serif", serif' font-size="48.2" font-weight="normal" text-anchor="end" fill="#000">25</text>
<text x="222" y="1424.2" font-family='"Liberation Serif", serif' font-size="48.2" font-weight="normal" text-anchor="end" fill="#000">50</text>
<text x="222" y="1333.2" font-family='"Liberation Serif", serif' font-size="48.2" font-weight="normal" text-anchor="end" fill="#000">75</text>
<text x="222" y="1242.1" font-family='"Liberation Serif", serif' font-size="48.2" font-weight="normal" text-anchor="end" fill="#000">100</text>
<text x="1021" y="1823.2" font-family='"Liberation Serif", serif' font-size="59" font-weight="normal" text-anchor="middle" fill="#000">Time (μs)</text>
<text x="125" y="1456" font-family='"Liberation Serif", serif' font-size="58.8" font-weight="normal" text-anchor="middle" fill="#000" transform="rotate(-90 125 1456)">Sound Pressure (Pa)</text>
<text transform="translate(282.6 1305.6) scale(0.87 1)" font-family='"Liberation Sans", sans-serif' font-size="61.5" font-weight="bold" fill="#231815">C</text>
<rect x="258.3" y="1889.7" width="1523.7" height="456.3" fill="none" stroke="#000" stroke-width="4.4"/>
<path d="M258.3 2346.0v22.0M700.4 2346.0v22.0M1142.5 2346.0v22.0M1584.6 2346.0v22.0M391.4 2346.0v11.6M469.2 2346.0v11.6M524.5 2346.0v11.6M567.3 2346.0v11.6M602.3 2346.0v11.6M631.9 2346.0v11.6M657.6 2346.0v11.6M680.2 2346.0v11.6M833.5 2346.0v11.6M911.3 2346.0v11.6M966.6 2346.0v11.6M1009.4 2346.0v11.6M1044.4 2346.0v11.6M1074 2346.0v11.6M1099.7 2346.0v11.6M1122.3 2346.0v11.6M1275.6 2346.0v11.6M1353.4 2346.0v11.6M1408.7 2346.0v11.6M1451.5 2346.0v11.6M1486.5 2346.0v11.6M1516.1 2346.0v11.6M1541.8 2346.0v11.6M1564.4 2346.0v11.6M1717.7 2346.0v11.6" stroke="#000" stroke-width="3.8" fill="none"/>
<path d="M258.3 2346h-22.0M258.3 2254.7h-22.0M258.3 2163.5h-22.0M258.3 2072.2h-22.0M258.3 1981h-22.0M258.3 1889.7h-22.0" stroke="#000" stroke-width="3.8" fill="none"/>
<text x="258.3" y="2420" font-family='"Liberation Serif", serif' font-size="48.2" font-weight="normal" text-anchor="middle" fill="#000">0.1</text>
<text x="700.4" y="2420" font-family='"Liberation Serif", serif' font-size="48.2" font-weight="normal" text-anchor="middle" fill="#000">1</text>
<text x="1142.5" y="2420" font-family='"Liberation Serif", serif' font-size="48.2" font-weight="normal" text-anchor="middle" fill="#000">10</text>
<text x="1584.6" y="2420" font-family='"Liberation Serif", serif' font-size="48.2" font-weight="normal" text-anchor="middle" fill="#000">100</text>
<text x="222" y="2359.5" font-family='"Liberation Serif", serif' font-size="48.2" font-weight="normal" text-anchor="end" fill="#000">20</text>
<text x="222" y="2268.2" font-family='"Liberation Serif", serif' font-size="48.2" font-weight="normal" text-anchor="end" fill="#000">40</text>
<text x="222" y="2177" font-family='"Liberation Serif", serif' font-size="48.2" font-weight="normal" text-anchor="end" fill="#000">60</text>
<text x="222" y="2085.7" font-family='"Liberation Serif", serif' font-size="48.2" font-weight="normal" text-anchor="end" fill="#000">80</text>
<text x="222" y="1994.5" font-family='"Liberation Serif", serif' font-size="48.2" font-weight="normal" text-anchor="end" fill="#000">100</text>
<text x="222" y="1903.2" font-family='"Liberation Serif", serif' font-size="48.2" font-weight="normal" text-anchor="end" fill="#000">120</text>
<text x="1020" y="2486" font-family='"Liberation Serif", serif' font-size="59" font-weight="normal" text-anchor="middle" fill="#000">Frequency (kHz)</text>
<text x="45" y="2117" font-family='"Liberation Serif", serif' font-size="57.8" font-weight="normal" text-anchor="middle" fill="#000" transform="rotate(-90 45 2117)">Power Spectral Density</text>
<text x="125" y="2118" font-family='"Liberation Serif", serif' font-size="58.8" font-weight="normal" text-anchor="middle" fill="#000" transform="rotate(-90 125 2118)">(dB re 1μPa<tspan dy="-24" font-size="41">2</tspan><tspan dy="24">/Hz)</tspan></text>
<text transform="translate(283.0 1966.0) scale(0.95 1)" font-family='"Liberation Sans", sans-serif' font-size="61.5" font-weight="bold" fill="#231815">D</text>
<path d="M257 233.3L258.5 229.9L260 228.7L261.5 230.6L263 229.4L264.5 229.7L266 231.2L267.5 232.2L269 232.7L270.5 232.2L272 231.4L273.5 232.5L275 231.8L276.5 232.3L278 233L279.5 232.4L281 232.2L282.5 231.8L284 232.3L285.5 234.1L287 233.9L288.5 232.7L290 231.9L291.5 233.6L293 233.3L294.5 231.7L296 232L297.5 234.1L299 234.6L300.5 235.1L302 234.6L303.5 234.1L305 234.4L306.5 233.1L308 233.9L309.5 233.9L311 234.1L312.5 234L314 233.7L315.5 233L317 232.7L318.5 233.4L320 232.8L321.5 233.1L323 232.8L324.5 232.7L326 232.9L327.5 233.3L329 233.8L330.5 233.8L332 233.9L333.5 234.9L335 234L336.5 233.7L338 233.4L339.5 234.6L341 235L342.5 234.3L344 235L345.5 232.8L347 233.9L348.5 235L350 235.2L351.5 234.3L353 234L354.5 235.2L356 235.2L357.5 234.5L359 233.6L360.5 235.2L362 235.4L363.5 235.6L365 235.7L366.5 235.3L368 235.5L369.5 235.5L371 234.6L372.5 234.8L374 232.8L375.5 232.2L377 232.5L378.5 233L380 233L381.5 234.8L383 235.1L384.5 234.4L386 234.2L387.5 235.3L389 235.1L390.5 235L392 234.9L393.5 235.1L395 234.2L396.5 233.8L398 232.7L399.5 232.4L401 234L402.5 234.2L404 234.4L405.5 234.6L407 234.8L408.5 233.2L410 233.4L411.5 234.7L413 233.7L414.5 232.6L416 233.8L417.5 234L419 233.9L420.5 234.5L422 232.9L423.5 233.4L425 232.5L426.5 233.2L428 233.2L429.5 232.7L431 232.4L432.5 232.1L434 231.6L435.5 231.5L437 231.9L438.5 230.4L440 231.8L441.5 231.1L443 231.4L444.5 231.9L446 232.3L447.5 232.4L449 232.2L450.5 232.9L452 233.3L453.5 233.3L455 233.4L456.5 234.6L458 234.6L459.5 234.3L461 233.6L462.5 234.5L464 235.3L465.5 234.7L467 234L468.5 234.2L470 235.3L471.5 234.3L473 234L474.5 234.3L476 233.2L477.5 234.2L479 234L480.5 233.9L482 233.7L483.5 232.9L485 232.8L486.5 233.5L488 234.1L489.5 234.3L491 234.4L492.5 233.9L494 232.9L495.5 233.7L497 234.5L498.5 233L500 232.5L501.5 232.8L503 233.6L504.5 234L506 234.3L507.5 233.9L509 233.4L510.5 234.3L512 233.5L513.5 233.9L515 232.5L516.5 232.6L518 234L519.5 234.1L521 233.3L522.5 233.7L524 232.9L525.5 234L527 233.5L528.5 232.7L530 233.7L531.5 232.3L533 231.7L534.5 232.9L536 234.1L537.5 233.9L539 233.8L540.5 233.4L542 232.9L543.5 233.3L545 233.9L546.5 233.2L548 233.2L549.5 234.1L551 233.1L552.5 233.6L554 234.6L555.5 234.4L557 234.8L558.5 234.4L560 233.5L561.5 232.9L563 232.8L564.5 234L566 234.7L567.5 232.4L569 232.4L570.5 233.3L572 234.5L573.5 235.3L575 233.7L576.5 233.7L578 233.4L579.5 234L581 234.6L582.5 233.4L584 232.8L585.5 233.7L587 233.9L588.5 233.6L590 233.5L591.5 234.3L593 233.6L594.5 234.1L596 233.8L597.5 233.6L599 233.7L600.5 234.4L602 234L603.5 233.8L605 234.5L606.5 234L608 233.7L609.5 233.8L611 233.6L612.5 234.2L614 234.5L615.5 234.7L617 234.8L618.5 234.5L620 234.5L621.5 234.7L623 234.8L624.5 235.4L626 234L627.5 233.7L629 234.5L630.5 235.2L632 234.9L633.5 232.7L635 234L636.5 232.8L638 231.6L639.5 232.6L641 233.7L642.5 233.6L644 232.4L645.5 233.2L647 232.2L648.5 230.8L650 232.1L651.5 232.4L653 232L654.5 232.5L656 232.7L657.5 232L659 232.4L660.5 234.2L662 234L663.5 234.6L665 235.3L666.5 234.8L668 233.9L669.5 234.8L671 235.1L672.5 234.2L674 234.3L675.5 235L677 234.2L678.5 233.8L680 233.4L681.5 234.4L683 233.9L684.5 233.9L686 232.2L687.5 232.3L689 233.7L690.5 234L692 233.8L693.5 233.7L695 233.6L696.5 233.1L698 233.6L699.5 233.7L701 233.9L702.5 234.3L704 233.7L705.5 234.1L707 233.8L708.5 233.2L710 233.4L711.5 233L713 232.3L714.5 232.7L716 233.1L717.5 232.3L719 231.8L720.5 233.7L722 232.2L723.5 232.7L725 233.9L726.5 232.7L728 232.8L729.5 232.9L731 231.8L732.5 232.5L734 233.1L735.5 231.7L737 231.3L738.5 232.6L740 233.1L741.5 233.2L743 234.3L744.5 233.4L746 234.1L747.5 234.8L749 233.1L750.5 232.3L752 233L753.5 234.4L755 234.4L756.5 232.8L758 232.7L759.5 233.6L761 233.7L762.5 233.1L764 232.7L765.5 233.2L767 234L768.5 232.7L770 232.3L771.5 232.7L773 233L774.5 232.7L776 231.9L777.5 232.9L779 233.3L780.5 231.6L782 232.3L783.5 233.5L785 232.5L786.5 230.2L788 231L789.5 233.2L791 232.1L792.5 233.5L794 231.6L795.5 231.8L797 233.5L798.5 231.9L800 230.3L801.5 229.8L803 230.9L804.5 233.2L806 232.9L807.5 232.1L809 233L810.5 231.9L812 233L813.5 234.2L815 233.7L816.5 233.9L818 234.9L819.5 234.5L821 234.7L822.5 234.9L824 234.3L825.5 233.7L827 233.3L828.5 233L830 232.2L831.5 231.7L833 232.7L834.5 234L836 233.9L837.5 233L839 234.6L840.5 233.5L842 233.6L843.5 234.3L845 233.1L846.5 233L848 233.2L849.5 232.2L851 233.2L852.5 231.9L854 232.3L855.5 232.5L857 231L858.5 230.7L860 232.3L861.5 230.4L863 231.3L864.5 231.4L866 231.1L867.5 232.7L869 233L870.5 233.6L872 233.4L873.5 233.6L875 233.1L876.5 234.3L878 234L879.5 234.3L881 233.9L882.5 235L884 234.9L885.5 235L887 233.6L888.5 233.2L890 234.5L891.5 234.8L893 233.7L894.5 233.2L896 234.5L897.5 234.3L899 233.3L900.5 232.4L902 233.2L903.5 233.2L905 233.4L906.5 233.2L908 233.1L909.5 233.1L911 231.7L912.5 230.9L914 232.6L915.5 233.3L917 232.3L918.5 232.7L920 233.1L921.5 232.4L923 232.4L924.5 232L926 234.4L927.5 231.5L929 232.5L930.5 233L932 231.9L933.5 232.6L935 232.4L936.5 232.7L938 234.1L939.5 233.7L941 233.7L942.5 233.9L944 234.2L945.5 233.9L947 234.6L948.5 233.6L950 232.5L951.5 233L953 233.3L954.5 234L956 233.5L957.5 232.7L959 233.8L960.5 233.7L962 233.8L963.5 233.8L965 233.3L966.5 234.5L968 233.7L969.5 233.9L971 233.7L972.5 234.3L974 232.1L975.5 233.1L977 232.2L978.5 231.5L980 233.4L981.5 233.9L983 233.8L984.5 233.7L986 232.5L987.5 232.6L989 233.1L990.5 231.8L992 231.2L993.5 230.9L995 232.2L996.5 232.1L998 232.3L999.5 232L1001 232.4L1002.5 232.5L1004 233.3L1005.5 233.4L1007 232.9L1008.5 233.6L1010 234.1L1011.5 232.9L1013 232.1L1014.5 233.2L1016 233.4L1017.5 231.2L1019 233L1020.5 234.6L1022 234.6L1023.5 233.5L1025 234L1026.5 233.7L1028 233.7L1029.5 233.1L1031 233.8L1032.5 231.3L1034 231.4L1035.5 232.1L1037 232L1038.5 233.4L1040 233L1041.5 233.1L1043 233.4L1044.5 232.8L1046 233.5L1047.5 233.8L1049 232.9L1050.5 230.6L1052 231.2L1053.5 232.5L1055 233.6L1056.5 233.3L1058 233.6L1059.5 233.6L1061 233L1062.5 232.6L1064 231.4L1065.5 233.2L1067 232.5L1068.5 231.7L1070 233.7L1071.5 234.5L1073 234.3L1074.5 234.8L1076 235.2L1077.5 234.6L1079 234.4L1080.5 235.9L1082 235.7L1083.5 236.1L1085 234.8L1086.5 233.7L1088 235L1089.5 235.7L1091 235.6L1092.5 234L1094 235.4L1095.5 234.5L1097 235.1L1098.5 235.7L1100 235.2L1101.5 235.7L1103 235.9L1104.5 236.6L1106 235.6L1107.5 236.4L1109 235.2L1110.5 234.3L1112 234.1L1113.5 235.1L1115 235.7L1116.5 235.2L1118 233.9L1119.5 234.5L1121 233.8L1122.5 233.5L1124 233.3L1125.5 231.1L1127 230.2L1128.5 232.4L1130 233.9L1131.5 233.4L1133 234L1134.5 233.3L1136 232.5L1137.5 233L1139 233.8L1140.5 235.4L1142 235.3L1143.5 235.4L1145 235.3L1146.5 234.9L1148 235.1L1149.5 235.4L1151 234.5L1152.5 233L1154 234.6L1155.5 233.3L1157 233.5L1158.5 234.7L1160 234.5L1161.5 234.8L1163 234.8L1164.5 234.6L1166 234.1L1167.5 232.8L1169 232.6L1170.5 233.4L1172 234L1173.5 233.5L1175 234.5L1176.5 234.3L1178 233.9L1179.5 233.6L1181 233.8L1182.5 232.7L1184 232.7L1185.5 234.1L1187 233.8L1188.5 233.8L1190 233.7L1191.5 234.7L1193 234.3L1194.5 234.3L1196 231.7L1197.5 232.2L1199 234.6L1200.5 235L1202 234.4L1203.5 235.3L1205 234.6L1206.5 234.6L1208 234.6L1209.5 234.5L1211 234.1L1212.5 234.4L1214 233L1215.5 231.6L1217 232.8L1218.5 233.6L1220 233.8L1221.5 232.2L1223 231.7L1224.5 232.5L1226 233.2L1227.5 232.8L1229 233L1230.5 233.5L1232 232.7L1233.5 233.3L1235 232L1236.5 232.4L1238 232.6L1239.5 231.7L1241 233.1L1242.5 232.5L1244 233.4L1245.5 231.5L1247 232.2L1248.5 233.3L1250 233.4L1251.5 233.2L1253 233.5L1254.5 232.8L1256 233.7L1257.5 233.3L1259 232.9L1260.5 232.5L1262 219.3L1263.5 226L1265 227.6L1266.5 228.7L1268 226.2L1269.5 225.7L1271 227.9L1272.5 229.7L1274 228.1L1275.5 229.5L1277 230.2L1278.5 224.8L1280 226.2L1281.5 226.8L1283 228.4L1284.5 229.2L1286 231.1L1287.5 229.3L1289 232.2L1290.5 231.2L1292 232.5L1293.5 232.8L1295 233.3L1296.5 233.2L1298 232.2L1299.5 232.1L1301 228.9L1302.5 229.5L1304 227L1305.5 228.6L1307 228.5L1308.5 227.6L1310 229.9L1311.5 229.9L1313 228.2L1314.5 229.8L1316 228.5L1317.5 228.5L1319 229.1L1320.5 230.8L1322 229.2L1323.5 230.4L1325 231.7L1326.5 231.1L1328 230.6L1329.5 232.4L1331 231.8L1332.5 231.9L1334 232.3L1335.5 231.8L1337 230.7L1338.5 231.8L1340 231.8L1341.5 230.6L1343 231L1344.5 232.3L1346 231.7L1347.5 232.5L1349 233.2L1350.5 232.7L1352 233.3L1353.5 232.7L1355 233.6L1356.5 233.3L1358 232.3L1359.5 232.5L1361 233.3L1362.5 232.6L1364 233.2L1365.5 233.9L1367 233.9L1368.5 233.8L1370 233.4L1371.5 233L1373 233.5L1374.5 233.3L1376 233.2L1377.5 233.8L1379 233L1380.5 231.7L1382 231L1383.5 232L1385 233.5L1386.5 233.3L1388 233.8L1389.5 232.7L1391 233.1L1392.5 233.6L1394 232.8L1395.5 233.1L1397 233.3L1398.5 233.8L1400 233.7L1401.5 233.4L1403 233.5L1404.5 233.4L1406 232.3L1407.5 233.1L1409 233.3L1410.5 233.9L1412 232.1L1413.5 231.6L1415 233.3L1416.5 233.9L1418 233.4L1419.5 233.1L1421 233.3L1422.5 231.9L1424 231.9L1425.5 232.1L1427 232.4L1428.5 233.9L1430 232.3L1431.5 233L1433 234L1434.5 233.3L1436 231.9L1437.5 232.5L1439 234.1L1440.5 233.8L1442 233.3L1443.5 233.2L1445 233.6L1446.5 232.4L1448 232.4L1449.5 234.3L1451 232.2L1452.5 233.1L1454 233.9L1455.5 233L1457 233.3L1458.5 231.5L1460 230.8L1461.5 233.2L1463 231.1L1464.5 232.6L1466 232.4L1467.5 231.5L1469 232.4L1470.5 232.2L1472 231.6L1473.5 233.1L1475 232.6L1476.5 233.9L1478 234.2L1479.5 234.4L1481 233.8L1482.5 233.6L1484 234L1485.5 234.5L1487 235.1L1488.5 235.5L1490 235.5L1491.5 234.9L1493 235.7L1494.5 235.9L1496 235.9L1497.5 234.3L1499 233.9L1500.5 234.5L1502 234.5L1503.5 233.6L1505 232.9L1506.5 233.7L1508 234.5L1509.5 234.5L1511 234.7L1512.5 232.8L1514 234.1L1515.5 234.6L1517 234.8L1518.5 234.7L1520 234.8L1521.5 234L1523 234.2L1524.5 231.7L1526 232.3L1527.5 232.9L1529 233.5L1530.5 233L1532 232.9L1533.5 232.8L1535 232.9L1536.5 232.8L1538 233.4L1539.5 232.7L1541 233L1542.5 232.6L1544 233.2L1545.5 234.6L1547 234.9L1548.5 233.5L1550 234.2L1551.5 233.4L1553 234.7L1554.5 233.3L1556 233.7L1557.5 233.3L1559 233.5L1560.5 233L1562 232.6L1563.5 233.3L1565 233L1566.5 233.8L1568 233.7L1569.5 234L1571 233.8L1572.5 234.2L1574 234.7L1575.5 233.8L1577 234.3L1578.5 233.8L1580 233.9L1581.5 234.8L1583 234.1L1584.5 234.1L1586 232.9L1587.5 233.5L1589 235.2L1590.5 233.9L1592 234.2L1593.5 235L1595 233.7L1596.5 234.2L1598 235L1599.5 234.5L1601 232.5L1602.5 232.5L1604 234L1605.5 234.5L1607 233.1L1608.5 232.9L1610 233L1611.5 233.1L1613 233L1614.5 232.7L1616 234.1L1617.5 234L1619 234.1L1620.5 234.3L1622 233.6L1623.5 233.8L1625 233.3L1626.5 233.3L1628 233.3L1629.5 233.3L1631 234.9L1632.5 235.1L1634 233.8L1635.5 233.2L1637 235.1L1638.5 236.1L1640 235.8L1641.5 236.2L1643 236L1644.5 235.8L1646 235.9L1647.5 235.2L1649 233.9L1650.5 233.2L1652 233.6L1653.5 234.9L1655 232.4L1656.5 233.1L1658 233.8L1659.5 233.3L1661 233.6L1662.5 234.6L1664 235.4L1665.5 235.4L1667 234.2L1668.5 235.6L1670 235.5L1671.5 234.9L1673 235L1674.5 234.8L1676 233.3L1677.5 233.6L1679 234.8L1680.5 233.4L1682 232.9L1683.5 233.9L1685 234.5L1686.5 234.4L1688 234.4L1689.5 234L1691 234.9L1692.5 235.2L1694 230.2L1695.5 230.9L1697 231.9L1698.5 233.7L1700 233L1701.5 230.5L1703 233.1L1704.5 233.5L1706 233.8L1707.5 234.2L1709 233.4L1710.5 233.6L1712 234.9L1713.5 233.2L1715 234L1716.5 231.9L1718 232.7L1719.5 233.4L1721 232.6L1722.5 232.5L1724 233.5L1725.5 233.5L1727 232.9L1728.5 231.2L1730 230.5L1731.5 231.4L1733 232.3L1734.5 233.5L1736 231.9L1737.5 231.1L1739 231.6L1740.5 232.1L1742 232.1L1743.5 232.1L1745 232.9L1746.5 232.7L1748 233L1749.5 232.8L1751 231.5L1752.5 231.5L1754 232.7L1755.5 233.8L1757 233.8L1758.5 233.8L1760 234.3L1761.5 232.6L1763 231.4L1764.5 232L1766 234.8L1767.5 233.4L1769 235.3L1770.5 235.4L1772 235.9L1773.5 236.2L1775 236.2L1776.5 235.5L1778 234.3L1779.5 235.1L1781 234.6L1781 243.2L1779.5 243.2L1778 244.2L1776.5 244.1L1775 243.9L1773.5 245L1772 244.6L1770.5 244.1L1769 244.3L1767.5 244.7L1766 243.6L1764.5 242.8L1763 243.7L1761.5 243.4L1760 242.7L1758.5 243.5L1757 244.1L1755.5 243.7L1754 243.6L1752.5 244.3L1751 244L1749.5 243.1L1748 242.5L1746.5 242.1L1745 242.9L1743.5 242.9L1742 242.9L1740.5 243.4L1739 242.7L1737.5 242.7L1736 243.6L1734.5 243.1L1733 242.9L1731.5 243.8L1730 244L1728.5 243.1L1727 244.8L1725.5 246.9L1724 246.9L1722.5 246.9L1721 246.1L1719.5 246.8L1718 246.5L1716.5 245.6L1715 246.3L1713.5 246.9L1712 247.7L1710.5 247.8L1709 246.5L1707.5 247.1L1706 245.7L1704.5 246L1703 247.2L1701.5 248.6L1700 246.3L1698.5 246.6L1697 248.2L1695.5 246.6L1694 247L1692.5 243.4L1691 243.6L1689.5 242.5L1688 242.7L1686.5 244.8L1685 244L1683.5 242.8L1682 242.6L1680.5 242.4L1679 242.1L1677.5 242.3L1676 243.6L1674.5 245.1L1673 244.4L1671.5 243.4L1670 243.7L1668.5 243.8L1667 244.4L1665.5 244.5L1664 243.8L1662.5 245L1661 243.2L1659.5 243.3L1658 243.7L1656.5 244.5L1655 243L1653.5 243.5L1652 243.4L1650.5 243.1L1649 243.1L1647.5 242.9L1646 244L1644.5 244.6L1643 243.4L1641.5 245.1L1640 244.2L1638.5 243.7L1637 244L1635.5 243.8L1634 244.4L1632.5 244.5L1631 243.5L1629.5 243.3L1628 243.5L1626.5 242.8L1625 244.2L1623.5 243.3L1622 243L1620.5 243.5L1619 243.6L1617.5 242.3L1616 242.4L1614.5 242.7L1613 243.1L1611.5 242.8L1610 243L1608.5 243.4L1607 242.6L1605.5 242.7L1604 242.3L1602.5 242.9L1601 243L1599.5 243L1598 243.2L1596.5 242.5L1595 244.5L1593.5 245L1592 243.3L1590.5 242.4L1589 242.2L1587.5 242.5L1586 243L1584.5 243.5L1583 242.8L1581.5 242.1L1580 243.1L1578.5 243.8L1577 243.5L1575.5 242.5L1574 242.1L1572.5 242.6L1571 242.1L1569.5 241.4L1568 241.6L1566.5 241.6L1565 241.6L1563.5 242.3L1562 241.1L1560.5 242L1559 242.7L1557.5 243.3L1556 242.3L1554.5 243L1553 244.7L1551.5 242.9L1550 242.4L1548.5 242.8L1547 244L1545.5 243.4L1544 242.8L1542.5 241.9L1541 241.6L1539.5 241.6L1538 241.3L1536.5 241.5L1535 241.2L1533.5 241.5L1532 241.1L1530.5 241.1L1529 242.4L1527.5 243L1526 243L1524.5 243.2L1523 242.8L1521.5 242.3L1520 243.9L1518.5 245.4L1517 244.4L1515.5 243.1L1514 242.5L1512.5 242.9L1511 243L1509.5 242.7L1508 243.2L1506.5 243.8L1505 243.8L1503.5 243.6L1502 244.3L1500.5 243.1L1499 245L1497.5 244.7L1496 244.4L1494.5 244.4L1493 244.9L1491.5 244.1L1490 244.3L1488.5 243.6L1487 242.5L1485.5 243.1L1484 244L1482.5 242.9L1481 242.7L1479.5 244.2L1478 245.5L1476.5 243.8L1475 241.5L1473.5 241.3L1472 241.4L1470.5 241.4L1469 241.4L1467.5 241.3L1466 243.2L1464.5 242.4L1463 241.2L1461.5 241.2L1460 241.5L1458.5 241.9L1457 244.1L1455.5 243.3L1454 241.9L1452.5 242.4L1451 242.7L1449.5 242.8L1448 243.1L1446.5 241.9L1445 242.8L1443.5 242.3L1442 242.6L1440.5 244.1L1439 243.7L1437.5 242.1L1436 242L1434.5 243L1433 242L1431.5 241.3L1430 241.7L1428.5 242.2L1427 243L1425.5 241.9L1424 242.8L1422.5 241.8L1421 242.5L1419.5 242L1418 242.1L1416.5 243.6L1415 244.1L1413.5 242.9L1412 242.4L1410.5 242.8L1409 242.7L1407.5 242.5L1406 241.7L1404.5 241.2L1403 241.5L1401.5 241.9L1400 241.6L1398.5 241.9L1397 242.6L1395.5 242.9L1394 242.9L1392.5 242.9L1391 242.2L1389.5 242.5L1388 242L1386.5 242L1385 243L1383.5 241.9L1382 242.5L1380.5 243.3L1379 244.2L1377.5 243.2L1376 243L1374.5 243.6L1373 243.4L1371.5 243.5L1370 244.3L1368.5 243L1367 243.9L1365.5 242.8L1364 244.6L1362.5 244.5L1361 243.3L1359.5 243.7L1358 243L1356.5 244L1355 243.3L1353.5 242.8L1352 243.2L1350.5 243.4L1349 243.2L1347.5 243.5L1346 242.3L1344.5 242.4L1343 243.7L1341.5 243.6L1340 243.6L1338.5 242.7L1337 243.1L1335.5 243.5L1334 243.4L1332.5 244.6L1331 243.4L1329.5 245.2L1328 244.3L1326.5 243.2L1325 244.3L1323.5 246.1L1322 245.7L1320.5 243.1L1319 244.7L1317.5 245.1L1316 244.8L1314.5 243.9L1313 244.5L1311.5 245.8L1310 245L1308.5 247L1307 247.2L1305.5 245.9L1304 246.3L1302.5 247.9L1301 246.3L1299.5 245.9L1298 245.3L1296.5 246L1295 245.4L1293.5 246L1292 248.9L1290.5 249L1289 249.2L1287.5 249.1L1286 248.3L1284.5 249.4L1283 249L1281.5 251.4L1280 249.8L1278.5 251.2L1277 244.8L1275.5 245.2L1274 244.6L1272.5 245.5L1271 246.3L1269.5 245.9L1268 248.6L1266.5 250L1265 251.1L1263.5 247.8L1262 248.7L1260.5 243.7L1259 242.8L1257.5 240.9L1256 241.9L1254.5 241.5L1253 240.9L1251.5 241.4L1250 242.3L1248.5 242.3L1247 241.4L1245.5 241.7L1244 240.4L1242.5 240.9L1241 242.1L1239.5 242L1238 241.1L1236.5 240.7L1235 241.4L1233.5 242.1L1232 242L1230.5 240.8L1229 241.9L1227.5 240.4L1226 240.8L1224.5 240.9L1223 241.6L1221.5 242L1220 241.6L1218.5 242.1L1217 242.8L1215.5 243L1214 243L1212.5 242.3L1211 242.7L1209.5 243L1208 242.9L1206.5 243.1L1205 244.2L1203.5 243.8L1202 243.2L1200.5 243.5L1199 243.6L1197.5 243.8L1196 243.6L1194.5 243.1L1193 243.1L1191.5 242L1190 241.8L1188.5 241.5L1187 242L1185.5 242.6L1184 242.9L1182.5 241.9L1181 241.9L1179.5 242L1178 242.5L1176.5 242.2L1175 243.4L1173.5 242.7L1172 243.1L1170.5 242.8L1169 242.5L1167.5 242.5L1166 242.5L1164.5 242L1163 242.7L1161.5 242.2L1160 244.5L1158.5 244.6L1157 244.1L1155.5 242.7L1154 242.3L1152.5 243.5L1151 243.3L1149.5 242.5L1148 243L1146.5 244.2L1145 244.1L1143.5 243.1L1142 243.1L1140.5 244.1L1139 244L1137.5 242.7L1136 242.2L1134.5 242.8L1133 242.4L1131.5 244.2L1130 244.6L1128.5 242.3L1127 242L1125.5 241.9L1124 242.9L1122.5 241.5L1121 243L1119.5 243.4L1118 243.8L1116.5 243L1115 244L1113.5 243.5L1112 244L1110.5 244.9L1109 244.2L1107.5 244L1106 243.9L1104.5 243.7L1103 244.1L1101.5 243.4L1100 244.6L1098.5 245.9L1097 244.3L1095.5 244.4L1094 244.8L1092.5 244.3L1091 243L1089.5 242.8L1088 243.6L1086.5 243L1085 244.1L1083.5 244.6L1082 244.4L1080.5 244.4L1079 244.5L1077.5 243.3L1076 245.4L1074.5 244.5L1073 243.1L1071.5 242.6L1070 242.3L1068.5 242L1067 242.9L1065.5 242.6L1064 241.6L1062.5 242.4L1061 243.3L1059.5 242.6L1058 242L1056.5 241L1055 241L1053.5 241.9L1052 241.9L1050.5 242.8L1049 243.4L1047.5 241.7L1046 243.3L1044.5 244.3L1043 243L1041.5 242.7L1040 241.2L1038.5 242.5L1037 241L1035.5 241.1L1034 241.3L1032.5 241.1L1031 241.6L1029.5 241.6L1028 242L1026.5 241.4L1025 242.3L1023.5 242.6L1022 243.4L1020.5 242.8L1019 243.8L1017.5 242.6L1016 242.7L1014.5 242.1L1013 242.3L1011.5 243.1L1010 241.7L1008.5 241.6L1007 241L1005.5 242.3L1004 242.7L1002.5 240.6L1001 242.7L999.5 243.8L998 240.9L996.5 240.7L995 240.1L993.5 241.5L992 242.5L990.5 242.1L989 241.7L987.5 241.3L986 241.1L984.5 240.8L983 241.2L981.5 241.5L980 241.6L978.5 242L977 242.3L975.5 242.3L974 243.1L972.5 242.2L971 242.7L969.5 242.6L968 242L966.5 242.5L965 242L963.5 243.2L962 242.6L960.5 242.2L959 243.4L957.5 242.8L956 242L954.5 242.8L953 244.1L951.5 242.9L950 242.4L948.5 243.5L947 242.5L945.5 244.3L944 244L942.5 242.9L941 243.6L939.5 242.8L938 243.7L936.5 244L935 243.2L933.5 243L932 243.3L930.5 243.6L929 244.2L927.5 245.3L926 242.2L924.5 242.5L923 243L921.5 242.9L920 242.4L918.5 242.2L917 240.9L915.5 241.4L914 241.3L912.5 241.6L911 241.4L909.5 241.1L908 241.5L906.5 240.7L905 241.5L903.5 242.9L902 242.2L900.5 241.7L899 241.3L897.5 241.6L896 242.5L894.5 244.2L893 244.2L891.5 244.2L890 243.3L888.5 242.9L887 242.8L885.5 243.1L884 244L882.5 243.2L881 242.9L879.5 244.3L878 244.4L876.5 241.9L875 243.4L873.5 242.9L872 241.6L870.5 240.9L869 241.5L867.5 240.9L866 239.8L864.5 241.4L863 240L861.5 240.3L860 239.8L858.5 239.9L857 239.8L855.5 239.7L854 239.9L852.5 240.4L851 240.9L849.5 240.7L848 241.1L846.5 241.2L845 241.5L843.5 242.4L842 243.9L840.5 242L839 242.6L837.5 242.8L836 243.1L834.5 242.9L833 242.4L831.5 242.7L830 243.2L828.5 243.7L827 244.1L825.5 243L824 243L822.5 243.1L821 242.9L819.5 243.6L818 242.3L816.5 242.1L815 242.9L813.5 242.5L812 241.2L810.5 241.7L809 241.5L807.5 240.7L806 240.5L804.5 240.1L803 240.5L801.5 241.6L800 241.9L798.5 240.9L797 243.4L795.5 242.4L794 242.2L792.5 242.8L791 242.2L789.5 242.2L788 242.9L786.5 243L785 243L783.5 244.4L782 243.3L780.5 241.6L779 241.8L777.5 243L776 241.7L774.5 241.9L773 242.7L771.5 244L770 243.4L768.5 242L767 241.2L765.5 241.1L764 241.7L762.5 241.1L761 242.5L759.5 243L758 244L756.5 244.2L755 243.5L753.5 243.5L752 243.3L750.5 243L749 243.9L747.5 242.5L746 242.9L744.5 243.7L743 242.9L741.5 241.5L740 242.3L738.5 241.2L737 241.1L735.5 240.6L734 241.1L732.5 240.7L731 241.2L729.5 241.7L728 241.2L726.5 241.1L725 241.1L723.5 241.1L722 241.4L720.5 241.7L719 241.3L717.5 242.4L716 241.8L714.5 242.2L713 242.2L711.5 242L710 241.7L708.5 241.6L707 242.7L705.5 241.9L704 242.4L702.5 242.2L701 243.5L699.5 243.5L698 242.2L696.5 242.3L695 241.4L693.5 242.1L692 242.3L690.5 241.9L689 243.1L687.5 242.9L686 241.8L684.5 242.4L683 241.8L681.5 243.2L680 243.2L678.5 242.5L677 243.3L675.5 243.3L674 243.2L672.5 242.7L671 244.7L669.5 245.7L668 246.1L666.5 245.5L665 244.5L663.5 243.7L662 242.6L660.5 243.6L659 242.7L657.5 241.7L656 241L654.5 240.9L653 241.7L651.5 241.5L650 240.5L648.5 240L647 240.5L645.5 241.8L644 241.1L642.5 241.8L641 242.3L639.5 243.4L638 243.9L636.5 243.8L635 242.4L633.5 242.8L632 243.2L630.5 242.9L629 243.8L627.5 243.8L626 242.7L624.5 243.3L623 242.8L621.5 243.4L620 242.4L618.5 242.1L617 244.2L615.5 244.3L614 242.7L612.5 243.1L611 242.5L609.5 243.9L608 244L606.5 242.5L605 241.8L603.5 242.3L602 243.9L600.5 244.5L599 243.5L597.5 242.3L596 242.7L594.5 243.1L593 244.6L591.5 244.2L590 242.4L588.5 243.2L587 242L585.5 242.2L584 243L582.5 243.3L581 242.9L579.5 242.7L578 242.8L576.5 243.3L575 244.5L573.5 243.2L572 242.4L570.5 242.5L569 243.1L567.5 243.3L566 242.2L564.5 243.2L563 243.8L561.5 244L560 242.7L558.5 242L557 243.1L555.5 243L554 242.4L552.5 242.2L551 241.6L549.5 241.6L548 242.3L546.5 242.1L545 241.4L543.5 243.3L542 244.9L540.5 242.6L539 243.2L537.5 244L536 242.8L534.5 242.5L533 242.3L531.5 241L530 241.4L528.5 242.1L527 243.5L525.5 242.7L524 241.6L522.5 241.3L521 241.8L519.5 241.7L518 242.6L516.5 243.7L515 243.1L513.5 241.8L512 242.6L510.5 242.6L509 243.1L507.5 242L506 241.5L504.5 242.6L503 242.8L501.5 241.9L500 241.7L498.5 242.1L497 243L495.5 242.6L494 242.3L492.5 242.5L491 242.1L489.5 242.1L488 242.8L486.5 242.4L485 242.1L483.5 243.7L482 244.8L480.5 242.6L479 242.5L477.5 241.8L476 242L474.5 244.6L473 245.7L471.5 244.1L470 243.9L468.5 244.5L467 243.6L465.5 242.9L464 243.4L462.5 244.5L461 242.7L459.5 244.2L458 243.8L456.5 243.9L455 243.1L453.5 242.7L452 242.4L450.5 240.9L449 241.5L447.5 241.1L446 239.6L444.5 240.1L443 240.2L441.5 240.2L440 239.7L438.5 240L437 239.5L435.5 240.5L434 240L432.5 240L431 239.9L429.5 240.5L428 241.4L426.5 242.2L425 241.4L423.5 241.4L422 242.5L420.5 242.6L419 242.1L417.5 243.1L416 243L414.5 243.4L413 243.1L411.5 244L410 245L408.5 243.5L407 242.2L405.5 243.2L404 242.3L402.5 243.6L401 244.8L399.5 244.2L398 242.8L396.5 242.8L395 242.7L393.5 242.2L392 243.5L390.5 243.3L389 245.1L387.5 245.5L386 243.4L384.5 242.5L383 242.9L381.5 242.4L380 242.6L378.5 242.4L377 242.8L375.5 243.4L374 242.3L372.5 243.7L371 242.9L369.5 244.5L368 244.9L366.5 244.5L365 245.4L363.5 245.9L362 244.5L360.5 242.9L359 243.6L357.5 243.5L356 243.9L354.5 244.2L353 243.5L351.5 242.7L350 243L348.5 244L347 242.5L345.5 243.2L344 243.1L342.5 243.2L341 243.3L339.5 243.4L338 243.3L336.5 243.2L335 243.1L333.5 242.9L332 242.8L330.5 243.6L329 241.8L327.5 241L326 242.8L324.5 243.1L323 243.2L321.5 241.8L320 240.8L318.5 241.3L317 242.4L315.5 241.2L314 241.6L312.5 242.8L311 242.9L309.5 242.1L308 242.2L306.5 243.2L305 242.2L303.5 242.9L302 243.8L300.5 243.5L299 243.1L297.5 243.1L296 242.1L294.5 242.3L293 243L291.5 242.6L290 242.2L288.5 242.5L287 241.6L285.5 242.4L284 243.5L282.5 241.7L281 243.4L279.5 242.6L278 241.4L276.5 241.2L275 241.7L273.5 241.5L272 241.1L270.5 241.1L269 242.7L267.5 242.1L266 242L264.5 244.1L263 244.3L261.5 244.5L260 245.2L258.5 246.8L257 243.7Z" fill="#2a68b6" stroke="#2a68b6" stroke-width="0.8" stroke-linejoin="round"/>
<path d="M263.5 226.9V243.1M286.9 228.7V247.7M295 231.9V243.1M325.9 225.2V243.1M334 229.9V243.1M337.9 226.9V243.1M371 230.9V244.1M383 232.9V243.1M571 232.5V242.5M586.5 230.9V244.1M609.4 233.9V244.1M669.2 229.6V243.1M732.8 231.3V242.1M751.8 228.3V243.1M794.6 227.3V246M833 232.9V243.6M841 231.9V243.1M859.3 231.9V243.1M891.8 227.8V244.1M903 231.9V242.1M908 227.9V243.1M945.8 232.9V243.1M964.6 230.8V244.1M978 232.9V246M983 230.4V243.1M1027.9 230.9V243.1M1093.4 232.9V243.1M1101 233.9V243.1M1108.3 229.9V243.1M1129.4 227.9V244.1M1135 230.9V244.1M1132 231.9V243.1M1156 232.9V244.1M1180 231.9V244.1M1319 226.6V246.6M1312 230.9V245.1M1326 229.9V245.1M1343 230.9V245.1M1355.8 230.9V244.1M1366 232.9V245.1M1396 231.9V247.1M1459.4 230.3V246M1485.2 233.9V243.8M1534 232.9V243.1M1561 231.9V245.1M1567.4 226.7V246M1572 232.9V246.1M1579.5 230.9V244.1M1602 231.9V242.1M1686 232.9V245.1M1704 231.9V248.1M1709 230.9V248.1M1714.2 224.6V249.1M1719.8 231.9V249.6M1732 228.4V244.1M1739 232.9V244.1M1752 232.9V246.1" stroke="#2a68b6" stroke-width="4.2" stroke-linecap="round" fill="none"/>
<path d="M258 210.5V238.2M260 238.2V267" stroke="#2a68b6" stroke-width="5.0" stroke-linecap="round" fill="none"/>
<path d="M419 213.5V238.2M420 238.2V263.8" stroke="#2a68b6" stroke-width="5.0" stroke-linecap="round" fill="none"/>
<path d="M583 215.5V238.2M584 238.2V248.9" stroke="#2a68b6" stroke-width="5.0" stroke-linecap="round" fill="none"/>
<path d="M653 196.5V238.2M654.3 238.2V263.8" stroke="#2a68b6" stroke-width="5.0" stroke-linecap="round" fill="none"/>
<path d="M925.5 212.8V238.2M926 238.2V251.2" stroke="#2a68b6" stroke-width="5.5" stroke-linecap="round" fill="none"/>
<path d="M930.5 223.8V238.2M930.5 238.2V251.8" stroke="#2a68b6" stroke-width="4.5" stroke-linecap="round" fill="none"/>
<path d="M1122.3 203.5V238.2M1122.6 238.2V253.8" stroke="#2a68b6" stroke-width="5.0" stroke-linecap="round" fill="none"/>
<path d="M1163.2 188.5V238.2M1163.2 238.2V263.5" stroke="#2a68b6" stroke-width="5.0" stroke-linecap="round" fill="none"/>
<path d="M1174 218.1V238.2M1171.5 238.2V249.9" stroke="#2a68b6" stroke-width="4.2" stroke-linecap="round" fill="none"/>
<path d="M1259.6 45.3V238.2M1260.3 238.2V327.7" stroke="#2a68b6" stroke-width="6.6" stroke-linecap="round" fill="none"/>
<path d="M1270 212.4V238.2M1270 238.2V310.9" stroke="#2a68b6" stroke-width="5.2" stroke-linecap="round" fill="none"/>
<path d="M1303.6 218.5V238.2M1302.5 238.2V253" stroke="#2a68b6" stroke-width="5.0" stroke-linecap="round" fill="none"/>
<path d="M1334 198.8V238.2M1335.5 238.2V270.2" stroke="#2a68b6" stroke-width="5.5" stroke-linecap="round" fill="none"/>
<path d="M1389 206.5V238.2M1390 238.2V246.9" stroke="#2a68b6" stroke-width="5.0" stroke-linecap="round" fill="none"/>
<path d="M1393 234V238.2M1393 238.2V248.5" stroke="#2a68b6" stroke-width="4.0" stroke-linecap="round" fill="none"/>
<path d="M1513 218.5V238.2M1513.3 238.2V246.5" stroke="#2a68b6" stroke-width="5.0" stroke-linecap="round" fill="none"/>
<path d="M1555.6 220.5V238.2M1555 238.2V244.3" stroke="#2a68b6" stroke-width="5.0" stroke-linecap="round" fill="none"/>
<path d="M1690.5 218.8V238.2M1691.5 238.2V253.4" stroke="#2a68b6" stroke-width="5.5" stroke-linecap="round" fill="none"/>
<path d="M1694 228V238.2M1694.5 238.2V254.5" stroke="#2a68b6" stroke-width="4.0" stroke-linecap="round" fill="none"/>
<path d="M1699.4 164.6V238.2M1699.6 238.2V261" stroke="#2a68b6" stroke-width="5.2" stroke-linecap="round" fill="none"/>
<path d="M1745.9 204.5V238.2M1748.4 238.2V259" stroke="#2a68b6" stroke-width="5.0" stroke-linecap="round" fill="none"/>
<path d="M1779.5 226.8V238.2M1779.5 238.2V244" stroke="#2a68b6" stroke-width="4.0" stroke-linecap="round" fill="none"/>
<path d="M258 1593.7L330.7 1593.4L357.9 1593L444.1 1593.4L489.4 1594.3L534.8 1593.4L580.1 1594.1L640 1594.1L660.4 1594.1L674 1593.7L683.1 1592.3L688.8 1588.9L694.4 1582.8L701.2 1573.7L708 1567.6L714.8 1567.6L722.1 1568.7L729.6 1565.8L739.8 1561.7L748.8 1560.1L762.4 1561.2L773.8 1563.9L789.7 1563.9L798.7 1566.2L806.7 1569.8L814.6 1573.7L823.7 1576L832.7 1579.4L841.8 1582.3L853.2 1585L866.8 1587.1L878.1 1588.4L884.9 1591.4L894 1595.2L905.3 1597.1L914.4 1599.8L922.3 1603.2L928 1603.9L937.1 1602.7L948.4 1602.7L957.5 1606.6L966.5 1610L980.1 1614.5L993.7 1616.8L1007.3 1619L1023.2 1619.3L1040 1618.6L1055.9 1620.9L1069.5 1621.3L1085.4 1623.1L1096.7 1623.1L1114.8 1622L1139.8 1621.3L1162.4 1619L1185.1 1616.8L1198.7 1616.8L1210.1 1615.2L1237.3 1613.4L1253.2 1611.1L1271.3 1609.3L1289.4 1605.4L1303 1603.2L1318.9 1599.8L1330.2 1595.2L1337.1 1591.4L1340 1591.2L1347.8 1588.6L1355.6 1583.9L1363.5 1578.1L1370 1571.6L1375.2 1563.8L1378.3 1557.3L1380.4 1544.3L1383.8 1520.8L1385.6 1497.3L1386.9 1466L1388.2 1424.3L1389.5 1398.2L1390.8 1373.5L1394.2 1365.6L1396.6 1360.4L1397.9 1361.2L1398.7 1385.2L1399.5 1424.3L1400.5 1455.6L1401.5 1489.5L1403.4 1526L1406 1541.6L1409.9 1556.8L1413 1553.4L1416.9 1549.5L1422.1 1554.7L1427.4 1562.5L1430.7 1569L1433.4 1586L1437 1610.7L1443 1609.4L1450 1610.2L1453.4 1632.9L1457.3 1655.6L1460.5 1643.3L1464.6 1626.4L1467.8 1596.4L1469.9 1572.4L1475.6 1580.8L1482.1 1584.7L1489.9 1578.1L1496.5 1586L1503 1597.7L1509.5 1588.6L1516.8 1581.5L1519.9 1593.8L1525.1 1614.7L1529.6 1629L1534.3 1617.3L1536.9 1610.7L1542.1 1606.8L1548.6 1607.4L1552.5 1596.4L1555.9 1588.1L1561.6 1597.7L1569.5 1608.7L1576 1603.7L1583 1597.2L1587.7 1583.4L1590.3 1580L1596.8 1579.7L1603.4 1587.3L1609.9 1601.6L1615.9 1617.3L1622.1 1608.1L1628.1 1580.8L1632 1562.5L1635.2 1551.6L1638.6 1561.2L1642.5 1572.9L1645.6 1588.6L1649 1603.7L1655.5 1604.7L1661.3 1606L1668.6 1599L1675.1 1598.5L1678.2 1606.8L1681.6 1614.7L1688.9 1614.7L1695.1 1607.6L1701.1 1608.9L1707.7 1599L1714.2 1591.2L1722 1593.8L1728.5 1591.7L1734.3 1589.1L1741.6 1595.1L1748.1 1601.1L1753.3 1600.3L1760.3 1596.4L1767.6 1602.1L1774.9 1608.1" fill="none" stroke="#2a68b6" stroke-width="5.1" stroke-linejoin="round" stroke-linecap="butt"/>
<path d="M258.3 2184.6L393.3 2184.6L740 2148.1L763.6 2146.3L784.2 2148.1L813.7 2151.6L843.2 2155.2L872.7 2161.1L896.2 2167L911 2170.2L946.4 2172.9L975.8 2177.3L1005.3 2178.2L1034.8 2178.8L1064.3 2181.7L1093.8 2187L1123.3 2192.9L1152.7 2198.2L1167.5 2200.3L1240 2207L1271.7 2210.8L1303.5 2216.5L1328.9 2221L1341.6 2219.7L1367 2223.5L1398.7 2229.8L1430.5 2233.7L1462.2 2234.6L1494 2236.2L1525.7 2236.8L1557.5 2236.2L1589.2 2235.6L1621 2235.6L1652.7 2236.8L1684.4 2238.7L1716.2 2240L1747.9 2242.5L1781.6 2245.7L1781.2 2284.3L1780.2 2286L1779.2 2289.6L1778.2 2282.7L1777.2 2290.6L1776.2 2287.6L1775.2 2283.9L1774.2 2292.5L1773.2 2283.1L1772.2 2284.9L1771.2 2290L1770.2 2283.1L1769.2 2288.6L1768.2 2284.8L1767.2 2283.1L1766.2 2293.4L1765.2 2283.1L1764.2 2283.5L1763.2 2287.1L1762.2 2282.6L1761.2 2286.7L1760.2 2284.9L1759.2 2282.3L1758.2 2290.3L1757.2 2280.7L1756.2 2282.9L1755.2 2288.1L1754.2 2281.9L1753.2 2286.5L1752.2 2284.8L1751.2 2280.7L1750.2 2289.3L1749.2 2281.3L1748.2 2282.5L1747.2 2286.7L1746.2 2280.8L1745.2 2285.1L1744.2 2283.9L1743.2 2280.7L1742.2 2288.8L1741.2 2280.7L1740.2 2281.3L1739.2 2287.4L1738.2 2277.6L1737.2 2285.4L1736.2 2281.6L1735.2 2279.6L1734.2 2289.2L1733.2 2278.6L1732.2 2280.7L1731.2 2286.3L1730.2 2277.2L1729.2 2284.6L1728.2 2281.2L1727.2 2277.1L1726.2 2288.1L1725.2 2279.2L1724.2 2278.5L1723.2 2283.5L1722.2 2277.7L1721.2 2283.1L1720.2 2280.8L1719.2 2276.5L1718.2 2286L1717.2 2276.3L1716.2 2278.7L1715.2 2283.2L1714.2 2276.6L1713.2 2282L1712.2 2278.5L1711.2 2275.7L1710.2 2284.6L1709.2 2275.9L1708.2 2278.1L1707.2 2281.6L1706.2 2276.1L1705.2 2282.2L1704.2 2278L1703.2 2274.8L1702.2 2284.5L1701.2 2275.2L1700.2 2278.9L1699.2 2280.9L1698.2 2273.5L1697.2 2279.9L1696.2 2277.3L1695.2 2274.6L1694.2 2284.8L1693.2 2274.8L1692.2 2276.9L1691.2 2281.4L1690.2 2273.7L1689.2 2279.8L1688.2 2278L1687.2 2274.2L1686.2 2283.5L1685.2 2274.2L1684.2 2276.6L1683.2 2278.9L1682.2 2273.9L1681.2 2280.5L1680.2 2276.3L1679.2 2275.3L1678.2 2283.7L1677.2 2274.9L1676.2 2275.4L1675.2 2278.4L1674.2 2273.2L1673.2 2278.7L1672.2 2276.2L1671.2 2272.5L1670.2 2283.3L1669.2 2274.6L1668.2 2275L1667.2 2280.7L1666.2 2273.5L1665.2 2277.7L1664.2 2274.7L1663.2 2272.6L1662.2 2281.8L1661.2 2272L1660.2 2275L1659.2 2280L1658.2 2272.4L1657.2 2277.7L1656.2 2275.9L1655.2 2272.5L1654.2 2282.7L1653.2 2273.7L1652.2 2275.6L1651.2 2279.4L1650.2 2271.5L1649.2 2277.4L1648.2 2274.7L1647.2 2272.1L1646.2 2281.6L1645.2 2274.3L1644.2 2275L1643.2 2278.6L1642.2 2271L1641.2 2278.4L1640.2 2275.6L1639.2 2272.3L1638.2 2280.3L1637.2 2272.5L1636.2 2274.6L1635.2 2279.7L1634.2 2272.3L1633.2 2277.2L1632.2 2274.3L1631.2 2269.7L1630.2 2280.5L1629.2 2272.1L1628.2 2273.4L1627.2 2277.3L1626.2 2271.4L1625.2 2276.5L1624.2 2273.4L1623.2 2270.5L1622.2 2280.5L1621.2 2270.3L1620.2 2273.7L1619.2 2276.7L1618.2 2269.9L1617.2 2275.7L1616.2 2275.2L1615.2 2271.7L1614.2 2280.1L1613.2 2272.4L1612.2 2272.5L1611.2 2278.8L1610.2 2271L1609.2 2277.7L1608.2 2274.1L1607.2 2272.8L1606.2 2280.1L1605.2 2272.5L1604.2 2273.5L1603.2 2278L1602.2 2271L1601.2 2276.2L1600.2 2275.7L1599.2 2271.8L1598.2 2281L1597.2 2271.8L1596.2 2272.9L1595.2 2276.3L1594.2 2271.5L1593.2 2277.1L1592.2 2275.3L1591.2 2272L1590.2 2281.1L1589.2 2271.5L1588.2 2273.9L1587.2 2278.2L1586.2 2269L1585.2 2277.4L1584.2 2273.5L1583.2 2273.1L1582.2 2282.2L1581.2 2273.1L1580.2 2272.3L1579.2 2278.2L1578.2 2270.8L1577.2 2277.6L1576.2 2274.5L1575.2 2272L1574.2 2279.5L1573.2 2272.1L1572.2 2275.8L1571.2 2278.5L1570.2 2270.5L1569.2 2278.1L1568.2 2275.6L1567.2 2272.3L1566.2 2281.9L1565.2 2272.4L1564.2 2272.5L1563.2 2277.2L1562.2 2272.5L1561.2 2279L1560.2 2274.4L1559.2 2274.9L1558.2 2278.3L1557.2 2271.8L1556.2 2276.9L1555.2 2274L1554.2 2272.2L1553.2 2277.7L1552.2 2272L1551.2 2280.7L1550.2 2272.6L1549.2 2277.6L1548.2 2275.3L1547.2 2273.9L1546.2 2276.9L1545.2 2272.7L1544.2 2278.2L1543.2 2271.4L1542.2 2283.1L1541.2 2271.6L1540.2 2279L1539.2 2271.7L1538.2 2279L1537.2 2274.3L1536.2 2276.2L1535.2 2273.9L1534.2 2275.2L1533.2 2273L1532.2 2275.3L1531.2 2273.6L1530.2 2275.3L1529.2 2275.5L1528.2 2277.6L1527.2 2273.9L1526.2 2277.4L1525.2 2273L1524.2 2280.4L1523.2 2274.2L1522.2 2279.4L1521.2 2272.9L1520.2 2282L1519.2 2272.6L1518.2 2279.2L1517.2 2273.1L1516.2 2275.7L1515.2 2275.3L1514.2 2274.9L1513.2 2277.6L1512.2 2273.5L1511.2 2281.8L1510.2 2271.8L1509.2 2280.6L1508.2 2272.6L1507.2 2276.1L1506.2 2277L1505.2 2272.2L1504.2 2282.1L1503.2 2273L1502.2 2279.1L1501.2 2274.6L1500.2 2275.4L1499.2 2279.3L1498.2 2273.2L1497.2 2281.3L1496.2 2274.1L1495.2 2273.8L1494.2 2279.7L1493.2 2272.1L1492.2 2278.2L1491.2 2275.2L1490.2 2271.5L1489.2 2283.4L1488.2 2273.5L1487.2 2276.2L1486.2 2280.2L1485.2 2273.1L1484.2 2279.3L1483.2 2276.9L1482.2 2273.4L1481.2 2280.9L1480.2 2276.4L1479.2 2273.4L1478.2 2280.6L1477.2 2273.6L1476.2 2273.9L1475.2 2280.6L1474.2 2273.3L1473.2 2277L1472.2 2280L1471.2 2272.7L1470.2 2275.3L1469.2 2280.5L1468.2 2272.7L1467.2 2275L1466.2 2280.1L1465.2 2271L1464.2 2275.3L1463.2 2280.9L1462.2 2274.9L1461.2 2272.7L1460.2 2279.8L1459.2 2274.3L1458.2 2272.3L1457.2 2278.1L1456.2 2276.4L1455.2 2273.1L1454.2 2275.7L1453.2 2278.6L1452.2 2274.5L1451.2 2273.1L1450.2 2281.5L1449.2 2274.2L1448.2 2271.9L1447.2 2276.7L1446.2 2277.8L1445.2 2273.5L1444.2 2274.5L1443.2 2280.2L1442.2 2275.4L1441.2 2272.1L1440.2 2275.3L1439.2 2279.1L1438.2 2272.9L1437.2 2272.3L1436.2 2277.8L1435.2 2279.1L1434.2 2271.9L1433.2 2273.1L1432.2 2278.1L1431.2 2276.3L1430.2 2271L1429.2 2272.5L1428.2 2277.7L1427.2 2276.4L1426.2 2272.1L1425.2 2271.8L1424.2 2276.8L1423.2 2274.2L1422.2 2271.6L1421.2 2271.6L1420.2 2277L1419.2 2277.9L1418.2 2272.4L1417.2 2272.1L1416.2 2274.6L1415.2 2276.9L1414.2 2271.4L1413.2 2270.6L1412.2 2272.3L1411.2 2277.4L1410.2 2273.7L1409.2 2271.4L1408.2 2271.2L1407.2 2273.7L1406.2 2277.9L1405.2 2270.8L1404.2 2269.9L1403.2 2273.7L1402.2 2274.9L1401.2 2274.5L1400.2 2270.8L1399.2 2269.1L1398.2 2272.8L1397.2 2276.4L1396.2 2273.5L1395.2 2269.4L1394.2 2269.7L1393.2 2271.7L1392.2 2276.2L1391.2 2272L1390.2 2270.4L1389.2 2268.1L1388.2 2271.3L1387.2 2275.6L1386.2 2273.2L1385.2 2270L1384.2 2268.8L1383.2 2269L1382.2 2274L1381.2 2274.4L1380.2 2270.3L1379.2 2267.3L1378.2 2266.8L1377.2 2270.1L1376.2 2275.1L1375.2 2271.5L1374.2 2268.2L1373.2 2267.7L1372.2 2267.7L1371.2 2271.7L1370.2 2275.9L1369.2 2270.3L1368.2 2267L1367.2 2266.1L1366.2 2268L1365.2 2270.5L1364.2 2273.8L1363.2 2269.9L1362.2 2265.6L1361.2 2265.3L1360.2 2267.1L1359.2 2268.7L1358.2 2273.7L1357.2 2269.2L1356.2 2267.2L1355.2 2266L1354.2 2265.8L1353.2 2266.7L1352.2 2270.7L1351.2 2270.5L1350.2 2267.3L1349.2 2264.8L1348.2 2264.6L1347.2 2265.5L1346.2 2266.5L1345.2 2269.6L1344.2 2269.3L1343.2 2267.2L1342.2 2264.6L1341.2 2263.4L1340.2 2263.1L1339.2 2266.8L1338.2 2270.6L1337.2 2268.5L1336.2 2265.1L1335.2 2264.1L1334.2 2262.6L1333.2 2262.6L1332.2 2264.8L1331.2 2266.1L1330.2 2269.1L1329.2 2266.1L1328.2 2263.3L1327.2 2260.3L1326.2 2261.5L1325.2 2262.8L1324.2 2265.5L1323.2 2267L1322.2 2267.8L1321.2 2266.2L1320.2 2263.7L1319.2 2261L1318.2 2262.8L1317.2 2261.1L1316.2 2263.8L1315.2 2266.2L1314.2 2268.7L1313.2 2266.4L1312.2 2265.1L1311.2 2261.9L1310.2 2261.9L1309.2 2260.4L1308.2 2263.7L1307.2 2264L1306.2 2264.9L1305.2 2267.4L1304.2 2265L1303.2 2262.3L1302.2 2262.8L1301.2 2260.4L1300.2 2261.6L1299.2 2262.1L1298.2 2261.1L1297.2 2263.9L1296.2 2265L1295.2 2265.5L1294.2 2261.9L1293.2 2262.3L1292.2 2260.9L1291.2 2260.4L1290.2 2260.5L1289.2 2261.4L1288.2 2261.8L1287.2 2261.9L1286.2 2265.6L1285.2 2263L1284.2 2261.4L1283.2 2259.8L1282.2 2257.8L1281.2 2258.4L1280.2 2259.2L1279.2 2258L1278.2 2260.2L1277.2 2262.6L1276.2 2262.5L1275.2 2263.2L1274.2 2260.2L1273.2 2259.8L1272.2 2258.5L1271.2 2257.1L1270.2 2259.2L1269.2 2258.1L1268.2 2257.8L1267.2 2258.2L1266.2 2259.9L1265.2 2261.9L1264.2 2262.4L1263.2 2260.7L1262.2 2260.1L1261.2 2259.6L1260.2 2257.1L1259.2 2255.5L1258.2 2255.2L1257.2 2256.9L1256.2 2255.2L1255.2 2256.8L1254.2 2257.9L1253.2 2259.4L1252.2 2262.1L1251.2 2261.3L1250.2 2259.8L1249.2 2256.6L1248.2 2256L1247.2 2255.4L1246.2 2254.3L1245.2 2254.4L1244.2 2254.2L1243.2 2254.6L1242.2 2253.9L1241.2 2256.3L1240.2 2257.6L1239.2 2259.9L1238.2 2254.8L1229.4 2260.1L1220.5 2253.9L1213.2 2258.3L1207.3 2253.3L1199.9 2251.9L1191.1 2257.2L1182.2 2250.4L1176.3 2249.8L1167.5 2253.3L1158.6 2246.6L1149.8 2246L1142.4 2251.9L1132.1 2243.6L1123.3 2243.6L1114.4 2249.5L1108.5 2243L1099.7 2238.6L1087.9 2240.1L1079 2244.5L1070.2 2238.6L1058.4 2235.6L1046.6 2236.2L1037.8 2240.1L1026 2234.2L1014.2 2230.6L996.5 2229.8L981.7 2231.8L964.1 2227.7L946.4 2225.9L922.8 2225.9L911 2227.7L896.2 2222.4L881.5 2215L857.9 2210L828.4 2207.1L799 2207.1L769.5 2210L740 2212.9L400.7 2248.9L258.3 2248.9Z" fill="#8a8a8a" fill-opacity="0.316"/>
<path d="M258.3 2032.2L400.7 2032.2L740 1996.9L769.5 1993L799 1988L828.4 1983L857.9 1979.2L887.4 1974.7L902.1 1973.9L931.6 1974.7L961.1 1976.2L975.8 1978.3L1005.3 1980L1034.8 1983L1064.3 1988L1093.8 1992.4L1123.3 1997.7L1152.7 2001.9L1167.5 2003.6L1240 2021L1271.7 2027.3L1303.5 2035.6L1328.9 2039.4L1351.1 2037.1L1367 2036.2L1389.2 2038.7L1405.1 2043.2L1424.1 2049.8L1446.3 2051.4L1462.2 2054.6L1487.6 2061.6L1509.8 2067.3L1532.1 2071.7L1551.1 2072.7L1573.3 2078.1L1586 2088.6L1598.7 2093.3L1614.6 2098.1L1630.5 2099.7L1649.5 2102.9L1665.4 2106.7L1678.1 2114L1687.6 2133L1700.3 2138.4L1713 2129.8L1721 2121.9L1725.7 2120.3L1732.1 2133L1741.6 2156.8L1754.3 2179L1767 2187L1781.6 2196.5L1781.6 2250.5L1760.6 2247.3L1751.1 2239.4L1741.6 2223.5L1732.1 2207.6L1724.1 2200.3L1719.4 2202.9L1709.8 2210.8L1700.3 2217.1L1694 2210.8L1689.2 2209.2L1684.4 2198.1L1674.9 2185.4L1662.2 2177.5L1649.5 2171.1L1633.7 2167.9L1614.6 2160L1597.1 2153.7L1590.8 2160L1584.4 2148.9L1576.5 2136.2L1563.8 2134L1552.7 2137.1L1541.6 2128.3L1525.7 2127.6L1509.8 2121.9L1487.6 2114L1462.2 2106.7L1446.3 2102.9L1424.1 2097.1L1408.3 2091.7L1392.4 2086L1373.3 2087.6L1351.1 2083.8L1335.2 2082.2L1303.5 2075.9L1271.7 2071.1L1246.3 2072.7L1240 2069.5L1238.2 2070.6L1226.4 2066.7L1211.7 2063.8L1197 2063.8L1182.2 2062.6L1167.5 2063.2L1152.7 2057.3L1138 2054.3L1126.2 2049.9L1114.4 2050.8L1105.6 2045.5L1093.8 2042.5L1079 2042.5L1064.3 2038.1L1049.6 2036.7L1037.8 2037.2L1026 2033.7L1011.2 2031.3L996.5 2031.6L984.7 2032.8L975.8 2031.6L961.1 2032.2L946.4 2033.7L931.6 2036.7L916.9 2040.2L902.1 2044.9L887.4 2047L857.9 2052L828.4 2058.8L799 2066.7L775.4 2076.5L763.6 2080.9L740 2083.2L396.2 2119.2L258.3 2119.2Z" fill="#8a8889" fill-opacity="0.46"/>
<path d="M258.3 2216.5L391.8 2216.5L740 2180.5L763.6 2178.2L784.2 2177.6L813.7 2178.8L843.2 2181.1L863.8 2184.1L881.5 2188.5L896.2 2195L909.5 2198.8L922.8 2198.2L946.4 2198.2L964.1 2200.9L981.7 2204.7L996.5 2203.2L1014.2 2203.2L1026 2205.6L1037.8 2209.7L1049.6 2207.1L1061.3 2207.1L1070.2 2209.1L1079 2213.5L1087.9 2212.1L1099.7 2212.1L1108.5 2215L1114.4 2220L1123.3 2217.1L1132.1 2217.4L1142.4 2223.9L1152.7 2220.9L1158.6 2221.5L1169 2226.8L1176.3 2225.3L1182.2 2225.3L1191.1 2229.8L1199.9 2227.4L1205.8 2227.7L1213.2 2231.2L1220.5 2228.3L1229.4 2233.3L1238.2 2228.9L1239.2 2230.8L1240.2 2230.1L1241.2 2229.5L1242.2 2228.9L1243.2 2228.5L1244.2 2228.3L1245.2 2228.3L1246.2 2228.5L1247.2 2228.8L1248.2 2229.4L1249.2 2230.1L1250.2 2230.9L1251.2 2231.8L1252.2 2231.8L1253.2 2231.1L1254.2 2230.4L1255.2 2229.9L1256.2 2229.6L1257.2 2229.4L1258.2 2229.5L1259.2 2229.8L1260.2 2230.4L1261.2 2231.1L1262.2 2232L1263.2 2233L1264.2 2233.9L1265.2 2233.1L1266.2 2232.5L1267.2 2232L1268.2 2231.7L1269.2 2231.6L1270.2 2231.8L1271.2 2232.3L1272.2 2233L1273.2 2234L1274.2 2235.1L1275.2 2236.3L1276.2 2236.2L1277.2 2235.5L1278.2 2234.8L1279.2 2234.3L1280.2 2234L1281.2 2234L1282.2 2234.4L1283.2 2235L1284.2 2235.9L1285.2 2237L1286.2 2238L1287.2 2237L1288.2 2236.1L1289.2 2235.4L1290.2 2235L1291.2 2234.9L1292.2 2235.2L1293.2 2235.8L1294.2 2236.7L1295.2 2237.9L1296.2 2238.8L1297.2 2237.7L1298.2 2236.8L1299.2 2236.1L1300.2 2235.8L1301.2 2235.8L1302.2 2236.3L1303.2 2237.1L1304.2 2238.3L1305.2 2239.7L1306.2 2239L1307.2 2238.1L1308.2 2237.4L1309.2 2237.1L1310.2 2237.3L1311.2 2237.9L1312.2 2238.9L1313.2 2240.2L1314.2 2241.5L1315.2 2240.4L1316.2 2239.4L1317.2 2238.8L1318.2 2238.7L1319.2 2239.1L1320.2 2240L1321.2 2241.3L1322.2 2242.8L1323.2 2242.1L1324.2 2241.1L1325.2 2240.4L1326.2 2240.1L1327.2 2240.2L1328.2 2240.9L1329.2 2242L1330.2 2243.4L1331.2 2242L1332.2 2240.8L1333.2 2239.9L1334.2 2239.7L1335.2 2240.1L1336.2 2241L1337.2 2242.4L1338.2 2242.3L1339.2 2240.8L1340.2 2239.8L1341.2 2239.3L1342.2 2239.6L1343.2 2240.4L1344.2 2241.8L1345.2 2242.2L1346.2 2240.9L1347.2 2240L1348.2 2239.8L1349.2 2240.3L1350.2 2241.6L1351.2 2243.3L1352.2 2243.1L1353.2 2241.8L1354.2 2241.1L1355.2 2241.1L1356.2 2242L1357.2 2243.6L1358.2 2245L1359.2 2243.5L1360.2 2242.5L1361.2 2242.2L1362.2 2242.8L1363.2 2244.3L1364.2 2246.2L1365.2 2244.9L1366.2 2243.7L1367.2 2243.3L1368.2 2243.9L1369.2 2245.4L1370.2 2247.4L1371.2 2246L1372.2 2244.8L1373.2 2244.5L1374.2 2245.3L1375.2 2247L1376.2 2248.3L1377.2 2246.7L1378.2 2245.7L1379.2 2245.8L1380.2 2247L1381.2 2249L1382.2 2248.6L1383.2 2247.1L1384.2 2246.6L1385.2 2247.3L1386.2 2249L1387.2 2249.8L1388.2 2248L1389.2 2247.1L1390.2 2247.5L1391.2 2249.1L1392.2 2250.6L1393.2 2248.7L1394.2 2247.7L1395.2 2248L1396.2 2249.6L1397.2 2251L1398.2 2249.1L1399.2 2248.1L1400.2 2248.6L1401.2 2250.5L1402.2 2251.1L1403.2 2249.2L1404.2 2248.6L1405.2 2249.5L1406.2 2251.7L1407.2 2250.9L1408.2 2249.3L1409.2 2249.4L1410.2 2251L1411.2 2252.6L1412.2 2250.5L1413.2 2249.7L1414.2 2250.7L1415.2 2253L1416.2 2251.7L1417.2 2250.3L1418.2 2250.7L1419.2 2252.8L1420.2 2252.8L1421.2 2251L1422.2 2251L1423.2 2252.9L1424.2 2253.7L1425.2 2251.7L1426.2 2251.4L1427.2 2253.2L1428.2 2254.3L1429.2 2252.2L1430.2 2252L1431.2 2253.7L1432.2 2254.2L1433.2 2251.9L1434.2 2251.7L1435.2 2253.7L1436.2 2253.3L1437.2 2251.3L1438.2 2251.6L1439.2 2254L1440.2 2252.5L1441.2 2252L1442.2 2252.3L1443.2 2252.8L1444.2 2251.9L1445.2 2251.6L1446.2 2252.3L1447.2 2252.1L1448.2 2251.5L1449.2 2251.9L1450.2 2252.7L1451.2 2251.8L1452.2 2251.8L1453.2 2252.6L1454.2 2252.2L1455.2 2251.8L1456.2 2252.4L1457.2 2252.6L1458.2 2252L1459.2 2252.3L1460.2 2253L1461.2 2252.2L1462.2 2252.3L1463.2 2253.3L1464.2 2252.4L1465.2 2252.4L1466.2 2253.4L1467.2 2252.7L1468.2 2252.5L1469.2 2253.5L1470.2 2252.9L1471.2 2252.7L1472.2 2253.7L1473.2 2253.1L1474.2 2252.9L1475.2 2253.9L1476.2 2253.2L1477.2 2253.1L1478.2 2254.2L1479.2 2253.3L1480.2 2253.4L1481.2 2254.2L1482.2 2253.3L1483.2 2253.8L1484.2 2254.1L1485.2 2253.5L1486.2 2254.3L1487.2 2253.9L1488.2 2253.7L1489.2 2254.9L1490.2 2253.9L1491.2 2254.2L1492.2 2254.6L1493.2 2254L1494.2 2254.9L1495.2 2254.2L1496.2 2254.2L1497.2 2254.8L1498.2 2254L1499.2 2254.8L1500.2 2254.2L1501.2 2254.3L1502.2 2254.7L1503.2 2254L1504.2 2255L1505.2 2254.1L1506.2 2254.5L1507.2 2254.4L1508.2 2254.1L1509.2 2254.9L1510.2 2254L1511.2 2255L1512.2 2254.1L1513.2 2254.6L1514.2 2254.3L1515.2 2254.3L1516.2 2254.6L1517.2 2254.1L1518.2 2254.9L1519.2 2254L1520.2 2255.2L1521.2 2254L1522.2 2255L1523.2 2254.1L1524.2 2254.8L1525.2 2254.1L1526.2 2254.6L1527.2 2254.2L1528.2 2254.5L1529.2 2254.2L1530.2 2254.5L1531.2 2254.2L1532.2 2254.5L1533.2 2254.2L1534.2 2254.5L1535.2 2254.2L1536.2 2254.6L1537.2 2254.1L1538.2 2254.8L1539.2 2254.1L1540.2 2254.9L1541.2 2254L1542.2 2255.2L1543.2 2254L1544.2 2254.9L1545.2 2254.1L1546.2 2254.6L1547.2 2254.3L1548.2 2254.3L1549.2 2254.7L1550.2 2254L1551.2 2255.1L1552.2 2254L1553.2 2254.7L1554.2 2254.3L1555.2 2254.2L1556.2 2254.8L1557.2 2254L1558.2 2254.9L1559.2 2254L1560.2 2254.1L1561.2 2254.5L1562.2 2253.6L1563.2 2254.3L1564.2 2253.8L1565.2 2253.5L1566.2 2254.5L1567.2 2253.3L1568.2 2253.6L1569.2 2253.8L1570.2 2253L1571.2 2253.8L1572.2 2253.2L1573.2 2252.9L1574.2 2253.9L1575.2 2252.7L1576.2 2253L1577.2 2253.2L1578.2 2252.4L1579.2 2253.2L1580.2 2252.6L1581.2 2252.3L1582.2 2253.3L1583.2 2252.2L1584.2 2252.5L1585.2 2252.8L1586.2 2252.2L1587.2 2253L1588.2 2252.5L1589.2 2252.4L1590.2 2253.4L1591.2 2252.4L1592.2 2252.7L1593.2 2253L1594.2 2252.4L1595.2 2253.2L1596.2 2252.7L1597.2 2252.6L1598.2 2253.6L1599.2 2252.6L1600.2 2252.9L1601.2 2253.2L1602.2 2252.6L1603.2 2253.4L1604.2 2252.9L1605.2 2252.8L1606.2 2253.8L1607.2 2252.8L1608.2 2253.1L1609.2 2253.4L1610.2 2252.8L1611.2 2253.6L1612.2 2253.1L1613.2 2253L1614.2 2254L1615.2 2253L1616.2 2253.3L1617.2 2253.6L1618.2 2253L1619.2 2253.8L1620.2 2253.3L1621.2 2253.2L1622.2 2254.2L1623.2 2253.2L1624.2 2253.5L1625.2 2253.9L1626.2 2253.2L1627.2 2254L1628.2 2253.6L1629.2 2253.4L1630.2 2254.5L1631.2 2253.4L1632.2 2253.8L1633.2 2254.1L1634.2 2253.5L1635.2 2254.3L1636.2 2253.8L1637.2 2253.7L1638.2 2254.7L1639.2 2253.7L1640.2 2254L1641.2 2254.3L1642.2 2253.7L1643.2 2254.5L1644.2 2254.1L1645.2 2253.9L1646.2 2254.9L1647.2 2253.9L1648.2 2254.3L1649.2 2254.6L1650.2 2253.9L1651.2 2254.8L1652.2 2254.3L1653.2 2254.2L1654.2 2255.3L1655.2 2254.3L1656.2 2254.6L1657.2 2255L1658.2 2254.4L1659.2 2255.3L1660.2 2254.8L1661.2 2254.7L1662.2 2255.8L1663.2 2254.8L1664.2 2255.2L1665.2 2255.6L1666.2 2255L1667.2 2255.8L1668.2 2255.4L1669.2 2255.3L1670.2 2256.4L1671.2 2255.4L1672.2 2255.8L1673.2 2256.1L1674.2 2255.5L1675.2 2256.4L1676.2 2256L1677.2 2255.8L1678.2 2256.9L1679.2 2255.9L1680.2 2256.3L1681.2 2256.7L1682.2 2256.1L1683.2 2256.9L1684.2 2256.5L1685.2 2256.4L1686.2 2257.5L1687.2 2256.5L1688.2 2256.9L1689.2 2257.2L1690.2 2256.6L1691.2 2257.5L1692.2 2257.1L1693.2 2257L1694.2 2258.1L1695.2 2257.1L1696.2 2257.4L1697.2 2257.8L1698.2 2257.2L1699.2 2258.1L1700.2 2257.6L1701.2 2257.5L1702.2 2258.6L1703.2 2257.6L1704.2 2258L1705.2 2258.4L1706.2 2257.8L1707.2 2258.6L1708.2 2258.2L1709.2 2258.1L1710.2 2259.2L1711.2 2258.2L1712.2 2258.6L1713.2 2258.9L1714.2 2258.3L1715.2 2259.2L1716.2 2258.8L1717.2 2258.7L1718.2 2259.9L1719.2 2258.9L1720.2 2259.4L1721.2 2259.8L1722.2 2259.2L1723.2 2260.2L1724.2 2259.8L1725.2 2259.7L1726.2 2260.9L1727.2 2260L1728.2 2260.4L1729.2 2260.8L1730.2 2260.3L1731.2 2261.2L1732.2 2260.8L1733.2 2260.8L1734.2 2261.9L1735.2 2261L1736.2 2261.4L1737.2 2261.9L1738.2 2261.3L1739.2 2262.2L1740.2 2261.9L1741.2 2261.8L1742.2 2263L1743.2 2262L1744.2 2262.5L1745.2 2262.9L1746.2 2262.4L1747.2 2263.3L1748.2 2262.9L1749.2 2262.8L1750.2 2263.9L1751.2 2262.9L1752.2 2263.3L1753.2 2263.6L1754.2 2263L1755.2 2263.9L1756.2 2263.4L1757.2 2263.3L1758.2 2264.4L1759.2 2263.4L1760.2 2263.8L1761.2 2264.1L1762.2 2263.5L1763.2 2264.4L1764.2 2264L1765.2 2263.8L1766.2 2264.9L1767.2 2263.9L1768.2 2264.3L1769.2 2264.7L1770.2 2264L1771.2 2264.9L1772.2 2264.5L1773.2 2264.4L1774.2 2265.5L1775.2 2264.4L1776.2 2264.8L1777.2 2265.2L1778.2 2264.6L1779.2 2265.4L1780.2 2265L1781.2 2264.9" fill="none" stroke="#4a4a4a" stroke-width="5.4" stroke-linejoin="round"/>
<path d="M1400.2 2246.4L1401.2 2248L1402.2 2247.9L1403.2 2247L1404.2 2246L1405.2 2246.8L1406.2 2248.1L1407.2 2248.2L1408.2 2246.9L1409.2 2246.5L1410.2 2248.1L1411.2 2248.7L1412.2 2247.9L1413.2 2246.7L1414.2 2246.7L1415.2 2250.3L1416.2 2248L1417.2 2247.2L1418.2 2248.2L1419.2 2249.2L1420.2 2249.8L1421.2 2248.6L1422.2 2247.8L1423.2 2250.1L1424.2 2250.8L1425.2 2248.9L1426.2 2248.8L1427.2 2250.5L1428.2 2251.4L1429.2 2247.8L1430.2 2249.4L1431.2 2249L1432.2 2249.3L1433.2 2248.6L1434.2 2249L1435.2 2250.9L1436.2 2249.7L1437.2 2247.8L1438.2 2247.9L1439.2 2250.2L1440.2 2249.4L1441.2 2249.4L1442.2 2249.3L1443.2 2249.8L1444.2 2248.9L1445.2 2248.2L1446.2 2247.9L1447.2 2249.3L1448.2 2248.3L1449.2 2248.5L1450.2 2248.9L1451.2 2248.7L1452.2 2248.5L1453.2 2248.2L1454.2 2247.2L1455.2 2249.1L1456.2 2249.1L1457.2 2249.3L1458.2 2248.6L1459.2 2248.8L1460.2 2248.8L1461.2 2247.9L1462.2 2247L1463.2 2250.4L1464.2 2249.3L1465.2 2248.1L1466.2 2250.1L1467.2 2249.6L1468.2 2249.6L1469.2 2248.5L1470.2 2248.4L1471.2 2249.6L1472.2 2250.8L1473.2 2249.3L1474.2 2249.7L1475.2 2250.9L1476.2 2249.5L1477.2 2250.2L1478.2 2250.8L1479.2 2249.7L1480.2 2250.1L1481.2 2251L1482.2 2250.4L1483.2 2250.1L1484.2 2251L1485.2 2249.4L1486.2 2250.9L1487.2 2249.6L1488.2 2249.9L1489.2 2251.3L1490.2 2250.4L1491.2 2251.2L1492.2 2250.7L1493.2 2250.9L1494.2 2251.7L1495.2 2249.7L1496.2 2250L1497.2 2251.7L1498.2 2250.6L1499.2 2250.6L1500.2 2250.6L1501.2 2251L1502.2 2251.2L1503.2 2250.8L1504.2 2251L1505.2 2249.8L1506.2 2250.5L1507.2 2250.3L1508.2 2250.5L1509.2 2251.5L1510.2 2250L1511.2 2250.8L1512.2 2250.5L1513.2 2250.5L1514.2 2250.3L1515.2 2250.6L1516.2 2250.6L1517.2 2249.9L1518.2 2249.6L1519.2 2250.2L1520.2 2251.6L1521.2 2249L1522.2 2250.6L1523.2 2249.9L1524.2 2251.3L1525.2 2250.6L1526.2 2250.3L1527.2 2248.7L1528.2 2251L1529.2 2249.1L1530.2 2251.1L1531.2 2249.8L1532.2 2250.4L1533.2 2249.7L1534.2 2250.6L1535.2 2250.7L1536.2 2250L1537.2 2249.7L1538.2 2250.4L1539.2 2250.4L1540.2 2250.1L1541.2 2250.1L1542.2 2250.9L1543.2 2250.4L1544.2 2250.3L1545.2 2250.3L1546.2 2250.5L1547.2 2250.7L1548.2 2250L1549.2 2250.6L1550.2 2250.5L1551.2 2250.8L1552.2 2249.5L1553.2 2251L1554.2 2249.7L1555.2 2249.6L1556.2 2250.3L1557.2 2249.6L1558.2 2250.6L1559.2 2250L1560.2 2249.9L1561.2 2250.6L1562.2 2249.4L1563.2 2250.3L1564.2 2249.4L1565.2 2249.6L1566.2 2250.1L1567.2 2248.3L1568.2 2248.9L1569.2 2249L1570.2 2248.4L1571.2 2248.6L1572.2 2247.7L1573.2 2247.5L1574.2 2249.4L1575.2 2247.4L1576.2 2248.5L1577.2 2248.9L1578.2 2248.2L1579.2 2249.1L1580.2 2247.9L1581.2 2248.4L1582.2 2249.1L1583.2 2248L1584.2 2248.4L1585.2 2248.5L1586.2 2248.2L1587.2 2248.5L1588.2 2247.5L1589.2 2247.7L1590.2 2249.1L1591.2 2247.7L1592.2 2247.2L1593.2 2248.8L1594.2 2248L1595.2 2248.3L1596.2 2248.7L1597.2 2247.7L1598.2 2248.9L1599.2 2247.9L1600.2 2247.9L1601.2 2248.3L1602.2 2247.8L1603.2 2248.7L1604.2 2248.3L1605.2 2248L1606.2 2249L1607.2 2247.7L1608.2 2247.4L1609.2 2248.9L1610.2 2248.6L1611.2 2248.4L1612.2 2248.6L1613.2 2248.9L1614.2 2248.8L1615.2 2248.3L1616.2 2247.8L1617.2 2248.1L1618.2 2248.6L1619.2 2249.4L1620.2 2249.2L1621.2 2248.3L1622.2 2249.1L1623.2 2248.5L1624.2 2248.9L1625.2 2247.6L1626.2 2248.4L1627.2 2248.4L1628.2 2248.3L1629.2 2247.7L1630.2 2248.9L1631.2 2248.2L1632.2 2248.1L1633.2 2249.5L1634.2 2248L1635.2 2249.8L1636.2 2249L1637.2 2248.5L1638.2 2249.9L1639.2 2248.5L1640.2 2249.5L1641.2 2250L1642.2 2248.6L1643.2 2249.4L1644.2 2248.2L1645.2 2248.8L1646.2 2250.3L1647.2 2248.2L1648.2 2249L1649.2 2249.5L1650.2 2249L1651.2 2249.6L1652.2 2248.6L1653.2 2249.8L1654.2 2249.9L1655.2 2249L1656.2 2249.3L1657.2 2250.3L1658.2 2249L1659.2 2248.8L1660.2 2250.3L1661.2 2250.2L1662.2 2249.4L1663.2 2248.4L1664.2 2249.9L1665.2 2250.3L1666.2 2250.4L1667.2 2251.3L1668.2 2249.8L1669.2 2250.6L1670.2 2251.6L1671.2 2250.4L1672.2 2250.8L1673.2 2251.6L1674.2 2249.5L1675.2 2251.3L1676.2 2251.1L1677.2 2251.3L1678.2 2252.2L1679.2 2250.7L1680.2 2251.4L1681.2 2251.6L1682.2 2251.6L1683.2 2252.4L1684.2 2250.3L1685.2 2251.3L1686.2 2252.4L1687.2 2251.7L1688.2 2252.5L1689.2 2252.7L1690.2 2251.6L1691.2 2252.2L1692.2 2252.5L1693.2 2251.4L1694.2 2252.6L1695.2 2252.5L1696.2 2252.4L1697.2 2253L1698.2 2252.5L1699.2 2252.5L1700.2 2252.2L1701.2 2252.7L1702.2 2254.1L1703.2 2252.9L1704.2 2253.1L1705.2 2253.4L1706.2 2251.3L1707.2 2253.9L1708.2 2253.8L1709.2 2253.4L1710.2 2253.3L1711.2 2252.8L1712.2 2253.6L1713.2 2253.6L1714.2 2253L1715.2 2254L1716.2 2253.4L1717.2 2254.1L1718.2 2253.8L1719.2 2253.3L1720.2 2254.6L1721.2 2255.4L1722.2 2254.8L1723.2 2255.6L1724.2 2255L1725.2 2255.1L1726.2 2256.3L1727.2 2254L1728.2 2255.5L1729.2 2256.2L1730.2 2255.5L1731.2 2256.2L1732.2 2254.9L1733.2 2255.2L1734.2 2254.6L1735.2 2256.2L1736.2 2256.9L1737.2 2256.9L1738.2 2255.7L1739.2 2257.8L1740.2 2257.5L1741.2 2256.9L1742.2 2258.3L1743.2 2257L1744.2 2258L1745.2 2257.1L1746.2 2257.4L1747.2 2258L1748.2 2256.9L1749.2 2257.7L1750.2 2258.9L1751.2 2258.2L1752.2 2258L1753.2 2257.8L1754.2 2258L1755.2 2259.4L1756.2 2257.6L1757.2 2257.4L1758.2 2259.3L1759.2 2259L1760.2 2259L1761.2 2259.2L1762.2 2257.8L1763.2 2258.8L1764.2 2258.6L1765.2 2259.3L1766.2 2259.6L1767.2 2259.3L1768.2 2258.8L1769.2 2260L1770.2 2259.1L1771.2 2260.4L1772.2 2259.8L1773.2 2258.6L1774.2 2260.6L1775.2 2259.9L1776.2 2260.2L1777.2 2260.3L1778.2 2259.7L1779.2 2261L1780.2 2260.4L1781.2 2260L1781.2 2269.8L1780.2 2269.4L1779.2 2270.1L1778.2 2269.8L1777.2 2270.7L1776.2 2270.3L1775.2 2269.7L1774.2 2270.9L1773.2 2268.9L1772.2 2270.1L1771.2 2271L1770.2 2268.9L1769.2 2269.9L1768.2 2269.7L1767.2 2269.8L1766.2 2270.5L1765.2 2269L1764.2 2269.5L1763.2 2269L1762.2 2268.6L1761.2 2270.2L1760.2 2269L1759.2 2269.2L1758.2 2268.9L1757.2 2267.9L1756.2 2268.2L1755.2 2269L1754.2 2268.4L1753.2 2268.3L1752.2 2268.2L1751.2 2267.8L1750.2 2269L1749.2 2267.7L1748.2 2268.5L1747.2 2269L1746.2 2267.6L1745.2 2268.9L1744.2 2267.2L1743.2 2267.4L1742.2 2267.4L1741.2 2266.4L1740.2 2266.9L1739.2 2268.1L1738.2 2267.3L1737.2 2266.7L1736.2 2267L1735.2 2265.5L1734.2 2267.6L1733.2 2266L1732.2 2265.8L1731.2 2265.8L1730.2 2264.7L1729.2 2266.6L1728.2 2265L1727.2 2265.3L1726.2 2266.5L1725.2 2264.2L1724.2 2265L1723.2 2264.9L1722.2 2263.9L1721.2 2264.2L1720.2 2264.2L1719.2 2263.8L1718.2 2264.3L1717.2 2263.4L1716.2 2263.7L1715.2 2264.2L1714.2 2263.2L1713.2 2264.7L1712.2 2265.6L1711.2 2263.9L1710.2 2265L1709.2 2262.7L1708.2 2263.3L1707.2 2263.3L1706.2 2262.4L1705.2 2263.2L1704.2 2263.2L1703.2 2262L1702.2 2263.9L1701.2 2262.9L1700.2 2262.3L1699.2 2262.6L1698.2 2261.8L1697.2 2262.6L1696.2 2262.3L1695.2 2262.1L1694.2 2262.5L1693.2 2262.9L1692.2 2262.6L1691.2 2263.4L1690.2 2261.2L1689.2 2262.8L1688.2 2261.8L1687.2 2262.4L1686.2 2262L1685.2 2260.9L1684.2 2261.9L1683.2 2262.4L1682.2 2260.8L1681.2 2261.5L1680.2 2262.2L1679.2 2260.7L1678.2 2262.1L1677.2 2260.5L1676.2 2261.3L1675.2 2262.2L1674.2 2260.1L1673.2 2261.2L1672.2 2260.4L1671.2 2261L1670.2 2261.6L1669.2 2261.4L1668.2 2261.6L1667.2 2261.3L1666.2 2260.7L1665.2 2261L1664.2 2260.1L1663.2 2259.3L1662.2 2260.9L1661.2 2259.6L1660.2 2259.3L1659.2 2260.6L1658.2 2261L1657.2 2260.1L1656.2 2260L1655.2 2260.1L1654.2 2260.9L1653.2 2259.4L1652.2 2259.2L1651.2 2260.7L1650.2 2259L1649.2 2260.9L1648.2 2260L1647.2 2258.4L1646.2 2259.4L1645.2 2259L1644.2 2258.6L1643.2 2259.2L1642.2 2258.8L1641.2 2258.9L1640.2 2259L1639.2 2258.6L1638.2 2260.5L1637.2 2259.6L1636.2 2258.3L1635.2 2259L1634.2 2259.5L1633.2 2259.1L1632.2 2259.4L1631.2 2259.1L1630.2 2259.3L1629.2 2258.1L1628.2 2258.4L1627.2 2258.9L1626.2 2257.9L1625.2 2259.4L1624.2 2257.8L1623.2 2257.8L1622.2 2260.7L1621.2 2258.7L1620.2 2258.2L1619.2 2258.4L1618.2 2257.7L1617.2 2258.3L1616.2 2259.5L1615.2 2258.1L1614.2 2258.7L1613.2 2257.7L1612.2 2259L1611.2 2257.7L1610.2 2257.6L1609.2 2258.9L1608.2 2257.2L1607.2 2257.9L1606.2 2258.5L1605.2 2257.7L1604.2 2258.2L1603.2 2258.5L1602.2 2258.2L1601.2 2258.3L1600.2 2259.2L1599.2 2258.1L1598.2 2258.4L1597.2 2257.6L1596.2 2258L1595.2 2257.3L1594.2 2256.6L1593.2 2258.6L1592.2 2256.8L1591.2 2257.3L1590.2 2258.1L1589.2 2257.8L1588.2 2256.7L1587.2 2257.4L1586.2 2256.1L1585.2 2258.1L1584.2 2256.4L1583.2 2256.6L1582.2 2258.4L1581.2 2257.2L1580.2 2257.3L1579.2 2259L1578.2 2257.1L1577.2 2257L1576.2 2257.4L1575.2 2257.2L1574.2 2258.6L1573.2 2257.1L1572.2 2257L1571.2 2258L1570.2 2258.6L1569.2 2258.1L1568.2 2257.4L1567.2 2257.2L1566.2 2258.9L1565.2 2257.9L1564.2 2257.6L1563.2 2258.4L1562.2 2258L1561.2 2258.3L1560.2 2257.7L1559.2 2258.8L1558.2 2258.5L1557.2 2258.7L1556.2 2259.5L1555.2 2260.1L1554.2 2257.8L1553.2 2258.7L1552.2 2257.9L1551.2 2260.1L1550.2 2258.9L1549.2 2258.6L1548.2 2257.9L1547.2 2258.8L1546.2 2258.8L1545.2 2257.6L1544.2 2259L1543.2 2257.5L1542.2 2258.7L1541.2 2259.8L1540.2 2258.7L1539.2 2259.8L1538.2 2258.6L1537.2 2257.9L1536.2 2258.4L1535.2 2259.8L1534.2 2258.4L1533.2 2258.3L1532.2 2259.1L1531.2 2257.6L1530.2 2258.5L1529.2 2260.1L1528.2 2257.9L1527.2 2257.9L1526.2 2258L1525.2 2258.1L1524.2 2259.5L1523.2 2257.4L1522.2 2258.9L1521.2 2258.2L1520.2 2259.4L1519.2 2257.9L1518.2 2258.2L1517.2 2259.6L1516.2 2258L1515.2 2257.6L1514.2 2258.1L1513.2 2258.3L1512.2 2257.6L1511.2 2258.3L1510.2 2257.7L1509.2 2258.2L1508.2 2257.4L1507.2 2257.9L1506.2 2258L1505.2 2258.8L1504.2 2258.8L1503.2 2257.4L1502.2 2257.9L1501.2 2258.3L1500.2 2258.6L1499.2 2259.8L1498.2 2257.4L1497.2 2258.9L1496.2 2259L1495.2 2258.2L1494.2 2259L1493.2 2257.4L1492.2 2257.9L1491.2 2258.7L1490.2 2257.7L1489.2 2259.9L1488.2 2257.2L1487.2 2257.8L1486.2 2257.7L1485.2 2256.5L1484.2 2257.3L1483.2 2258L1482.2 2256.9L1481.2 2258.1L1480.2 2258.3L1479.2 2256.2L1478.2 2257.7L1477.2 2256.4L1476.2 2256.8L1475.2 2258.5L1474.2 2257L1473.2 2256.3L1472.2 2257.2L1471.2 2256.8L1470.2 2255.8L1469.2 2257L1468.2 2256.4L1467.2 2256.7L1466.2 2256.5L1465.2 2255.3L1464.2 2257L1463.2 2256.6L1462.2 2256.1L1461.2 2256.9L1460.2 2256L1459.2 2256.3L1458.2 2256L1457.2 2255.9L1456.2 2255.7L1455.2 2254.6L1454.2 2256.4L1453.2 2255.7L1452.2 2255.2L1451.2 2255L1450.2 2255.7L1449.2 2255L1448.2 2254.3L1447.2 2255.4L1446.2 2255.8L1445.2 2255.9L1444.2 2254.7L1443.2 2256.2L1442.2 2255.1L1441.2 2255L1440.2 2255.5L1439.2 2256.7L1438.2 2254.7L1437.2 2254.2L1436.2 2255.9L1435.2 2257.4L1434.2 2255.1L1433.2 2255.4L1432.2 2257.5L1431.2 2256.6L1430.2 2255.1L1429.2 2254.7L1428.2 2256.9L1427.2 2257.5L1426.2 2254.7L1425.2 2254.2L1424.2 2256.2L1423.2 2255.8L1422.2 2254.8L1421.2 2253.8L1420.2 2255.8L1419.2 2255.3L1418.2 2253.4L1417.2 2253.2L1416.2 2254.5L1415.2 2255.6L1414.2 2254.2L1413.2 2254L1412.2 2253.1L1411.2 2255.3L1410.2 2253.4L1409.2 2251.8L1408.2 2252.7L1407.2 2253.7L1406.2 2254.6L1405.2 2253.2L1404.2 2252L1403.2 2252.1L1402.2 2253.8L1401.2 2254.1L1400.2 2251.2Z" fill="#4a4a4a" fill-opacity="1"/>
<path d="M258.3 2075.6L391.8 2075.6L740 2039.6L763.6 2037.2L775.4 2033.7L799 2026.3L828.4 2019L857.9 2014L887.4 2010.1L902.1 2008.1L916.9 2005.7L931.6 2004.8L946.4 2004.2L964.1 2004.2L981.7 2005.1L1005.3 2005.1L1020.1 2006.6L1037.8 2010.1L1052.5 2010.7L1067.2 2013.1L1079 2016L1093.8 2017.5L1105.6 2019.8L1114.4 2022.8L1129.2 2023.4L1143.9 2027.8L1158.6 2030.2L1169 2033.7L1182.2 2035.2L1194 2038.1L1211.7 2040.2L1226.4 2043.4L1240 2045.1L1255.9 2048.9L1281.3 2051.4L1303.5 2055.2L1332.1 2061L1351.1 2061.6L1373.3 2062.2L1389.2 2061.6L1405.1 2065.4L1424.1 2072.7L1443.2 2074.9L1462.2 2080L1487.6 2087L1509.8 2094L1528.9 2099.7L1541.6 2099.7L1554.3 2105.4L1574.9 2106.7L1582.9 2115.6L1590.2 2125.7L1597.1 2122.5L1614.6 2128.9L1627.3 2130.5L1635.2 2135.2L1646.3 2134.6L1659 2141L1674.9 2148.9L1681.3 2156.8L1687.6 2169.5L1690.8 2174.3L1694.6 2172.1L1700.3 2179L1709.8 2172.7L1719.4 2162.5L1724.1 2159.4L1728.9 2160.6L1735.2 2172.7L1743.2 2191.7L1751.1 2206L1757.5 2214.6L1765.4 2215.6L1773.3 2221.9L1781.6 2226" fill="none" stroke="#2a68b6" stroke-width="5.9" stroke-linejoin="round"/>
<g fill="#c9081f"><circle cx="255.8" cy="207.8" r="5.8"/><circle cx="419.1" cy="210.6" r="5.8"/><circle cx="582.5" cy="212.2" r="5.8"/><circle cx="651.9" cy="193.4" r="5.8"/><circle cx="924.2" cy="209.7" r="5.8"/><circle cx="1121.9" cy="201" r="5.8"/><circle cx="1163.6" cy="185.2" r="5.8"/><circle cx="1175.2" cy="215.4" r="5.8"/><circle cx="1259.3" cy="41.6" r="5.8"/><circle cx="1303.6" cy="215.4" r="5.8"/><circle cx="1334" cy="195.2" r="5.8"/><circle cx="1389.8" cy="203.8" r="5.8"/><circle cx="1512.6" cy="215.8" r="5.8"/><circle cx="1555.2" cy="217.4" r="5.8"/><circle cx="1689" cy="215.8" r="5.8"/><circle cx="1698.7" cy="161.2" r="5.8"/><circle cx="1748" cy="201.1" r="5.8"/></g>
<g fill="#c9081f"><circle cx="257.7" cy="981.2" r="5.8"/><circle cx="421" cy="981.2" r="5.8"/><circle cx="584.2" cy="981.2" r="5.8"/><circle cx="653.6" cy="981.2" r="5.8"/><circle cx="929.8" cy="981.2" r="5.8"/><circle cx="1123.4" cy="981.2" r="5.8"/><circle cx="1161.8" cy="981.2" r="5.8"/><circle cx="1177" cy="981.2" r="5.8"/><circle cx="1260.9" cy="981.2" r="5.8"/><circle cx="1305.3" cy="981.2" r="5.8"/><circle cx="1335.9" cy="981.2" r="5.8"/><circle cx="1391.7" cy="981.2" r="5.8"/><circle cx="1514.5" cy="981.2" r="5.8"/><circle cx="1557.1" cy="981.2" r="5.8"/><circle cx="1694.3" cy="981.2" r="5.8"/><circle cx="1704.3" cy="981.2" r="5.8"/><circle cx="1749.9" cy="981.2" r="5.8"/></g>
</svg>
</body></html>
